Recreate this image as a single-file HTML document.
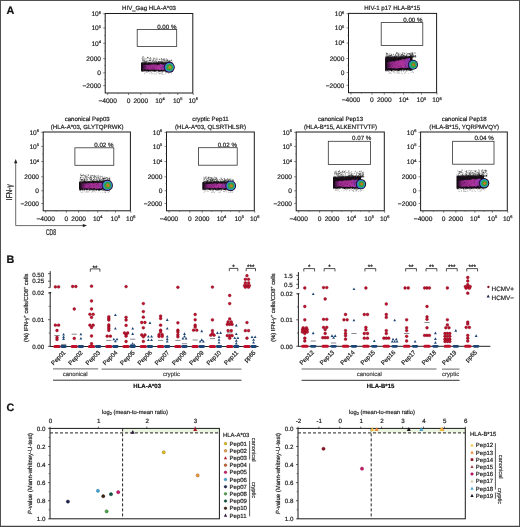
<!DOCTYPE html>
<html><head><meta charset="utf-8"><style>
html,body{margin:0;padding:0;background:#fff;}
body{width:520px;height:527px;overflow:hidden;position:relative;font-family:"Liberation Sans",sans-serif;}
svg{position:absolute;left:0;top:0;display:block;will-change:transform;text-rendering:geometricPrecision;}
</style></head><body>
<svg width="520" height="527" viewBox="0 0 520 527" font-family="Liberation Sans, sans-serif">
<rect x="0" y="0" width="520" height="527" fill="#fff"/>
<text x="6.50" y="14.47" font-size="10.8" text-anchor="start" fill="#111" stroke="#111" stroke-width="0.2" font-weight="bold" >A</text>
<rect x="105.20" y="13.50" width="87.60" height="79.50" fill="none" stroke="#1a1a1a" stroke-width="1"/>
<line x1="103.20" y1="13.80" x2="105.20" y2="13.80" stroke="#333" stroke-width="0.6" />
<text x="101.00" y="16.16" font-size="6.6" text-anchor="end" fill="#222" stroke="#222" stroke-width="0.2" >10<tspan font-size="4" dy="-2.3">6</tspan></text>
<line x1="103.20" y1="28.00" x2="105.20" y2="28.00" stroke="#333" stroke-width="0.6" />
<text x="101.00" y="30.36" font-size="6.6" text-anchor="end" fill="#222" stroke="#222" stroke-width="0.2" >10<tspan font-size="4" dy="-2.3">5</tspan></text>
<line x1="103.20" y1="43.30" x2="105.20" y2="43.30" stroke="#333" stroke-width="0.6" />
<text x="101.00" y="45.66" font-size="6.6" text-anchor="end" fill="#222" stroke="#222" stroke-width="0.2" >10<tspan font-size="4" dy="-2.3">4</tspan></text>
<line x1="103.20" y1="58.70" x2="105.20" y2="58.70" stroke="#333" stroke-width="0.6" />
<text x="101.00" y="61.06" font-size="6.6" text-anchor="end" fill="#222" stroke="#222" stroke-width="0.2" >2000</text>
<line x1="103.20" y1="72.80" x2="105.20" y2="72.80" stroke="#333" stroke-width="0.6" />
<text x="101.00" y="75.16" font-size="6.6" text-anchor="end" fill="#222" stroke="#222" stroke-width="0.2" >0</text>
<line x1="103.20" y1="85.60" x2="105.20" y2="85.60" stroke="#333" stroke-width="0.6" />
<text x="101.00" y="87.96" font-size="6.6" text-anchor="end" fill="#222" stroke="#222" stroke-width="0.2" >−2000</text>
<line x1="104.00" y1="21.00" x2="105.20" y2="21.00" stroke="#555" stroke-width="0.5" />
<line x1="104.00" y1="35.50" x2="105.20" y2="35.50" stroke="#555" stroke-width="0.5" />
<line x1="104.00" y1="51.00" x2="105.20" y2="51.00" stroke="#555" stroke-width="0.5" />
<line x1="104.00" y1="65.50" x2="105.20" y2="65.50" stroke="#555" stroke-width="0.5" />
<line x1="104.00" y1="79.50" x2="105.20" y2="79.50" stroke="#555" stroke-width="0.5" />
<line x1="107.70" y1="93.00" x2="107.70" y2="95.00" stroke="#333" stroke-width="0.6" />
<text x="107.70" y="102.76" font-size="6.6" text-anchor="middle" fill="#222" stroke="#222" stroke-width="0.2" >−4000</text>
<line x1="128.50" y1="93.00" x2="128.50" y2="95.00" stroke="#333" stroke-width="0.6" />
<text x="128.50" y="102.76" font-size="6.6" text-anchor="middle" fill="#222" stroke="#222" stroke-width="0.2" >0</text>
<line x1="140.80" y1="93.00" x2="140.80" y2="95.00" stroke="#333" stroke-width="0.6" />
<text x="140.80" y="102.76" font-size="6.6" text-anchor="middle" fill="#222" stroke="#222" stroke-width="0.2" >2000</text>
<line x1="160.00" y1="93.00" x2="160.00" y2="95.00" stroke="#333" stroke-width="0.6" />
<text x="160.00" y="102.76" font-size="6.6" text-anchor="middle" fill="#222" stroke="#222" stroke-width="0.2" >10<tspan font-size="4" dy="-2.3">4</tspan></text>
<line x1="177.70" y1="93.00" x2="177.70" y2="95.00" stroke="#333" stroke-width="0.6" />
<text x="177.70" y="102.76" font-size="6.6" text-anchor="middle" fill="#222" stroke="#222" stroke-width="0.2" >10<tspan font-size="4" dy="-2.3">5</tspan></text>
<line x1="193.20" y1="93.00" x2="193.20" y2="95.00" stroke="#333" stroke-width="0.6" />
<text x="193.20" y="102.76" font-size="6.6" text-anchor="middle" fill="#222" stroke="#222" stroke-width="0.2" >10<tspan font-size="4" dy="-2.3">6</tspan></text>
<line x1="118.20" y1="93.00" x2="118.20" y2="94.20" stroke="#555" stroke-width="0.5" />
<line x1="150.20" y1="93.00" x2="150.20" y2="94.20" stroke="#555" stroke-width="0.5" />
<line x1="169.20" y1="93.00" x2="169.20" y2="94.20" stroke="#555" stroke-width="0.5" />
<text x="149.00" y="10.18" font-size="6.1" text-anchor="middle" fill="#222" stroke="#222" stroke-width="0.2" >HIV_Gag HLA-A*03</text>
<rect x="137.20" y="29.40" width="39.50" height="17.10" fill="none" stroke="#333" stroke-width="0.8"/>
<text x="176.40" y="28.82" font-size="6.2" text-anchor="end" fill="#222" stroke="#222" stroke-width="0.2" >0.00 %</text>
<path d="M151.3,63.2h0.8v0.8h-0.8zM142.6,62.6h0.8v0.8h-0.8zM148.8,62.0h0.8v0.8h-0.8zM160.6,62.0h0.8v0.8h-0.8zM158.5,61.3h0.8v0.8h-0.8zM144.5,60.6h0.8v0.8h-0.8zM150.2,57.3h0.8v0.8h-0.8zM146.1,62.3h0.8v0.8h-0.8zM159.1,62.5h0.8v0.8h-0.8zM170.1,62.5h0.8v0.8h-0.8zM146.1,61.2h0.8v0.8h-0.8zM162.4,62.3h0.8v0.8h-0.8zM160.7,63.1h0.8v0.8h-0.8zM171.3,62.6h0.8v0.8h-0.8zM151.8,63.2h0.8v0.8h-0.8zM156.0,61.2h0.8v0.8h-0.8zM145.9,62.0h0.8v0.8h-0.8zM164.5,62.9h0.8v0.8h-0.8zM147.6,62.3h0.8v0.8h-0.8zM147.7,61.5h0.8v0.8h-0.8zM156.0,61.5h0.8v0.8h-0.8zM155.5,60.7h0.8v0.8h-0.8zM142.1,59.5h0.8v0.8h-0.8zM157.6,62.2h0.8v0.8h-0.8zM167.9,60.9h0.8v0.8h-0.8zM155.8,60.9h0.8v0.8h-0.8zM165.3,63.0h0.8v0.8h-0.8zM149.0,63.0h0.8v0.8h-0.8zM156.9,62.0h0.8v0.8h-0.8zM167.0,63.0h0.8v0.8h-0.8zM158.3,62.6h0.8v0.8h-0.8zM162.7,63.1h0.8v0.8h-0.8zM165.7,63.0h0.8v0.8h-0.8zM149.6,63.2h0.8v0.8h-0.8zM142.8,60.6h0.8v0.8h-0.8zM165.9,58.6h0.8v0.8h-0.8zM153.8,62.9h0.8v0.8h-0.8zM159.6,61.3h0.8v0.8h-0.8zM149.0,60.1h0.8v0.8h-0.8zM169.1,61.1h0.8v0.8h-0.8zM156.3,63.1h0.8v0.8h-0.8zM164.2,62.4h0.8v0.8h-0.8zM155.6,62.5h0.8v0.8h-0.8zM171.1,59.7h0.8v0.8h-0.8zM154.1,62.8h0.8v0.8h-0.8zM169.5,61.1h0.8v0.8h-0.8zM165.3,62.6h0.8v0.8h-0.8zM152.9,62.9h0.8v0.8h-0.8zM167.2,60.1h0.8v0.8h-0.8zM170.8,62.4h0.8v0.8h-0.8zM171.0,62.9h0.8v0.8h-0.8zM148.3,63.2h0.8v0.8h-0.8zM144.1,59.8h0.8v0.8h-0.8zM165.2,63.0h0.8v0.8h-0.8zM162.7,63.1h0.8v0.8h-0.8zM153.3,63.1h0.8v0.8h-0.8zM169.5,62.9h0.8v0.8h-0.8zM168.7,62.5h0.8v0.8h-0.8zM143.9,62.7h0.8v0.8h-0.8zM142.7,63.3h0.8v0.8h-0.8zM152.5,62.9h0.8v0.8h-0.8zM169.5,62.9h0.8v0.8h-0.8zM145.5,62.3h0.8v0.8h-0.8zM155.5,60.3h0.8v0.8h-0.8zM149.0,63.2h0.8v0.8h-0.8zM171.2,60.2h0.8v0.8h-0.8zM149.5,63.2h0.8v0.8h-0.8zM160.3,61.4h0.8v0.8h-0.8zM156.9,63.0h0.8v0.8h-0.8zM161.3,58.2h0.8v0.8h-0.8zM167.0,59.6h0.8v0.8h-0.8zM168.1,62.9h0.8v0.8h-0.8zM155.1,63.0h0.8v0.8h-0.8zM142.8,56.2h0.8v0.8h-0.8zM158.1,63.1h0.8v0.8h-0.8zM161.7,62.7h0.8v0.8h-0.8zM160.9,59.2h0.8v0.8h-0.8zM150.6,59.4h0.8v0.8h-0.8zM171.1,62.5h0.8v0.8h-0.8zM159.9,61.7h0.8v0.8h-0.8zM142.7,61.9h0.8v0.8h-0.8zM156.8,63.1h0.8v0.8h-0.8zM152.6,60.0h0.8v0.8h-0.8zM165.1,62.3h0.8v0.8h-0.8zM142.3,63.3h0.8v0.8h-0.8zM165.5,62.9h0.8v0.8h-0.8zM158.3,62.0h0.8v0.8h-0.8zM146.9,60.4h0.8v0.8h-0.8zM154.2,62.8h0.8v0.8h-0.8zM145.5,63.1h0.8v0.8h-0.8zM162.9,62.6h0.8v0.8h-0.8zM153.7,63.0h0.8v0.8h-0.8zM149.0,58.4h0.8v0.8h-0.8zM148.7,63.2h0.8v0.8h-0.8zM155.8,62.2h0.8v0.8h-0.8zM145.9,63.2h0.8v0.8h-0.8zM162.5,61.7h0.8v0.8h-0.8zM147.5,57.5h0.8v0.8h-0.8zM144.7,63.2h0.8v0.8h-0.8zM142.5,57.1h0.8v0.8h-0.8zM167.3,61.9h0.8v0.8h-0.8zM165.4,63.0h0.8v0.8h-0.8zM150.2,60.4h0.8v0.8h-0.8zM144.8,61.3h0.8v0.8h-0.8zM156.4,57.7h0.8v0.8h-0.8zM169.6,60.0h0.8v0.8h-0.8zM170.1,63.0h0.8v0.8h-0.8zM151.4,63.1h0.8v0.8h-0.8zM147.8,62.8h0.8v0.8h-0.8zM154.6,63.0h0.8v0.8h-0.8zM167.2,62.5h0.8v0.8h-0.8zM168.6,62.8h0.8v0.8h-0.8zM153.3,62.4h0.8v0.8h-0.8zM157.9,61.0h0.8v0.8h-0.8zM171.5,62.9h0.8v0.8h-0.8zM163.6,61.9h0.8v0.8h-0.8zM149.1,62.8h0.8v0.8h-0.8zM147.9,63.2h0.8v0.8h-0.8z" fill="#1a1a1a" opacity="0.75"/>
<path d="M159.2,59.1h0.8v0.8h-0.8zM166.6,63.0h0.8v0.8h-0.8zM159.0,62.7h0.8v0.8h-0.8zM152.5,63.1h0.8v0.8h-0.8zM142.2,62.5h0.8v0.8h-0.8zM160.0,62.4h0.8v0.8h-0.8zM164.8,63.0h0.8v0.8h-0.8zM170.5,63.0h0.8v0.8h-0.8zM160.0,62.9h0.8v0.8h-0.8zM160.1,63.1h0.8v0.8h-0.8zM156.1,62.9h0.8v0.8h-0.8zM169.0,62.8h0.8v0.8h-0.8zM160.8,61.8h0.8v0.8h-0.8zM165.9,60.5h0.8v0.8h-0.8zM170.4,62.8h0.8v0.8h-0.8zM163.5,63.0h0.8v0.8h-0.8zM161.4,62.8h0.8v0.8h-0.8zM171.4,62.9h0.8v0.8h-0.8zM142.3,63.2h0.8v0.8h-0.8zM166.6,60.0h0.8v0.8h-0.8zM165.0,63.0h0.8v0.8h-0.8zM154.9,61.7h0.8v0.8h-0.8zM169.5,60.0h0.8v0.8h-0.8zM153.4,62.9h0.8v0.8h-0.8zM165.3,59.7h0.8v0.8h-0.8zM168.3,63.0h0.8v0.8h-0.8zM157.0,63.1h0.8v0.8h-0.8zM149.7,58.4h0.8v0.8h-0.8zM165.8,63.0h0.8v0.8h-0.8zM169.6,62.9h0.8v0.8h-0.8zM170.9,62.9h0.8v0.8h-0.8zM142.0,60.3h0.8v0.8h-0.8zM170.9,62.8h0.8v0.8h-0.8zM171.3,62.8h0.8v0.8h-0.8zM171.0,62.3h0.8v0.8h-0.8zM142.5,58.3h0.8v0.8h-0.8zM144.0,63.1h0.8v0.8h-0.8zM150.7,63.1h0.8v0.8h-0.8zM146.0,60.5h0.8v0.8h-0.8zM163.7,60.4h0.8v0.8h-0.8zM166.5,62.1h0.8v0.8h-0.8zM158.4,61.7h0.8v0.8h-0.8zM148.6,60.3h0.8v0.8h-0.8zM164.7,61.9h0.8v0.8h-0.8zM161.2,61.3h0.8v0.8h-0.8zM171.0,63.0h0.8v0.8h-0.8zM171.6,62.7h0.8v0.8h-0.8zM168.4,61.4h0.8v0.8h-0.8zM162.2,62.7h0.8v0.8h-0.8zM166.9,63.0h0.8v0.8h-0.8zM166.1,61.8h0.8v0.8h-0.8zM156.2,58.9h0.8v0.8h-0.8zM158.4,62.7h0.8v0.8h-0.8zM171.7,62.6h0.8v0.8h-0.8zM158.1,63.0h0.8v0.8h-0.8zM151.9,63.2h0.8v0.8h-0.8zM152.7,59.9h0.8v0.8h-0.8zM153.1,60.6h0.8v0.8h-0.8zM145.3,62.3h0.8v0.8h-0.8zM161.1,62.9h0.8v0.8h-0.8zM150.6,57.9h0.8v0.8h-0.8zM149.9,63.0h0.8v0.8h-0.8zM155.9,63.0h0.8v0.8h-0.8zM163.9,62.4h0.8v0.8h-0.8zM156.5,63.1h0.8v0.8h-0.8zM144.8,61.4h0.8v0.8h-0.8zM143.1,63.3h0.8v0.8h-0.8zM154.1,60.9h0.8v0.8h-0.8zM163.7,58.4h0.8v0.8h-0.8zM144.2,60.7h0.8v0.8h-0.8zM152.8,58.5h0.8v0.8h-0.8zM165.8,63.0h0.8v0.8h-0.8zM165.8,61.1h0.8v0.8h-0.8zM157.0,62.7h0.8v0.8h-0.8zM156.1,62.1h0.8v0.8h-0.8zM147.5,63.1h0.8v0.8h-0.8zM148.6,63.0h0.8v0.8h-0.8zM151.4,62.7h0.8v0.8h-0.8zM141.6,58.2h0.8v0.8h-0.8zM147.2,57.1h0.8v0.8h-0.8zM169.7,62.7h0.8v0.8h-0.8zM148.1,62.8h0.8v0.8h-0.8zM159.7,61.5h0.8v0.8h-0.8zM165.6,61.6h0.8v0.8h-0.8zM160.9,63.1h0.8v0.8h-0.8zM147.7,63.2h0.8v0.8h-0.8zM159.0,62.8h0.8v0.8h-0.8zM145.4,63.3h0.8v0.8h-0.8zM158.9,58.9h0.8v0.8h-0.8zM145.9,63.1h0.8v0.8h-0.8zM164.3,60.6h0.8v0.8h-0.8zM168.9,61.9h0.8v0.8h-0.8zM145.2,63.1h0.8v0.8h-0.8zM161.2,62.9h0.8v0.8h-0.8zM160.3,62.4h0.8v0.8h-0.8zM164.3,59.6h0.8v0.8h-0.8zM150.2,59.7h0.8v0.8h-0.8zM162.3,61.1h0.8v0.8h-0.8zM156.7,58.8h0.8v0.8h-0.8zM159.4,61.8h0.8v0.8h-0.8zM151.2,63.2h0.8v0.8h-0.8zM162.1,59.5h0.8v0.8h-0.8zM151.5,63.2h0.8v0.8h-0.8zM163.7,61.0h0.8v0.8h-0.8zM150.7,62.2h0.8v0.8h-0.8zM154.0,63.0h0.8v0.8h-0.8zM146.3,63.2h0.8v0.8h-0.8zM143.4,63.3h0.8v0.8h-0.8zM141.9,61.9h0.8v0.8h-0.8zM150.5,58.2h0.8v0.8h-0.8zM144.1,62.2h0.8v0.8h-0.8zM149.4,63.1h0.8v0.8h-0.8zM147.3,62.8h0.8v0.8h-0.8zM167.5,62.6h0.8v0.8h-0.8zM158.8,62.9h0.8v0.8h-0.8zM153.4,61.9h0.8v0.8h-0.8zM160.3,63.1h0.8v0.8h-0.8zM162.7,63.1h0.8v0.8h-0.8zM156.0,63.1h0.8v0.8h-0.8zM152.0,60.9h0.8v0.8h-0.8zM146.7,63.2h0.8v0.8h-0.8zM159.0,63.1h0.8v0.8h-0.8zM169.9,62.9h0.8v0.8h-0.8zM147.7,63.1h0.8v0.8h-0.8zM153.0,59.0h0.8v0.8h-0.8zM152.1,62.9h0.8v0.8h-0.8zM161.0,61.3h0.8v0.8h-0.8zM149.6,60.3h0.8v0.8h-0.8zM159.8,62.8h0.8v0.8h-0.8zM146.5,61.2h0.8v0.8h-0.8zM163.7,62.6h0.8v0.8h-0.8zM167.1,61.6h0.8v0.8h-0.8zM160.3,62.7h0.8v0.8h-0.8zM142.7,62.0h0.8v0.8h-0.8zM163.2,58.9h0.8v0.8h-0.8zM153.9,58.2h0.8v0.8h-0.8zM170.0,62.3h0.8v0.8h-0.8z" fill="#1a1a1a" opacity="0.55"/>
<path d="M143.7,62.1h0.8v0.8h-0.8zM142.9,58.7h0.8v0.8h-0.8zM154.2,62.1h0.8v0.8h-0.8zM159.1,61.6h0.8v0.8h-0.8zM162.7,63.0h0.8v0.8h-0.8zM157.0,63.1h0.8v0.8h-0.8zM170.6,63.0h0.8v0.8h-0.8zM150.1,62.8h0.8v0.8h-0.8zM143.9,62.5h0.8v0.8h-0.8zM168.3,60.6h0.8v0.8h-0.8zM156.2,61.9h0.8v0.8h-0.8zM150.0,63.2h0.8v0.8h-0.8zM158.7,62.2h0.8v0.8h-0.8zM160.1,63.1h0.8v0.8h-0.8zM144.6,62.9h0.8v0.8h-0.8zM147.7,57.5h0.8v0.8h-0.8zM162.6,63.0h0.8v0.8h-0.8zM157.6,60.4h0.8v0.8h-0.8zM149.4,60.9h0.8v0.8h-0.8zM155.1,58.4h0.8v0.8h-0.8zM144.6,62.4h0.8v0.8h-0.8zM168.4,62.6h0.8v0.8h-0.8zM166.8,63.0h0.8v0.8h-0.8zM156.9,63.0h0.8v0.8h-0.8zM154.5,63.1h0.8v0.8h-0.8zM170.0,61.8h0.8v0.8h-0.8zM151.8,63.1h0.8v0.8h-0.8zM144.3,62.9h0.8v0.8h-0.8zM153.1,62.2h0.8v0.8h-0.8zM170.9,63.0h0.8v0.8h-0.8zM167.2,61.6h0.8v0.8h-0.8zM147.6,63.0h0.8v0.8h-0.8zM156.7,63.1h0.8v0.8h-0.8zM166.9,63.0h0.8v0.8h-0.8zM167.9,61.6h0.8v0.8h-0.8zM141.6,62.9h0.8v0.8h-0.8zM159.3,62.7h0.8v0.8h-0.8zM144.1,63.3h0.8v0.8h-0.8zM149.1,63.2h0.8v0.8h-0.8zM167.1,63.0h0.8v0.8h-0.8zM143.8,63.2h0.8v0.8h-0.8zM141.9,63.3h0.8v0.8h-0.8zM162.0,62.9h0.8v0.8h-0.8zM171.6,62.3h0.8v0.8h-0.8zM143.8,63.3h0.8v0.8h-0.8zM170.4,63.0h0.8v0.8h-0.8zM167.0,63.0h0.8v0.8h-0.8zM163.1,59.5h0.8v0.8h-0.8zM171.8,62.1h0.8v0.8h-0.8zM150.0,63.2h0.8v0.8h-0.8zM160.7,63.1h0.8v0.8h-0.8zM154.7,62.9h0.8v0.8h-0.8zM155.2,60.6h0.8v0.8h-0.8zM146.7,62.7h0.8v0.8h-0.8zM150.5,60.5h0.8v0.8h-0.8zM158.2,62.5h0.8v0.8h-0.8zM156.6,62.0h0.8v0.8h-0.8zM153.6,62.6h0.8v0.8h-0.8zM142.4,62.7h0.8v0.8h-0.8zM162.6,61.2h0.8v0.8h-0.8zM162.2,63.0h0.8v0.8h-0.8zM148.5,63.1h0.8v0.8h-0.8zM153.4,58.8h0.8v0.8h-0.8zM146.6,63.2h0.8v0.8h-0.8zM164.1,59.6h0.8v0.8h-0.8zM149.4,60.7h0.8v0.8h-0.8zM159.9,62.9h0.8v0.8h-0.8zM165.1,62.9h0.8v0.8h-0.8zM158.7,62.8h0.8v0.8h-0.8zM144.7,61.6h0.8v0.8h-0.8zM162.1,63.0h0.8v0.8h-0.8zM153.6,63.0h0.8v0.8h-0.8zM151.0,61.9h0.8v0.8h-0.8zM154.0,63.2h0.8v0.8h-0.8zM169.9,63.0h0.8v0.8h-0.8zM159.7,62.1h0.8v0.8h-0.8zM142.7,63.3h0.8v0.8h-0.8zM143.5,62.9h0.8v0.8h-0.8zM146.3,58.3h0.8v0.8h-0.8zM168.9,62.5h0.8v0.8h-0.8zM153.7,61.5h0.8v0.8h-0.8zM171.5,62.1h0.8v0.8h-0.8zM150.5,62.2h0.8v0.8h-0.8zM160.9,58.3h0.8v0.8h-0.8zM142.2,63.3h0.8v0.8h-0.8zM160.8,59.7h0.8v0.8h-0.8zM143.2,59.2h0.8v0.8h-0.8zM166.1,63.0h0.8v0.8h-0.8zM146.8,56.7h0.8v0.8h-0.8zM148.5,63.2h0.8v0.8h-0.8zM168.5,59.6h0.8v0.8h-0.8zM162.3,59.2h0.8v0.8h-0.8zM170.1,61.2h0.8v0.8h-0.8zM163.8,63.1h0.8v0.8h-0.8zM166.5,61.8h0.8v0.8h-0.8zM150.4,62.9h0.8v0.8h-0.8zM142.1,63.1h0.8v0.8h-0.8zM143.0,60.0h0.8v0.8h-0.8zM163.1,60.2h0.8v0.8h-0.8zM159.5,58.5h0.8v0.8h-0.8zM154.3,61.5h0.8v0.8h-0.8zM167.8,62.6h0.8v0.8h-0.8zM146.6,62.6h0.8v0.8h-0.8zM163.4,58.6h0.8v0.8h-0.8zM153.1,57.5h0.8v0.8h-0.8zM144.8,58.0h0.8v0.8h-0.8zM162.5,62.4h0.8v0.8h-0.8zM163.1,61.8h0.8v0.8h-0.8zM160.9,60.1h0.8v0.8h-0.8zM160.5,61.4h0.8v0.8h-0.8z" fill="#1a1a1a" opacity="0.4"/>
<path d="M160.3,62.4h0.8v0.8h-0.8zM165.1,62.5h0.8v0.8h-0.8zM157.4,59.4h0.8v0.8h-0.8zM151.8,62.9h0.8v0.8h-0.8zM143.3,60.7h0.8v0.8h-0.8zM153.6,58.6h0.8v0.8h-0.8zM162.9,58.4h0.8v0.8h-0.8zM155.3,59.3h0.8v0.8h-0.8zM153.6,62.7h0.8v0.8h-0.8zM170.5,62.0h0.8v0.8h-0.8zM145.2,59.0h0.8v0.8h-0.8zM171.5,61.0h0.8v0.8h-0.8zM166.8,63.0h0.8v0.8h-0.8zM165.2,61.0h0.8v0.8h-0.8zM144.1,57.3h0.8v0.8h-0.8zM142.3,61.6h0.8v0.8h-0.8zM165.9,63.0h0.8v0.8h-0.8zM157.5,58.7h0.8v0.8h-0.8zM164.6,62.8h0.8v0.8h-0.8zM168.7,61.7h0.8v0.8h-0.8zM151.4,62.2h0.8v0.8h-0.8zM162.5,62.5h0.8v0.8h-0.8zM145.8,58.5h0.8v0.8h-0.8zM148.2,57.6h0.8v0.8h-0.8zM146.4,62.6h0.8v0.8h-0.8zM149.7,63.2h0.8v0.8h-0.8zM153.8,62.1h0.8v0.8h-0.8zM143.5,58.6h0.8v0.8h-0.8zM141.8,56.2h0.8v0.8h-0.8zM157.6,63.1h0.8v0.8h-0.8zM157.1,63.0h0.8v0.8h-0.8zM144.7,59.3h0.8v0.8h-0.8zM161.4,62.2h0.8v0.8h-0.8zM154.6,63.2h0.8v0.8h-0.8zM155.4,63.1h0.8v0.8h-0.8zM152.3,63.2h0.8v0.8h-0.8zM149.5,63.2h0.8v0.8h-0.8zM161.4,61.1h0.8v0.8h-0.8zM164.7,61.2h0.8v0.8h-0.8zM142.8,59.0h0.8v0.8h-0.8zM170.6,62.7h0.8v0.8h-0.8zM161.5,63.1h0.8v0.8h-0.8zM163.9,58.7h0.8v0.8h-0.8zM150.3,63.2h0.8v0.8h-0.8zM156.6,59.3h0.8v0.8h-0.8zM142.3,63.3h0.8v0.8h-0.8zM149.2,63.2h0.8v0.8h-0.8zM163.3,63.1h0.8v0.8h-0.8zM153.8,63.1h0.8v0.8h-0.8zM161.0,63.1h0.8v0.8h-0.8zM168.4,61.1h0.8v0.8h-0.8zM144.3,58.2h0.8v0.8h-0.8zM145.4,62.6h0.8v0.8h-0.8zM153.4,58.4h0.8v0.8h-0.8zM170.0,61.4h0.8v0.8h-0.8zM160.5,62.2h0.8v0.8h-0.8zM141.8,63.0h0.8v0.8h-0.8zM143.2,63.2h0.8v0.8h-0.8zM144.0,63.2h0.8v0.8h-0.8zM170.2,63.0h0.8v0.8h-0.8zM151.5,63.1h0.8v0.8h-0.8zM142.5,61.0h0.8v0.8h-0.8zM166.9,58.8h0.8v0.8h-0.8zM158.5,60.7h0.8v0.8h-0.8zM152.3,59.7h0.8v0.8h-0.8zM151.3,60.6h0.8v0.8h-0.8zM142.4,62.7h0.8v0.8h-0.8zM142.2,63.2h0.8v0.8h-0.8zM163.2,62.5h0.8v0.8h-0.8zM165.4,59.5h0.8v0.8h-0.8zM154.3,57.6h0.8v0.8h-0.8zM146.7,63.2h0.8v0.8h-0.8zM166.2,60.5h0.8v0.8h-0.8zM143.9,63.3h0.8v0.8h-0.8zM161.0,62.7h0.8v0.8h-0.8zM154.3,59.8h0.8v0.8h-0.8zM169.5,63.0h0.8v0.8h-0.8zM160.9,59.8h0.8v0.8h-0.8zM160.1,63.0h0.8v0.8h-0.8zM147.0,63.1h0.8v0.8h-0.8zM161.7,62.9h0.8v0.8h-0.8zM154.4,61.4h0.8v0.8h-0.8zM155.0,61.7h0.8v0.8h-0.8zM166.8,60.6h0.8v0.8h-0.8zM144.7,63.2h0.8v0.8h-0.8zM147.4,57.0h0.8v0.8h-0.8zM160.8,62.8h0.8v0.8h-0.8zM149.1,62.1h0.8v0.8h-0.8zM163.9,62.8h0.8v0.8h-0.8zM146.0,61.5h0.8v0.8h-0.8zM147.7,61.5h0.8v0.8h-0.8zM159.5,62.0h0.8v0.8h-0.8zM145.8,63.2h0.8v0.8h-0.8zM143.4,61.4h0.8v0.8h-0.8zM163.2,63.1h0.8v0.8h-0.8zM164.1,62.5h0.8v0.8h-0.8zM163.1,62.9h0.8v0.8h-0.8zM153.0,59.4h0.8v0.8h-0.8zM168.2,61.1h0.8v0.8h-0.8zM164.8,61.9h0.8v0.8h-0.8zM141.6,62.3h0.8v0.8h-0.8zM162.6,60.2h0.8v0.8h-0.8zM160.5,62.8h0.8v0.8h-0.8zM159.0,63.1h0.8v0.8h-0.8zM141.9,58.7h0.8v0.8h-0.8zM155.5,63.1h0.8v0.8h-0.8zM141.7,63.2h0.8v0.8h-0.8zM162.7,62.0h0.8v0.8h-0.8zM162.1,61.7h0.8v0.8h-0.8zM168.6,62.9h0.8v0.8h-0.8zM157.2,63.1h0.8v0.8h-0.8zM141.9,62.7h0.8v0.8h-0.8zM144.8,63.0h0.8v0.8h-0.8zM171.6,59.5h0.8v0.8h-0.8zM166.0,61.8h0.8v0.8h-0.8z" fill="#1a1a1a" opacity="0.25"/>
<path d="M160.8,73.3h0.7v0.7h-0.7zM165.9,71.6h0.7v0.7h-0.7zM161.5,73.6h0.7v0.7h-0.7zM165.3,72.4h0.7v0.7h-0.7zM171.2,73.5h0.7v0.7h-0.7zM161.0,73.5h0.7v0.7h-0.7zM155.8,73.5h0.7v0.7h-0.7zM148.8,73.2h0.7v0.7h-0.7zM162.1,74.1h0.7v0.7h-0.7zM161.9,72.6h0.7v0.7h-0.7zM165.6,73.6h0.7v0.7h-0.7zM152.5,73.0h0.7v0.7h-0.7zM151.4,72.5h0.7v0.7h-0.7zM160.3,71.4h0.7v0.7h-0.7zM168.3,71.7h0.7v0.7h-0.7zM150.9,72.2h0.7v0.7h-0.7zM144.5,72.7h0.7v0.7h-0.7zM151.5,73.9h0.7v0.7h-0.7zM157.5,72.2h0.7v0.7h-0.7zM159.1,73.1h0.7v0.7h-0.7zM148.1,71.3h0.7v0.7h-0.7zM150.6,72.9h0.7v0.7h-0.7zM158.9,73.7h0.7v0.7h-0.7zM147.4,72.4h0.7v0.7h-0.7zM165.0,71.8h0.7v0.7h-0.7zM153.8,72.7h0.7v0.7h-0.7zM159.9,73.2h0.7v0.7h-0.7zM170.6,71.5h0.7v0.7h-0.7zM168.4,72.8h0.7v0.7h-0.7zM160.7,72.0h0.7v0.7h-0.7zM156.5,71.7h0.7v0.7h-0.7zM144.3,73.5h0.7v0.7h-0.7zM161.7,71.5h0.7v0.7h-0.7zM145.5,72.3h0.7v0.7h-0.7zM166.2,72.6h0.7v0.7h-0.7zM158.3,72.6h0.7v0.7h-0.7zM168.5,73.3h0.7v0.7h-0.7zM149.2,71.6h0.7v0.7h-0.7zM159.6,73.3h0.7v0.7h-0.7zM146.7,72.0h0.7v0.7h-0.7zM162.4,72.6h0.7v0.7h-0.7zM150.7,72.5h0.7v0.7h-0.7zM154.5,74.1h0.7v0.7h-0.7zM161.8,71.7h0.7v0.7h-0.7zM152.6,73.0h0.7v0.7h-0.7zM142.6,71.1h0.7v0.7h-0.7zM163.6,74.2h0.7v0.7h-0.7zM165.7,71.5h0.7v0.7h-0.7zM156.2,73.4h0.7v0.7h-0.7zM146.2,71.7h0.7v0.7h-0.7z" fill="#333" opacity="0.45"/>
<path d="M141.0,62.3 L141.7,62.8 L142.4,62.8 L143.1,61.9 L143.8,62.4 L144.5,61.6 L145.2,62.0 L145.9,61.4 L146.6,62.5 L147.3,62.4 L148.0,62.5 L148.7,62.8 L149.4,62.4 L150.1,62.3 L150.8,62.1 L151.5,62.3 L152.2,61.2 L152.9,61.4 L153.6,62.3 L154.3,62.5 L155.0,62.0 L155.7,62.6 L156.4,62.5 L157.1,61.6 L157.8,62.6 L158.5,61.2 L159.2,62.7 L159.9,61.1 L160.6,62.1 L161.3,61.8 L162.0,62.1 L162.7,61.8 L163.4,62.1 L164.1,62.6 L164.8,62.7 L165.5,61.3 L166.2,61.9 L166.9,61.4 L167.6,62.6 L168.3,61.9 L169.0,61.8 L169.0,72.1 L168.3,71.4 L167.6,72.0 L166.9,72.4 L166.2,71.9 L165.5,72.0 L164.8,71.2 L164.1,71.6 L163.4,72.0 L162.7,71.7 L162.0,72.1 L161.3,72.1 L160.6,71.8 L159.9,71.7 L159.2,72.2 L158.5,71.8 L157.8,71.8 L157.1,71.1 L156.4,71.1 L155.7,71.3 L155.0,72.1 L154.3,71.9 L153.6,71.5 L152.9,71.3 L152.2,72.1 L151.5,71.1 L150.8,72.2 L150.1,71.2 L149.4,71.6 L148.7,72.1 L148.0,71.8 L147.3,71.3 L146.6,71.8 L145.9,71.8 L145.2,71.1 L144.5,71.1 L143.8,72.1 L143.1,71.8 L142.4,71.8 L141.7,71.2 L141.0,71.5 Z" fill="#222" opacity="0.55"/>
<path d="M141.0,63.2 L141.7,62.5 L142.4,63.1 L143.1,63.7 L143.8,63.3 L144.5,63.0 L145.2,62.4 L145.9,63.4 L146.6,63.8 L147.3,63.6 L148.0,62.7 L148.7,62.5 L149.4,63.0 L150.1,62.7 L150.8,63.1 L151.5,63.0 L152.2,63.4 L152.9,63.7 L153.6,62.8 L154.3,63.4 L155.0,63.3 L155.7,62.5 L156.4,63.4 L157.1,62.7 L157.8,63.1 L158.5,63.0 L159.2,63.2 L159.9,63.5 L160.6,63.6 L161.3,62.3 L162.0,62.2 L162.7,62.3 L163.4,63.5 L164.1,63.2 L164.8,63.1 L165.5,62.7 L166.2,62.6 L166.9,63.0 L167.6,63.6 L168.3,63.4 L169.0,63.0 L169.0,71.6 L168.3,71.6 L167.6,71.8 L166.9,70.8 L166.2,70.9 L165.5,71.0 L164.8,71.5 L164.1,71.1 L163.4,70.9 L162.7,71.6 L162.0,71.0 L161.3,71.0 L160.6,70.9 L159.9,71.8 L159.2,71.3 L158.5,71.6 L157.8,70.7 L157.1,70.5 L156.4,71.5 L155.7,71.6 L155.0,71.3 L154.3,71.5 L153.6,71.3 L152.9,71.3 L152.2,70.8 L151.5,70.9 L150.8,71.5 L150.1,70.8 L149.4,71.0 L148.7,71.5 L148.0,71.1 L147.3,71.5 L146.6,70.7 L145.9,71.7 L145.2,70.6 L144.5,71.7 L143.8,70.6 L143.1,71.0 L142.4,71.4 L141.7,71.6 L141.0,70.8 Z" fill="#150c15"/>
<defs><linearGradient id="mg1" x1="0" x2="1" y1="0" y2="0"><stop offset="0" stop-color="#3a1038"/><stop offset="0.2" stop-color="#962a8a"/><stop offset="0.7" stop-color="#b0349e"/><stop offset="1" stop-color="#7a3ab0"/></linearGradient></defs>
<path d="M142.8,64.5 L143.8,64.4 L144.8,65.0 L145.8,65.0 L146.8,64.4 L147.8,65.0 L148.8,64.9 L149.8,64.6 L150.8,64.8 L151.8,64.6 L152.8,64.6 L153.8,64.6 L154.8,64.5 L155.8,64.4 L156.8,64.8 L157.8,64.7 L158.8,64.9 L159.8,64.3 L160.8,64.1 L161.8,64.4 L162.8,64.6 L163.8,64.8 L164.8,64.5 L165.8,64.0 L166.3,64.3 L166.3,69.8 L165.8,69.8 L164.8,70.2 L163.8,69.9 L162.8,70.2 L161.8,69.6 L160.8,70.1 L159.8,70.1 L158.8,69.7 L157.8,69.9 L156.8,69.6 L155.8,70.0 L154.8,69.5 L153.8,69.6 L152.8,69.5 L151.8,69.8 L150.8,69.6 L149.8,70.0 L148.8,69.6 L147.8,69.8 L146.8,69.7 L145.8,69.4 L144.8,69.6 L143.8,69.7 L142.8,69.7 Z" fill="url(#mg1)"/>
<path d="M144.7,66.3h0.7v0.7h-0.7zM143.5,66.1h0.7v0.7h-0.7zM157.1,65.0h0.7v0.7h-0.7zM147.6,69.1h0.7v0.7h-0.7zM156.1,67.6h0.7v0.7h-0.7zM147.8,69.4h0.7v0.7h-0.7zM149.4,65.1h0.7v0.7h-0.7zM153.3,67.7h0.7v0.7h-0.7zM157.1,65.2h0.7v0.7h-0.7zM162.6,66.3h0.7v0.7h-0.7zM166.2,66.5h0.7v0.7h-0.7zM143.4,64.8h0.7v0.7h-0.7zM151.5,68.2h0.7v0.7h-0.7zM154.2,69.0h0.7v0.7h-0.7zM163.8,69.1h0.7v0.7h-0.7zM157.8,69.4h0.7v0.7h-0.7zM159.4,65.0h0.7v0.7h-0.7zM150.3,65.8h0.7v0.7h-0.7zM144.9,69.3h0.7v0.7h-0.7zM154.7,65.5h0.7v0.7h-0.7zM162.8,66.5h0.7v0.7h-0.7zM148.3,68.3h0.7v0.7h-0.7zM146.8,69.4h0.7v0.7h-0.7zM164.9,64.8h0.7v0.7h-0.7zM155.8,64.7h0.7v0.7h-0.7zM164.4,65.8h0.7v0.7h-0.7zM154.9,68.4h0.7v0.7h-0.7zM160.7,67.1h0.7v0.7h-0.7zM145.2,66.3h0.7v0.7h-0.7zM142.9,65.7h0.7v0.7h-0.7zM160.4,67.6h0.7v0.7h-0.7zM153.2,68.0h0.7v0.7h-0.7zM153.9,66.5h0.7v0.7h-0.7zM152.0,66.5h0.7v0.7h-0.7zM151.7,66.9h0.7v0.7h-0.7zM161.8,69.4h0.7v0.7h-0.7zM163.8,67.0h0.7v0.7h-0.7zM164.2,68.8h0.7v0.7h-0.7zM146.5,68.9h0.7v0.7h-0.7zM144.6,67.8h0.7v0.7h-0.7z" fill="#2a0a2a" opacity="0.5"/>
<circle cx="169.30" cy="67.30" r="5.50" fill="#2a0c2e"/>
<circle cx="169.30" cy="67.30" r="4.60" fill="#4060d4"/>
<circle cx="169.50" cy="67.30" r="4.00" fill="#24acc8"/>
<circle cx="169.60" cy="67.30" r="3.40" fill="#34a044"/>
<circle cx="169.90" cy="67.30" r="1.70" fill="#b09020"/>
<rect x="348.50" y="13.40" width="88.10" height="79.30" fill="none" stroke="#1a1a1a" stroke-width="1"/>
<line x1="346.50" y1="13.70" x2="348.50" y2="13.70" stroke="#333" stroke-width="0.6" />
<text x="344.30" y="16.06" font-size="6.6" text-anchor="end" fill="#222" stroke="#222" stroke-width="0.2" >10<tspan font-size="4" dy="-2.3">6</tspan></text>
<line x1="346.50" y1="27.86" x2="348.50" y2="27.86" stroke="#333" stroke-width="0.6" />
<text x="344.30" y="30.23" font-size="6.6" text-anchor="end" fill="#222" stroke="#222" stroke-width="0.2" >10<tspan font-size="4" dy="-2.3">5</tspan></text>
<line x1="346.50" y1="43.13" x2="348.50" y2="43.13" stroke="#333" stroke-width="0.6" />
<text x="344.30" y="45.49" font-size="6.6" text-anchor="end" fill="#222" stroke="#222" stroke-width="0.2" >10<tspan font-size="4" dy="-2.3">4</tspan></text>
<line x1="346.50" y1="58.49" x2="348.50" y2="58.49" stroke="#333" stroke-width="0.6" />
<text x="344.30" y="60.85" font-size="6.6" text-anchor="end" fill="#222" stroke="#222" stroke-width="0.2" >2000</text>
<line x1="346.50" y1="72.55" x2="348.50" y2="72.55" stroke="#333" stroke-width="0.6" />
<text x="344.30" y="74.91" font-size="6.6" text-anchor="end" fill="#222" stroke="#222" stroke-width="0.2" >0</text>
<line x1="346.50" y1="85.32" x2="348.50" y2="85.32" stroke="#333" stroke-width="0.6" />
<text x="344.30" y="87.68" font-size="6.6" text-anchor="end" fill="#222" stroke="#222" stroke-width="0.2" >−2000</text>
<line x1="347.30" y1="20.88" x2="348.50" y2="20.88" stroke="#555" stroke-width="0.5" />
<line x1="347.30" y1="35.34" x2="348.50" y2="35.34" stroke="#555" stroke-width="0.5" />
<line x1="347.30" y1="50.81" x2="348.50" y2="50.81" stroke="#555" stroke-width="0.5" />
<line x1="347.30" y1="65.27" x2="348.50" y2="65.27" stroke="#555" stroke-width="0.5" />
<line x1="347.30" y1="79.23" x2="348.50" y2="79.23" stroke="#555" stroke-width="0.5" />
<line x1="351.01" y1="92.70" x2="351.01" y2="94.70" stroke="#333" stroke-width="0.6" />
<text x="351.01" y="102.46" font-size="6.6" text-anchor="middle" fill="#222" stroke="#222" stroke-width="0.2" >−4000</text>
<line x1="371.93" y1="92.70" x2="371.93" y2="94.70" stroke="#333" stroke-width="0.6" />
<text x="371.93" y="102.46" font-size="6.6" text-anchor="middle" fill="#222" stroke="#222" stroke-width="0.2" >0</text>
<line x1="384.30" y1="92.70" x2="384.30" y2="94.70" stroke="#333" stroke-width="0.6" />
<text x="384.30" y="102.46" font-size="6.6" text-anchor="middle" fill="#222" stroke="#222" stroke-width="0.2" >2000</text>
<line x1="403.61" y1="92.70" x2="403.61" y2="94.70" stroke="#333" stroke-width="0.6" />
<text x="403.61" y="102.46" font-size="6.6" text-anchor="middle" fill="#222" stroke="#222" stroke-width="0.2" >10<tspan font-size="4" dy="-2.3">4</tspan></text>
<line x1="421.41" y1="92.70" x2="421.41" y2="94.70" stroke="#333" stroke-width="0.6" />
<text x="421.41" y="102.46" font-size="6.6" text-anchor="middle" fill="#222" stroke="#222" stroke-width="0.2" >10<tspan font-size="4" dy="-2.3">5</tspan></text>
<line x1="437.00" y1="92.70" x2="437.00" y2="94.70" stroke="#333" stroke-width="0.6" />
<text x="437.00" y="102.46" font-size="6.6" text-anchor="middle" fill="#222" stroke="#222" stroke-width="0.2" >10<tspan font-size="4" dy="-2.3">6</tspan></text>
<line x1="361.57" y1="92.70" x2="361.57" y2="93.90" stroke="#555" stroke-width="0.5" />
<line x1="393.76" y1="92.70" x2="393.76" y2="93.90" stroke="#555" stroke-width="0.5" />
<line x1="412.87" y1="92.70" x2="412.87" y2="93.90" stroke="#555" stroke-width="0.5" />
<text x="392.30" y="10.28" font-size="6.1" text-anchor="middle" fill="#222" stroke="#222" stroke-width="0.2" >HIV-1 p17 HLA-B*15</text>
<rect x="381.20" y="22.60" width="41.60" height="22.90" fill="none" stroke="#333" stroke-width="0.8"/>
<text x="422.50" y="22.42" font-size="6.2" text-anchor="end" fill="#222" stroke="#222" stroke-width="0.2" >0.00 %</text>
<path d="M412.6,56.6h0.8v0.8h-0.8zM402.3,54.1h0.8v0.8h-0.8zM406.9,56.8h0.8v0.8h-0.8zM403.0,56.9h0.8v0.8h-0.8zM406.3,56.1h0.8v0.8h-0.8zM386.7,55.6h0.8v0.8h-0.8zM396.2,53.1h0.8v0.8h-0.8zM408.9,53.7h0.8v0.8h-0.8zM393.1,54.4h0.8v0.8h-0.8zM401.2,55.2h0.8v0.8h-0.8zM403.1,54.7h0.8v0.8h-0.8zM406.3,55.7h0.8v0.8h-0.8zM410.0,53.9h0.8v0.8h-0.8zM393.1,56.9h0.8v0.8h-0.8zM396.5,56.3h0.8v0.8h-0.8zM395.3,57.2h0.8v0.8h-0.8zM408.8,53.0h0.8v0.8h-0.8zM409.8,53.5h0.8v0.8h-0.8zM413.0,55.4h0.8v0.8h-0.8zM404.2,56.8h0.8v0.8h-0.8zM411.9,56.6h0.8v0.8h-0.8zM408.7,56.7h0.8v0.8h-0.8zM403.7,56.7h0.8v0.8h-0.8zM398.1,54.6h0.8v0.8h-0.8zM412.2,52.7h0.8v0.8h-0.8zM399.1,57.1h0.8v0.8h-0.8zM406.3,54.8h0.8v0.8h-0.8zM390.7,57.2h0.8v0.8h-0.8zM410.3,56.0h0.8v0.8h-0.8zM387.4,56.4h0.8v0.8h-0.8zM396.2,52.3h0.8v0.8h-0.8zM406.3,56.8h0.8v0.8h-0.8zM394.8,55.5h0.8v0.8h-0.8zM413.0,56.3h0.8v0.8h-0.8zM402.8,56.6h0.8v0.8h-0.8zM389.9,56.6h0.8v0.8h-0.8zM410.2,55.6h0.8v0.8h-0.8zM390.7,57.3h0.8v0.8h-0.8zM411.3,52.8h0.8v0.8h-0.8zM386.3,54.0h0.8v0.8h-0.8zM395.6,55.7h0.8v0.8h-0.8zM392.7,57.3h0.8v0.8h-0.8zM411.7,56.6h0.8v0.8h-0.8zM394.9,56.9h0.8v0.8h-0.8zM395.2,55.6h0.8v0.8h-0.8zM391.4,55.3h0.8v0.8h-0.8zM406.9,56.8h0.8v0.8h-0.8zM412.5,53.6h0.8v0.8h-0.8zM414.7,55.1h0.8v0.8h-0.8zM401.9,56.9h0.8v0.8h-0.8zM390.6,57.1h0.8v0.8h-0.8zM386.0,56.9h0.8v0.8h-0.8zM388.9,57.3h0.8v0.8h-0.8zM394.3,56.3h0.8v0.8h-0.8zM405.1,56.9h0.8v0.8h-0.8zM410.7,56.6h0.8v0.8h-0.8zM404.6,56.5h0.8v0.8h-0.8zM389.9,57.4h0.8v0.8h-0.8zM414.7,52.6h0.8v0.8h-0.8zM394.5,57.0h0.8v0.8h-0.8zM392.4,56.3h0.8v0.8h-0.8zM407.6,53.3h0.8v0.8h-0.8zM389.6,56.7h0.8v0.8h-0.8zM404.3,52.7h0.8v0.8h-0.8zM408.8,56.7h0.8v0.8h-0.8zM397.7,57.1h0.8v0.8h-0.8zM409.6,54.8h0.8v0.8h-0.8zM388.6,56.5h0.8v0.8h-0.8zM389.0,57.5h0.8v0.8h-0.8zM411.7,54.3h0.8v0.8h-0.8zM397.4,53.8h0.8v0.8h-0.8zM412.3,55.6h0.8v0.8h-0.8zM415.3,56.5h0.8v0.8h-0.8zM411.7,54.5h0.8v0.8h-0.8zM411.7,52.9h0.8v0.8h-0.8zM387.8,57.5h0.8v0.8h-0.8zM392.7,57.3h0.8v0.8h-0.8zM390.8,54.0h0.8v0.8h-0.8zM402.5,52.4h0.8v0.8h-0.8zM389.9,54.9h0.8v0.8h-0.8zM408.2,56.8h0.8v0.8h-0.8zM399.4,56.9h0.8v0.8h-0.8zM388.8,55.3h0.8v0.8h-0.8zM411.1,54.8h0.8v0.8h-0.8zM390.1,55.2h0.8v0.8h-0.8zM412.0,52.4h0.8v0.8h-0.8zM403.1,56.9h0.8v0.8h-0.8zM402.8,55.2h0.8v0.8h-0.8zM387.0,53.6h0.8v0.8h-0.8zM414.6,55.8h0.8v0.8h-0.8zM404.5,56.0h0.8v0.8h-0.8zM401.4,54.1h0.8v0.8h-0.8zM386.1,57.4h0.8v0.8h-0.8zM393.6,57.1h0.8v0.8h-0.8zM412.0,54.2h0.8v0.8h-0.8zM410.3,55.3h0.8v0.8h-0.8zM410.8,54.4h0.8v0.8h-0.8zM402.0,56.8h0.8v0.8h-0.8z" fill="#1a1a1a" opacity="0.75"/>
<path d="M414.7,56.4h0.8v0.8h-0.8zM399.9,55.7h0.8v0.8h-0.8zM395.5,55.1h0.8v0.8h-0.8zM406.9,55.9h0.8v0.8h-0.8zM402.7,56.8h0.8v0.8h-0.8zM404.5,54.5h0.8v0.8h-0.8zM398.5,57.0h0.8v0.8h-0.8zM409.7,56.5h0.8v0.8h-0.8zM392.1,56.3h0.8v0.8h-0.8zM410.8,56.0h0.8v0.8h-0.8zM408.4,56.7h0.8v0.8h-0.8zM403.9,55.1h0.8v0.8h-0.8zM389.6,55.8h0.8v0.8h-0.8zM398.9,57.1h0.8v0.8h-0.8zM386.2,52.7h0.8v0.8h-0.8zM386.2,53.2h0.8v0.8h-0.8zM396.1,57.2h0.8v0.8h-0.8zM389.2,57.0h0.8v0.8h-0.8zM401.8,56.9h0.8v0.8h-0.8zM389.0,57.2h0.8v0.8h-0.8zM388.1,56.3h0.8v0.8h-0.8zM410.7,55.6h0.8v0.8h-0.8zM399.6,56.9h0.8v0.8h-0.8zM407.6,56.8h0.8v0.8h-0.8zM415.2,55.1h0.8v0.8h-0.8zM398.1,55.5h0.8v0.8h-0.8zM393.6,55.9h0.8v0.8h-0.8zM397.5,52.3h0.8v0.8h-0.8zM395.3,54.1h0.8v0.8h-0.8zM400.6,55.6h0.8v0.8h-0.8zM404.5,56.1h0.8v0.8h-0.8zM400.7,57.0h0.8v0.8h-0.8zM403.1,55.4h0.8v0.8h-0.8zM411.6,53.4h0.8v0.8h-0.8zM387.2,57.4h0.8v0.8h-0.8zM386.9,53.2h0.8v0.8h-0.8zM390.8,57.1h0.8v0.8h-0.8zM398.2,53.3h0.8v0.8h-0.8zM395.8,57.2h0.8v0.8h-0.8zM388.4,57.3h0.8v0.8h-0.8zM402.2,56.4h0.8v0.8h-0.8zM396.9,52.8h0.8v0.8h-0.8zM394.5,56.6h0.8v0.8h-0.8zM392.4,56.8h0.8v0.8h-0.8zM403.2,56.7h0.8v0.8h-0.8zM397.7,56.4h0.8v0.8h-0.8zM386.5,55.4h0.8v0.8h-0.8zM406.4,54.6h0.8v0.8h-0.8zM408.8,53.5h0.8v0.8h-0.8zM389.0,53.4h0.8v0.8h-0.8zM404.4,52.9h0.8v0.8h-0.8zM415.4,55.4h0.8v0.8h-0.8zM400.8,55.4h0.8v0.8h-0.8zM398.4,56.4h0.8v0.8h-0.8zM390.8,57.4h0.8v0.8h-0.8zM391.6,57.2h0.8v0.8h-0.8zM389.6,55.4h0.8v0.8h-0.8zM408.3,56.7h0.8v0.8h-0.8zM387.4,57.4h0.8v0.8h-0.8zM386.4,57.2h0.8v0.8h-0.8zM394.5,57.2h0.8v0.8h-0.8zM407.8,56.6h0.8v0.8h-0.8zM405.0,56.6h0.8v0.8h-0.8zM403.6,55.7h0.8v0.8h-0.8zM411.0,56.1h0.8v0.8h-0.8zM387.5,57.5h0.8v0.8h-0.8zM401.1,56.6h0.8v0.8h-0.8zM414.1,56.0h0.8v0.8h-0.8zM393.4,57.2h0.8v0.8h-0.8zM399.4,55.4h0.8v0.8h-0.8zM386.1,56.3h0.8v0.8h-0.8zM399.3,57.1h0.8v0.8h-0.8zM398.3,53.6h0.8v0.8h-0.8zM386.6,53.4h0.8v0.8h-0.8zM387.8,57.4h0.8v0.8h-0.8zM411.8,55.5h0.8v0.8h-0.8zM396.3,56.1h0.8v0.8h-0.8zM396.5,57.0h0.8v0.8h-0.8zM413.4,55.6h0.8v0.8h-0.8zM411.4,55.3h0.8v0.8h-0.8zM392.8,57.3h0.8v0.8h-0.8zM390.3,57.4h0.8v0.8h-0.8zM401.7,55.9h0.8v0.8h-0.8zM404.3,56.9h0.8v0.8h-0.8zM407.7,53.3h0.8v0.8h-0.8zM401.4,56.8h0.8v0.8h-0.8zM398.8,53.9h0.8v0.8h-0.8zM412.7,56.3h0.8v0.8h-0.8zM411.9,56.0h0.8v0.8h-0.8zM391.9,57.4h0.8v0.8h-0.8zM408.9,53.7h0.8v0.8h-0.8zM406.1,54.3h0.8v0.8h-0.8zM386.7,56.8h0.8v0.8h-0.8zM391.0,55.6h0.8v0.8h-0.8zM396.0,57.1h0.8v0.8h-0.8zM407.5,56.7h0.8v0.8h-0.8zM406.3,54.9h0.8v0.8h-0.8zM387.8,54.7h0.8v0.8h-0.8zM401.2,56.4h0.8v0.8h-0.8z" fill="#1a1a1a" opacity="0.55"/>
<path d="M397.9,57.1h0.8v0.8h-0.8zM393.3,57.2h0.8v0.8h-0.8zM413.3,56.6h0.8v0.8h-0.8zM398.0,57.1h0.8v0.8h-0.8zM398.8,54.6h0.8v0.8h-0.8zM401.1,56.8h0.8v0.8h-0.8zM391.2,54.3h0.8v0.8h-0.8zM389.2,55.4h0.8v0.8h-0.8zM404.1,56.9h0.8v0.8h-0.8zM397.4,53.0h0.8v0.8h-0.8zM395.7,57.1h0.8v0.8h-0.8zM407.0,54.0h0.8v0.8h-0.8zM395.3,57.2h0.8v0.8h-0.8zM386.6,56.0h0.8v0.8h-0.8zM398.6,52.8h0.8v0.8h-0.8zM389.2,56.2h0.8v0.8h-0.8zM398.8,56.4h0.8v0.8h-0.8zM413.0,55.7h0.8v0.8h-0.8zM392.9,57.3h0.8v0.8h-0.8zM405.0,56.8h0.8v0.8h-0.8zM414.6,56.2h0.8v0.8h-0.8zM390.5,52.9h0.8v0.8h-0.8zM402.2,56.3h0.8v0.8h-0.8zM401.1,54.1h0.8v0.8h-0.8zM405.8,55.7h0.8v0.8h-0.8zM394.2,57.0h0.8v0.8h-0.8zM397.0,57.0h0.8v0.8h-0.8zM403.0,57.0h0.8v0.8h-0.8zM394.6,56.4h0.8v0.8h-0.8zM397.2,56.9h0.8v0.8h-0.8zM401.3,57.0h0.8v0.8h-0.8zM397.6,54.8h0.8v0.8h-0.8zM405.2,56.7h0.8v0.8h-0.8zM390.8,54.9h0.8v0.8h-0.8zM405.0,55.3h0.8v0.8h-0.8zM389.9,57.3h0.8v0.8h-0.8zM397.2,56.6h0.8v0.8h-0.8zM387.6,53.4h0.8v0.8h-0.8zM413.6,56.5h0.8v0.8h-0.8zM405.9,55.4h0.8v0.8h-0.8zM393.0,54.1h0.8v0.8h-0.8zM412.7,56.6h0.8v0.8h-0.8zM403.8,56.5h0.8v0.8h-0.8zM390.3,55.2h0.8v0.8h-0.8zM402.6,55.1h0.8v0.8h-0.8zM413.3,55.2h0.8v0.8h-0.8zM413.6,56.6h0.8v0.8h-0.8zM409.3,56.7h0.8v0.8h-0.8zM400.2,57.0h0.8v0.8h-0.8zM389.6,55.9h0.8v0.8h-0.8zM410.5,56.7h0.8v0.8h-0.8zM390.4,56.9h0.8v0.8h-0.8zM388.1,55.4h0.8v0.8h-0.8zM400.2,54.6h0.8v0.8h-0.8zM385.8,53.3h0.8v0.8h-0.8zM404.4,53.0h0.8v0.8h-0.8zM388.7,55.4h0.8v0.8h-0.8zM396.6,56.2h0.8v0.8h-0.8zM398.2,55.1h0.8v0.8h-0.8zM401.0,56.6h0.8v0.8h-0.8zM412.6,56.6h0.8v0.8h-0.8zM385.7,54.7h0.8v0.8h-0.8zM402.6,56.4h0.8v0.8h-0.8zM409.9,56.7h0.8v0.8h-0.8zM406.3,56.8h0.8v0.8h-0.8zM402.2,52.9h0.8v0.8h-0.8zM402.0,57.0h0.8v0.8h-0.8zM405.0,56.8h0.8v0.8h-0.8zM402.4,53.2h0.8v0.8h-0.8zM390.6,55.1h0.8v0.8h-0.8zM410.3,56.7h0.8v0.8h-0.8zM400.9,56.2h0.8v0.8h-0.8zM407.2,56.8h0.8v0.8h-0.8zM410.6,55.7h0.8v0.8h-0.8zM401.7,55.3h0.8v0.8h-0.8zM414.0,56.6h0.8v0.8h-0.8zM396.4,56.4h0.8v0.8h-0.8zM395.5,56.6h0.8v0.8h-0.8zM393.8,56.6h0.8v0.8h-0.8zM394.7,54.9h0.8v0.8h-0.8zM400.8,55.7h0.8v0.8h-0.8zM411.7,54.9h0.8v0.8h-0.8zM387.4,57.3h0.8v0.8h-0.8zM412.0,54.4h0.8v0.8h-0.8zM412.3,54.2h0.8v0.8h-0.8zM397.7,56.8h0.8v0.8h-0.8zM394.6,57.1h0.8v0.8h-0.8zM403.1,56.8h0.8v0.8h-0.8zM395.1,57.2h0.8v0.8h-0.8zM401.9,54.8h0.8v0.8h-0.8zM397.5,57.1h0.8v0.8h-0.8zM403.6,56.9h0.8v0.8h-0.8zM407.1,56.8h0.8v0.8h-0.8zM401.7,53.7h0.8v0.8h-0.8zM413.2,56.5h0.8v0.8h-0.8zM397.7,55.5h0.8v0.8h-0.8zM411.7,56.6h0.8v0.8h-0.8zM398.0,55.2h0.8v0.8h-0.8zM396.3,56.9h0.8v0.8h-0.8zM405.3,55.8h0.8v0.8h-0.8zM408.4,54.5h0.8v0.8h-0.8zM402.3,56.7h0.8v0.8h-0.8zM388.6,54.6h0.8v0.8h-0.8zM402.2,56.9h0.8v0.8h-0.8zM409.7,53.2h0.8v0.8h-0.8zM392.8,57.0h0.8v0.8h-0.8zM408.3,55.4h0.8v0.8h-0.8zM399.9,53.0h0.8v0.8h-0.8zM414.1,56.5h0.8v0.8h-0.8zM411.7,56.6h0.8v0.8h-0.8zM398.6,57.1h0.8v0.8h-0.8zM414.7,56.5h0.8v0.8h-0.8zM391.5,57.4h0.8v0.8h-0.8zM405.1,56.0h0.8v0.8h-0.8zM406.2,52.4h0.8v0.8h-0.8zM392.7,56.6h0.8v0.8h-0.8zM396.2,57.2h0.8v0.8h-0.8zM403.9,55.3h0.8v0.8h-0.8zM413.2,54.5h0.8v0.8h-0.8zM412.8,56.1h0.8v0.8h-0.8zM415.5,56.5h0.8v0.8h-0.8zM401.3,56.2h0.8v0.8h-0.8z" fill="#1a1a1a" opacity="0.4"/>
<path d="M396.8,55.0h0.8v0.8h-0.8zM414.2,53.0h0.8v0.8h-0.8zM410.8,55.5h0.8v0.8h-0.8zM398.7,57.1h0.8v0.8h-0.8zM393.4,57.3h0.8v0.8h-0.8zM389.9,55.9h0.8v0.8h-0.8zM391.2,56.9h0.8v0.8h-0.8zM410.4,53.5h0.8v0.8h-0.8zM410.8,53.7h0.8v0.8h-0.8zM388.3,57.1h0.8v0.8h-0.8zM394.3,57.3h0.8v0.8h-0.8zM393.4,54.2h0.8v0.8h-0.8zM387.0,57.5h0.8v0.8h-0.8zM390.0,56.3h0.8v0.8h-0.8zM390.5,54.4h0.8v0.8h-0.8zM392.3,56.9h0.8v0.8h-0.8zM399.4,56.2h0.8v0.8h-0.8zM395.6,57.2h0.8v0.8h-0.8zM410.2,56.0h0.8v0.8h-0.8zM397.9,57.1h0.8v0.8h-0.8zM408.5,55.7h0.8v0.8h-0.8zM396.9,56.6h0.8v0.8h-0.8zM397.3,56.2h0.8v0.8h-0.8zM405.0,56.9h0.8v0.8h-0.8zM409.6,56.3h0.8v0.8h-0.8zM414.3,56.5h0.8v0.8h-0.8zM387.0,56.5h0.8v0.8h-0.8zM401.7,52.2h0.8v0.8h-0.8zM411.9,52.6h0.8v0.8h-0.8zM410.1,52.3h0.8v0.8h-0.8zM386.5,57.5h0.8v0.8h-0.8zM396.0,56.7h0.8v0.8h-0.8zM386.2,57.5h0.8v0.8h-0.8zM403.0,52.7h0.8v0.8h-0.8zM395.0,53.5h0.8v0.8h-0.8zM394.7,56.0h0.8v0.8h-0.8zM414.9,56.5h0.8v0.8h-0.8zM405.8,55.8h0.8v0.8h-0.8zM394.8,53.8h0.8v0.8h-0.8zM385.8,53.8h0.8v0.8h-0.8zM402.4,57.0h0.8v0.8h-0.8zM390.4,57.1h0.8v0.8h-0.8zM413.8,52.2h0.8v0.8h-0.8zM401.8,56.9h0.8v0.8h-0.8zM392.4,57.3h0.8v0.8h-0.8zM394.0,56.9h0.8v0.8h-0.8zM412.4,56.6h0.8v0.8h-0.8zM408.0,56.8h0.8v0.8h-0.8zM394.0,57.3h0.8v0.8h-0.8zM398.8,56.9h0.8v0.8h-0.8zM406.1,56.2h0.8v0.8h-0.8zM392.7,57.2h0.8v0.8h-0.8zM395.6,54.4h0.8v0.8h-0.8zM403.5,56.4h0.8v0.8h-0.8zM385.9,52.3h0.8v0.8h-0.8zM388.9,56.8h0.8v0.8h-0.8zM386.8,56.4h0.8v0.8h-0.8zM412.7,52.8h0.8v0.8h-0.8zM406.2,56.8h0.8v0.8h-0.8zM407.2,56.8h0.8v0.8h-0.8zM403.8,56.8h0.8v0.8h-0.8zM411.0,56.6h0.8v0.8h-0.8zM401.4,56.0h0.8v0.8h-0.8zM406.8,56.7h0.8v0.8h-0.8zM411.1,55.2h0.8v0.8h-0.8zM414.5,56.5h0.8v0.8h-0.8zM393.2,57.3h0.8v0.8h-0.8zM386.2,52.4h0.8v0.8h-0.8zM402.2,56.8h0.8v0.8h-0.8zM415.3,55.9h0.8v0.8h-0.8zM387.8,56.1h0.8v0.8h-0.8zM410.8,52.6h0.8v0.8h-0.8zM391.9,54.4h0.8v0.8h-0.8zM395.0,57.0h0.8v0.8h-0.8zM395.6,57.2h0.8v0.8h-0.8zM407.3,56.8h0.8v0.8h-0.8zM390.1,57.4h0.8v0.8h-0.8zM415.1,56.3h0.8v0.8h-0.8zM407.2,53.1h0.8v0.8h-0.8zM411.5,56.7h0.8v0.8h-0.8zM388.2,56.1h0.8v0.8h-0.8zM415.1,56.2h0.8v0.8h-0.8zM392.5,56.0h0.8v0.8h-0.8zM405.1,56.0h0.8v0.8h-0.8zM389.5,57.4h0.8v0.8h-0.8zM390.1,56.0h0.8v0.8h-0.8zM404.6,56.7h0.8v0.8h-0.8zM387.4,56.4h0.8v0.8h-0.8zM386.5,57.5h0.8v0.8h-0.8zM394.0,57.0h0.8v0.8h-0.8zM406.0,55.8h0.8v0.8h-0.8zM408.1,56.2h0.8v0.8h-0.8zM388.3,57.2h0.8v0.8h-0.8zM411.9,56.6h0.8v0.8h-0.8zM397.5,57.0h0.8v0.8h-0.8zM397.1,57.1h0.8v0.8h-0.8zM397.7,56.2h0.8v0.8h-0.8zM399.8,55.6h0.8v0.8h-0.8zM400.9,55.9h0.8v0.8h-0.8zM392.6,55.9h0.8v0.8h-0.8zM392.7,57.3h0.8v0.8h-0.8z" fill="#1a1a1a" opacity="0.25"/>
<path d="M391.2,73.3h0.7v0.7h-0.7zM410.8,72.0h0.7v0.7h-0.7zM412.4,71.0h0.7v0.7h-0.7zM396.6,72.9h0.7v0.7h-0.7zM398.5,71.5h0.7v0.7h-0.7zM406.4,71.3h0.7v0.7h-0.7zM396.6,72.3h0.7v0.7h-0.7zM401.2,71.2h0.7v0.7h-0.7zM405.2,71.0h0.7v0.7h-0.7zM394.5,71.7h0.7v0.7h-0.7zM389.3,72.4h0.7v0.7h-0.7zM407.2,70.6h0.7v0.7h-0.7zM401.1,70.3h0.7v0.7h-0.7zM389.9,72.0h0.7v0.7h-0.7zM405.2,72.0h0.7v0.7h-0.7zM401.2,72.7h0.7v0.7h-0.7zM393.4,72.1h0.7v0.7h-0.7zM386.1,71.4h0.7v0.7h-0.7zM403.2,71.1h0.7v0.7h-0.7zM401.8,73.0h0.7v0.7h-0.7zM393.5,71.2h0.7v0.7h-0.7zM398.8,71.9h0.7v0.7h-0.7zM400.4,70.5h0.7v0.7h-0.7zM389.8,73.4h0.7v0.7h-0.7zM394.5,72.7h0.7v0.7h-0.7zM412.7,72.2h0.7v0.7h-0.7zM397.0,70.5h0.7v0.7h-0.7zM407.9,73.0h0.7v0.7h-0.7zM398.6,72.1h0.7v0.7h-0.7zM393.5,71.1h0.7v0.7h-0.7zM410.7,70.4h0.7v0.7h-0.7zM404.0,73.1h0.7v0.7h-0.7zM410.7,71.8h0.7v0.7h-0.7zM387.9,71.1h0.7v0.7h-0.7zM411.0,70.3h0.7v0.7h-0.7zM399.0,71.5h0.7v0.7h-0.7zM398.1,73.1h0.7v0.7h-0.7zM404.7,72.6h0.7v0.7h-0.7zM389.2,72.2h0.7v0.7h-0.7zM413.1,72.1h0.7v0.7h-0.7zM398.7,73.3h0.7v0.7h-0.7zM391.2,70.7h0.7v0.7h-0.7zM397.6,70.7h0.7v0.7h-0.7zM407.9,70.1h0.7v0.7h-0.7zM392.8,71.0h0.7v0.7h-0.7zM401.8,73.0h0.7v0.7h-0.7zM394.6,71.4h0.7v0.7h-0.7zM397.3,71.7h0.7v0.7h-0.7zM388.7,73.1h0.7v0.7h-0.7zM402.6,70.3h0.7v0.7h-0.7z" fill="#333" opacity="0.45"/>
<path d="M385.1,56.5 L385.8,55.8 L386.5,56.9 L387.2,56.5 L387.9,55.8 L388.6,56.8 L389.3,56.6 L390.0,55.7 L390.7,56.2 L391.4,55.8 L392.1,55.6 L392.8,56.8 L393.5,56.3 L394.2,56.9 L394.9,55.9 L395.6,56.4 L396.3,56.6 L397.0,55.2 L397.7,56.5 L398.4,55.9 L399.1,55.9 L399.8,56.6 L400.5,56.1 L401.2,55.6 L401.9,56.2 L402.6,56.0 L403.3,55.1 L404.0,55.5 L404.7,56.1 L405.4,56.1 L406.1,55.9 L406.8,55.8 L407.5,55.6 L408.2,56.0 L408.9,56.2 L409.6,56.1 L410.3,55.3 L411.0,54.8 L411.7,55.2 L412.4,55.1 L412.4,70.9 L411.7,70.2 L411.0,70.7 L410.3,71.0 L409.6,71.0 L408.9,71.0 L408.2,70.4 L407.5,70.3 L406.8,71.0 L406.1,71.0 L405.4,70.2 L404.7,70.8 L404.0,71.2 L403.3,71.3 L402.6,70.4 L401.9,70.4 L401.2,71.3 L400.5,70.5 L399.8,70.5 L399.1,70.5 L398.4,71.2 L397.7,70.8 L397.0,71.1 L396.3,71.5 L395.6,70.6 L394.9,70.6 L394.2,70.9 L393.5,70.7 L392.8,70.5 L392.1,71.4 L391.4,71.6 L390.7,70.6 L390.0,70.5 L389.3,71.4 L388.6,71.3 L387.9,71.4 L387.2,71.1 L386.5,71.0 L385.8,71.7 L385.1,70.8 Z" fill="#222" opacity="0.55"/>
<path d="M385.1,57.8 L385.8,57.4 L386.5,57.3 L387.2,56.9 L387.9,56.7 L388.6,56.7 L389.3,56.9 L390.0,57.8 L390.7,57.6 L391.4,57.1 L392.1,57.1 L392.8,57.7 L393.5,57.8 L394.2,56.6 L394.9,56.6 L395.6,57.0 L396.3,57.4 L397.0,57.6 L397.7,57.4 L398.4,57.3 L399.1,57.3 L399.8,56.6 L400.5,56.5 L401.2,56.9 L401.9,56.4 L402.6,57.5 L403.3,57.0 L404.0,56.4 L404.7,57.5 L405.4,56.5 L406.1,56.2 L406.8,56.4 L407.5,56.9 L408.2,56.9 L408.9,56.1 L409.6,56.0 L410.3,56.1 L411.0,56.3 L411.7,56.3 L412.4,55.8 L412.4,70.4 L411.7,70.0 L411.0,70.4 L410.3,70.5 L409.6,70.6 L408.9,69.6 L408.2,70.0 L407.5,69.9 L406.8,70.2 L406.1,70.0 L405.4,69.8 L404.7,70.0 L404.0,69.8 L403.3,69.9 L402.6,69.6 L401.9,69.8 L401.2,70.4 L400.5,70.1 L399.8,70.4 L399.1,70.9 L398.4,70.7 L397.7,70.7 L397.0,70.4 L396.3,70.0 L395.6,70.8 L394.9,70.5 L394.2,70.2 L393.5,70.2 L392.8,70.1 L392.1,71.0 L391.4,71.0 L390.7,70.9 L390.0,69.9 L389.3,70.5 L388.6,70.0 L387.9,70.6 L387.2,70.8 L386.5,70.2 L385.8,70.8 L385.1,70.5 Z" fill="#150c15"/>
<defs><linearGradient id="mg2" x1="0" x2="1" y1="0" y2="0"><stop offset="0" stop-color="#3a1038"/><stop offset="0.2" stop-color="#962a8a"/><stop offset="0.7" stop-color="#b0349e"/><stop offset="1" stop-color="#7a3ab0"/></linearGradient></defs>
<path d="M386.9,62.2 L387.9,62.1 L388.9,62.1 L389.9,61.6 L390.9,61.4 L391.9,61.7 L392.9,61.3 L393.9,61.4 L394.9,61.0 L395.9,61.1 L396.9,60.3 L397.9,60.7 L398.9,60.5 L399.9,60.0 L400.9,60.0 L401.9,59.4 L402.9,59.1 L403.9,59.5 L404.9,59.4 L405.9,58.8 L406.9,58.6 L407.9,58.3 L408.9,58.2 L409.9,57.9 L410.0,58.0 L410.0,68.3 L409.9,68.1 L408.9,67.6 L407.9,67.6 L406.9,68.1 L405.9,67.7 L404.9,68.1 L403.9,68.2 L402.9,67.7 L401.9,67.7 L400.9,67.7 L399.9,67.9 L398.9,68.1 L397.9,68.3 L396.9,68.5 L395.9,68.6 L394.9,68.2 L393.9,68.0 L392.9,68.6 L391.9,68.1 L390.9,67.9 L389.9,68.4 L388.9,68.1 L387.9,68.2 L386.9,68.4 Z" fill="url(#mg2)"/>
<path d="M396.7,65.4h0.7v0.7h-0.7zM389.4,65.6h0.7v0.7h-0.7zM389.7,66.2h0.7v0.7h-0.7zM391.9,63.2h0.7v0.7h-0.7zM404.8,63.7h0.7v0.7h-0.7zM405.8,66.4h0.7v0.7h-0.7zM388.6,64.3h0.7v0.7h-0.7zM389.2,63.4h0.7v0.7h-0.7zM404.8,60.7h0.7v0.7h-0.7zM393.9,61.8h0.7v0.7h-0.7zM404.4,64.4h0.7v0.7h-0.7zM391.1,63.8h0.7v0.7h-0.7zM408.4,65.9h0.7v0.7h-0.7zM387.6,67.1h0.7v0.7h-0.7zM390.3,65.2h0.7v0.7h-0.7zM390.8,67.0h0.7v0.7h-0.7zM404.7,61.0h0.7v0.7h-0.7zM408.3,65.0h0.7v0.7h-0.7zM403.3,60.0h0.7v0.7h-0.7zM387.0,67.7h0.7v0.7h-0.7zM387.8,65.5h0.7v0.7h-0.7zM394.5,61.6h0.7v0.7h-0.7zM400.8,60.4h0.7v0.7h-0.7zM406.9,59.2h0.7v0.7h-0.7zM395.3,63.9h0.7v0.7h-0.7zM401.9,67.8h0.7v0.7h-0.7zM400.4,66.5h0.7v0.7h-0.7zM398.3,66.4h0.7v0.7h-0.7zM398.4,62.4h0.7v0.7h-0.7zM402.9,62.1h0.7v0.7h-0.7zM388.1,65.1h0.7v0.7h-0.7zM405.1,65.1h0.7v0.7h-0.7zM390.7,64.3h0.7v0.7h-0.7zM401.7,67.5h0.7v0.7h-0.7zM398.7,66.1h0.7v0.7h-0.7zM400.6,65.3h0.7v0.7h-0.7zM401.5,60.4h0.7v0.7h-0.7zM405.0,66.2h0.7v0.7h-0.7zM404.2,66.7h0.7v0.7h-0.7zM392.4,65.5h0.7v0.7h-0.7z" fill="#2a0a2a" opacity="0.5"/>
<circle cx="413.00" cy="64.80" r="5.00" fill="#150c15"/>
<circle cx="413.00" cy="64.80" r="4.20" fill="#3a60c8"/>
<circle cx="413.20" cy="64.80" r="3.70" fill="#22a8b4"/>
<circle cx="413.40" cy="64.80" r="3.10" fill="#34a048"/>
<circle cx="413.60" cy="64.80" r="1.20" fill="#d07018"/>
<rect x="43.20" y="132.00" width="87.20" height="78.80" fill="none" stroke="#1a1a1a" stroke-width="1"/>
<line x1="41.20" y1="132.30" x2="43.20" y2="132.30" stroke="#333" stroke-width="0.6" />
<text x="39.00" y="134.66" font-size="6.6" text-anchor="end" fill="#222" stroke="#222" stroke-width="0.2" >10<tspan font-size="4" dy="-2.3">6</tspan></text>
<line x1="41.20" y1="146.37" x2="43.20" y2="146.37" stroke="#333" stroke-width="0.6" />
<text x="39.00" y="148.74" font-size="6.6" text-anchor="end" fill="#222" stroke="#222" stroke-width="0.2" >10<tspan font-size="4" dy="-2.3">5</tspan></text>
<line x1="41.20" y1="161.54" x2="43.20" y2="161.54" stroke="#333" stroke-width="0.6" />
<text x="39.00" y="163.90" font-size="6.6" text-anchor="end" fill="#222" stroke="#222" stroke-width="0.2" >10<tspan font-size="4" dy="-2.3">4</tspan></text>
<line x1="41.20" y1="176.80" x2="43.20" y2="176.80" stroke="#333" stroke-width="0.6" />
<text x="39.00" y="179.16" font-size="6.6" text-anchor="end" fill="#222" stroke="#222" stroke-width="0.2" >2000</text>
<line x1="41.20" y1="190.78" x2="43.20" y2="190.78" stroke="#333" stroke-width="0.6" />
<text x="39.00" y="193.14" font-size="6.6" text-anchor="end" fill="#222" stroke="#222" stroke-width="0.2" >0</text>
<line x1="41.20" y1="203.47" x2="43.20" y2="203.47" stroke="#333" stroke-width="0.6" />
<text x="39.00" y="205.83" font-size="6.6" text-anchor="end" fill="#222" stroke="#222" stroke-width="0.2" >−2000</text>
<line x1="42.00" y1="139.43" x2="43.20" y2="139.43" stroke="#555" stroke-width="0.5" />
<line x1="42.00" y1="153.81" x2="43.20" y2="153.81" stroke="#555" stroke-width="0.5" />
<line x1="42.00" y1="169.17" x2="43.20" y2="169.17" stroke="#555" stroke-width="0.5" />
<line x1="42.00" y1="183.54" x2="43.20" y2="183.54" stroke="#555" stroke-width="0.5" />
<line x1="42.00" y1="197.42" x2="43.20" y2="197.42" stroke="#555" stroke-width="0.5" />
<line x1="45.69" y1="210.80" x2="45.69" y2="212.80" stroke="#333" stroke-width="0.6" />
<text x="45.69" y="220.56" font-size="6.6" text-anchor="middle" fill="#222" stroke="#222" stroke-width="0.2" >−4000</text>
<line x1="66.39" y1="210.80" x2="66.39" y2="212.80" stroke="#333" stroke-width="0.6" />
<text x="66.39" y="220.56" font-size="6.6" text-anchor="middle" fill="#222" stroke="#222" stroke-width="0.2" >0</text>
<line x1="78.64" y1="210.80" x2="78.64" y2="212.80" stroke="#333" stroke-width="0.6" />
<text x="78.64" y="220.56" font-size="6.6" text-anchor="middle" fill="#222" stroke="#222" stroke-width="0.2" >2000</text>
<line x1="97.75" y1="210.80" x2="97.75" y2="212.80" stroke="#333" stroke-width="0.6" />
<text x="97.75" y="220.56" font-size="6.6" text-anchor="middle" fill="#222" stroke="#222" stroke-width="0.2" >10<tspan font-size="4" dy="-2.3">4</tspan></text>
<line x1="115.37" y1="210.80" x2="115.37" y2="212.80" stroke="#333" stroke-width="0.6" />
<text x="115.37" y="220.56" font-size="6.6" text-anchor="middle" fill="#222" stroke="#222" stroke-width="0.2" >10<tspan font-size="4" dy="-2.3">5</tspan></text>
<line x1="130.80" y1="210.80" x2="130.80" y2="212.80" stroke="#333" stroke-width="0.6" />
<text x="130.80" y="220.56" font-size="6.6" text-anchor="middle" fill="#222" stroke="#222" stroke-width="0.2" >10<tspan font-size="4" dy="-2.3">6</tspan></text>
<line x1="56.14" y1="210.80" x2="56.14" y2="212.00" stroke="#555" stroke-width="0.5" />
<line x1="87.99" y1="210.80" x2="87.99" y2="212.00" stroke="#555" stroke-width="0.5" />
<line x1="106.91" y1="210.80" x2="106.91" y2="212.00" stroke="#555" stroke-width="0.5" />
<text x="87.20" y="121.48" font-size="6.1" text-anchor="middle" fill="#222" stroke="#222" stroke-width="0.2" >canonical Pep03</text>
<text x="87.20" y="129.08" font-size="6.1" text-anchor="middle" fill="#222" stroke="#222" stroke-width="0.2" >(HLA-A*03, GLYTQPRWK)</text>
<rect x="74.90" y="147.80" width="38.90" height="17.50" fill="none" stroke="#333" stroke-width="0.8"/>
<text x="113.50" y="147.02" font-size="6.2" text-anchor="end" fill="#222" stroke="#222" stroke-width="0.2" >0.02 %</text>
<path d="M96.5,177.1h0.8v0.8h-0.8zM104.5,181.2h0.8v0.8h-0.8zM83.9,180.4h0.8v0.8h-0.8zM90.2,177.2h0.8v0.8h-0.8zM99.5,178.3h0.8v0.8h-0.8zM107.9,178.8h0.8v0.8h-0.8zM100.5,181.7h0.8v0.8h-0.8zM101.6,179.0h0.8v0.8h-0.8zM108.2,180.9h0.8v0.8h-0.8zM85.2,175.4h0.8v0.8h-0.8zM98.5,181.6h0.8v0.8h-0.8zM92.2,175.0h0.8v0.8h-0.8zM104.8,180.9h0.8v0.8h-0.8zM85.6,177.4h0.8v0.8h-0.8zM109.2,178.1h0.8v0.8h-0.8zM84.5,181.9h0.8v0.8h-0.8zM83.5,181.6h0.8v0.8h-0.8zM107.5,181.6h0.8v0.8h-0.8zM94.7,176.7h0.8v0.8h-0.8zM98.1,181.6h0.8v0.8h-0.8zM82.3,179.1h0.8v0.8h-0.8zM90.4,179.1h0.8v0.8h-0.8zM97.4,180.2h0.8v0.8h-0.8zM80.7,176.8h0.8v0.8h-0.8zM88.0,174.6h0.8v0.8h-0.8zM86.4,176.5h0.8v0.8h-0.8zM85.3,179.8h0.8v0.8h-0.8zM81.8,175.5h0.8v0.8h-0.8zM102.2,176.6h0.8v0.8h-0.8zM81.4,182.0h0.8v0.8h-0.8zM109.5,181.4h0.8v0.8h-0.8zM80.3,177.0h0.8v0.8h-0.8zM93.6,181.8h0.8v0.8h-0.8zM102.6,180.5h0.8v0.8h-0.8zM103.7,177.6h0.8v0.8h-0.8zM98.7,179.0h0.8v0.8h-0.8zM103.8,181.7h0.8v0.8h-0.8zM87.5,181.9h0.8v0.8h-0.8zM94.0,175.6h0.8v0.8h-0.8zM107.3,181.6h0.8v0.8h-0.8zM96.3,177.9h0.8v0.8h-0.8zM99.9,175.8h0.8v0.8h-0.8zM96.0,181.4h0.8v0.8h-0.8zM82.2,181.9h0.8v0.8h-0.8zM102.8,181.7h0.8v0.8h-0.8zM107.3,179.4h0.8v0.8h-0.8zM107.2,178.5h0.8v0.8h-0.8zM103.4,178.1h0.8v0.8h-0.8zM92.4,181.5h0.8v0.8h-0.8zM107.9,181.2h0.8v0.8h-0.8zM99.1,181.7h0.8v0.8h-0.8zM101.1,181.1h0.8v0.8h-0.8zM88.7,181.9h0.8v0.8h-0.8zM95.7,181.8h0.8v0.8h-0.8zM107.4,181.0h0.8v0.8h-0.8zM93.0,178.9h0.8v0.8h-0.8zM99.8,181.6h0.8v0.8h-0.8zM105.1,181.6h0.8v0.8h-0.8zM94.1,177.6h0.8v0.8h-0.8zM90.6,180.7h0.8v0.8h-0.8zM88.1,181.4h0.8v0.8h-0.8zM98.9,181.0h0.8v0.8h-0.8zM92.8,181.8h0.8v0.8h-0.8zM107.9,180.6h0.8v0.8h-0.8zM82.8,174.6h0.8v0.8h-0.8zM94.1,181.8h0.8v0.8h-0.8zM98.5,178.2h0.8v0.8h-0.8zM99.0,179.5h0.8v0.8h-0.8zM80.0,181.1h0.8v0.8h-0.8zM109.0,179.3h0.8v0.8h-0.8zM91.8,181.5h0.8v0.8h-0.8zM83.7,181.9h0.8v0.8h-0.8zM108.8,179.7h0.8v0.8h-0.8zM81.1,175.1h0.8v0.8h-0.8zM108.8,177.8h0.8v0.8h-0.8zM104.0,179.9h0.8v0.8h-0.8zM100.0,181.7h0.8v0.8h-0.8zM106.3,180.3h0.8v0.8h-0.8zM89.0,177.6h0.8v0.8h-0.8zM105.2,177.9h0.8v0.8h-0.8zM101.5,181.5h0.8v0.8h-0.8zM103.7,178.2h0.8v0.8h-0.8zM80.1,182.1h0.8v0.8h-0.8zM84.4,182.0h0.8v0.8h-0.8zM97.8,175.5h0.8v0.8h-0.8zM103.5,181.6h0.8v0.8h-0.8zM101.5,181.7h0.8v0.8h-0.8zM81.2,179.8h0.8v0.8h-0.8zM93.5,181.8h0.8v0.8h-0.8zM103.0,181.7h0.8v0.8h-0.8zM98.4,181.1h0.8v0.8h-0.8zM81.4,179.0h0.8v0.8h-0.8zM100.6,179.3h0.8v0.8h-0.8zM93.4,180.5h0.8v0.8h-0.8zM100.2,179.8h0.8v0.8h-0.8zM79.8,177.8h0.8v0.8h-0.8zM104.3,180.0h0.8v0.8h-0.8zM86.8,178.8h0.8v0.8h-0.8zM106.1,181.6h0.8v0.8h-0.8zM101.6,181.4h0.8v0.8h-0.8zM82.5,181.7h0.8v0.8h-0.8zM81.6,182.0h0.8v0.8h-0.8zM101.9,181.4h0.8v0.8h-0.8zM97.7,175.3h0.8v0.8h-0.8zM107.6,180.0h0.8v0.8h-0.8zM82.6,177.4h0.8v0.8h-0.8zM84.3,179.6h0.8v0.8h-0.8zM94.4,178.7h0.8v0.8h-0.8zM85.1,175.6h0.8v0.8h-0.8zM105.8,181.3h0.8v0.8h-0.8zM83.9,179.7h0.8v0.8h-0.8zM95.1,181.0h0.8v0.8h-0.8zM109.1,179.6h0.8v0.8h-0.8zM87.8,177.1h0.8v0.8h-0.8zM94.3,181.8h0.8v0.8h-0.8zM84.4,181.9h0.8v0.8h-0.8zM83.8,180.1h0.8v0.8h-0.8zM99.1,181.0h0.8v0.8h-0.8zM96.3,179.7h0.8v0.8h-0.8zM106.7,178.8h0.8v0.8h-0.8zM94.5,181.4h0.8v0.8h-0.8zM80.0,177.2h0.8v0.8h-0.8zM90.5,176.0h0.8v0.8h-0.8zM84.4,179.0h0.8v0.8h-0.8zM84.0,181.9h0.8v0.8h-0.8zM92.7,181.8h0.8v0.8h-0.8zM108.2,180.6h0.8v0.8h-0.8zM97.6,175.7h0.8v0.8h-0.8zM82.0,182.0h0.8v0.8h-0.8zM95.6,179.5h0.8v0.8h-0.8zM103.2,180.6h0.8v0.8h-0.8zM100.4,181.7h0.8v0.8h-0.8zM109.6,181.5h0.8v0.8h-0.8z" fill="#1a1a1a" opacity="0.75"/>
<path d="M89.6,181.9h0.8v0.8h-0.8zM88.8,181.6h0.8v0.8h-0.8zM95.5,181.8h0.8v0.8h-0.8zM96.4,181.1h0.8v0.8h-0.8zM108.4,177.9h0.8v0.8h-0.8zM100.4,181.6h0.8v0.8h-0.8zM103.5,181.4h0.8v0.8h-0.8zM84.4,178.4h0.8v0.8h-0.8zM94.7,181.3h0.8v0.8h-0.8zM103.1,181.4h0.8v0.8h-0.8zM90.1,181.8h0.8v0.8h-0.8zM103.3,179.7h0.8v0.8h-0.8zM84.1,179.2h0.8v0.8h-0.8zM83.2,174.4h0.8v0.8h-0.8zM79.6,179.6h0.8v0.8h-0.8zM108.7,180.7h0.8v0.8h-0.8zM86.1,177.7h0.8v0.8h-0.8zM91.7,181.7h0.8v0.8h-0.8zM92.8,181.8h0.8v0.8h-0.8zM102.9,181.4h0.8v0.8h-0.8zM93.9,177.8h0.8v0.8h-0.8zM99.4,176.5h0.8v0.8h-0.8zM103.0,179.3h0.8v0.8h-0.8zM104.1,178.2h0.8v0.8h-0.8zM94.2,179.8h0.8v0.8h-0.8zM91.1,181.9h0.8v0.8h-0.8zM105.6,181.6h0.8v0.8h-0.8zM97.7,181.8h0.8v0.8h-0.8zM91.4,178.1h0.8v0.8h-0.8zM86.9,175.8h0.8v0.8h-0.8zM91.7,175.6h0.8v0.8h-0.8zM85.2,177.4h0.8v0.8h-0.8zM93.3,179.5h0.8v0.8h-0.8zM85.8,178.8h0.8v0.8h-0.8zM80.8,179.0h0.8v0.8h-0.8zM107.5,180.5h0.8v0.8h-0.8zM107.4,181.4h0.8v0.8h-0.8zM106.5,178.8h0.8v0.8h-0.8zM95.8,175.6h0.8v0.8h-0.8zM85.9,182.0h0.8v0.8h-0.8zM108.6,181.6h0.8v0.8h-0.8zM98.9,180.1h0.8v0.8h-0.8zM87.2,181.4h0.8v0.8h-0.8zM104.7,181.6h0.8v0.8h-0.8zM99.5,181.7h0.8v0.8h-0.8zM91.1,179.6h0.8v0.8h-0.8zM90.5,178.8h0.8v0.8h-0.8zM105.9,177.5h0.8v0.8h-0.8zM86.3,181.9h0.8v0.8h-0.8zM102.6,178.0h0.8v0.8h-0.8zM87.6,181.1h0.8v0.8h-0.8zM94.9,180.9h0.8v0.8h-0.8zM93.7,175.8h0.8v0.8h-0.8zM99.4,179.9h0.8v0.8h-0.8zM92.8,181.8h0.8v0.8h-0.8zM88.7,181.6h0.8v0.8h-0.8zM108.0,181.2h0.8v0.8h-0.8zM79.9,174.2h0.8v0.8h-0.8zM99.9,181.7h0.8v0.8h-0.8zM109.8,181.0h0.8v0.8h-0.8zM96.7,178.6h0.8v0.8h-0.8zM87.8,181.3h0.8v0.8h-0.8zM106.4,181.6h0.8v0.8h-0.8zM103.4,181.5h0.8v0.8h-0.8zM88.3,174.7h0.8v0.8h-0.8zM106.7,176.9h0.8v0.8h-0.8zM89.8,178.3h0.8v0.8h-0.8zM93.6,181.5h0.8v0.8h-0.8zM109.1,181.6h0.8v0.8h-0.8zM95.9,181.3h0.8v0.8h-0.8zM83.4,181.9h0.8v0.8h-0.8zM106.1,181.6h0.8v0.8h-0.8zM104.8,180.1h0.8v0.8h-0.8zM100.9,176.2h0.8v0.8h-0.8zM100.6,181.7h0.8v0.8h-0.8zM84.8,175.7h0.8v0.8h-0.8zM89.9,180.9h0.8v0.8h-0.8zM91.2,178.9h0.8v0.8h-0.8zM82.4,180.1h0.8v0.8h-0.8zM83.7,181.9h0.8v0.8h-0.8zM82.8,179.6h0.8v0.8h-0.8zM98.1,176.9h0.8v0.8h-0.8zM88.4,181.6h0.8v0.8h-0.8zM84.1,175.0h0.8v0.8h-0.8zM87.2,179.3h0.8v0.8h-0.8zM82.2,175.0h0.8v0.8h-0.8zM80.6,173.5h0.8v0.8h-0.8zM80.5,175.1h0.8v0.8h-0.8zM100.9,181.4h0.8v0.8h-0.8zM102.5,181.3h0.8v0.8h-0.8zM101.7,181.7h0.8v0.8h-0.8zM91.5,181.7h0.8v0.8h-0.8zM79.9,179.0h0.8v0.8h-0.8zM109.5,179.6h0.8v0.8h-0.8zM91.0,177.3h0.8v0.8h-0.8zM103.2,177.8h0.8v0.8h-0.8zM94.2,181.2h0.8v0.8h-0.8zM97.4,181.1h0.8v0.8h-0.8zM109.5,180.8h0.8v0.8h-0.8zM109.8,180.6h0.8v0.8h-0.8zM85.8,182.0h0.8v0.8h-0.8zM95.0,176.1h0.8v0.8h-0.8zM97.8,181.7h0.8v0.8h-0.8zM102.9,178.6h0.8v0.8h-0.8zM86.5,177.3h0.8v0.8h-0.8zM97.8,176.9h0.8v0.8h-0.8zM102.2,179.4h0.8v0.8h-0.8zM83.8,181.0h0.8v0.8h-0.8zM109.7,181.3h0.8v0.8h-0.8zM93.8,181.6h0.8v0.8h-0.8zM93.8,180.8h0.8v0.8h-0.8zM108.3,180.3h0.8v0.8h-0.8zM99.2,181.6h0.8v0.8h-0.8zM81.8,181.9h0.8v0.8h-0.8zM102.9,181.6h0.8v0.8h-0.8zM92.3,179.9h0.8v0.8h-0.8zM80.2,178.6h0.8v0.8h-0.8zM82.9,182.0h0.8v0.8h-0.8zM85.5,181.5h0.8v0.8h-0.8zM86.5,174.4h0.8v0.8h-0.8zM99.5,180.8h0.8v0.8h-0.8zM105.5,177.4h0.8v0.8h-0.8zM94.6,179.4h0.8v0.8h-0.8zM105.1,181.3h0.8v0.8h-0.8zM89.6,180.9h0.8v0.8h-0.8z" fill="#1a1a1a" opacity="0.55"/>
<path d="M91.4,178.1h0.8v0.8h-0.8zM86.4,179.3h0.8v0.8h-0.8zM88.4,181.9h0.8v0.8h-0.8zM104.4,181.6h0.8v0.8h-0.8zM82.6,181.9h0.8v0.8h-0.8zM83.6,178.1h0.8v0.8h-0.8zM99.7,181.7h0.8v0.8h-0.8zM93.0,175.5h0.8v0.8h-0.8zM107.0,180.9h0.8v0.8h-0.8zM109.7,181.5h0.8v0.8h-0.8zM94.4,175.3h0.8v0.8h-0.8zM100.1,177.0h0.8v0.8h-0.8zM108.9,179.1h0.8v0.8h-0.8zM108.7,181.5h0.8v0.8h-0.8zM106.5,181.0h0.8v0.8h-0.8zM107.6,181.2h0.8v0.8h-0.8zM102.3,181.5h0.8v0.8h-0.8zM101.2,181.3h0.8v0.8h-0.8zM102.9,181.7h0.8v0.8h-0.8zM90.2,175.5h0.8v0.8h-0.8zM104.8,179.5h0.8v0.8h-0.8zM103.0,181.2h0.8v0.8h-0.8zM91.6,180.8h0.8v0.8h-0.8zM95.6,180.7h0.8v0.8h-0.8zM91.7,180.3h0.8v0.8h-0.8zM102.9,180.3h0.8v0.8h-0.8zM97.9,176.9h0.8v0.8h-0.8zM94.2,181.6h0.8v0.8h-0.8zM86.3,181.9h0.8v0.8h-0.8zM92.3,181.9h0.8v0.8h-0.8zM103.9,176.6h0.8v0.8h-0.8zM102.9,181.6h0.8v0.8h-0.8zM104.8,180.1h0.8v0.8h-0.8zM96.4,180.0h0.8v0.8h-0.8zM109.5,177.8h0.8v0.8h-0.8zM105.3,180.7h0.8v0.8h-0.8zM94.9,181.7h0.8v0.8h-0.8zM79.7,182.0h0.8v0.8h-0.8zM100.9,179.8h0.8v0.8h-0.8zM82.2,181.8h0.8v0.8h-0.8zM102.6,181.7h0.8v0.8h-0.8zM103.8,181.7h0.8v0.8h-0.8zM92.9,179.1h0.8v0.8h-0.8zM102.6,178.1h0.8v0.8h-0.8zM95.8,181.5h0.8v0.8h-0.8zM82.7,176.9h0.8v0.8h-0.8zM98.1,181.7h0.8v0.8h-0.8zM102.3,181.6h0.8v0.8h-0.8zM99.1,180.8h0.8v0.8h-0.8zM105.6,181.0h0.8v0.8h-0.8zM82.7,181.9h0.8v0.8h-0.8zM84.3,179.4h0.8v0.8h-0.8zM81.4,181.8h0.8v0.8h-0.8zM105.3,181.6h0.8v0.8h-0.8zM90.7,178.7h0.8v0.8h-0.8zM81.0,179.2h0.8v0.8h-0.8zM86.8,181.9h0.8v0.8h-0.8zM85.9,182.0h0.8v0.8h-0.8zM81.8,181.1h0.8v0.8h-0.8zM82.5,181.8h0.8v0.8h-0.8zM99.6,181.7h0.8v0.8h-0.8zM83.9,177.4h0.8v0.8h-0.8zM101.9,177.9h0.8v0.8h-0.8zM93.1,177.3h0.8v0.8h-0.8zM85.3,181.0h0.8v0.8h-0.8zM104.6,181.6h0.8v0.8h-0.8zM109.8,181.5h0.8v0.8h-0.8zM105.6,176.9h0.8v0.8h-0.8zM92.2,180.6h0.8v0.8h-0.8zM93.0,180.8h0.8v0.8h-0.8zM92.7,180.2h0.8v0.8h-0.8zM96.8,181.7h0.8v0.8h-0.8zM99.0,181.2h0.8v0.8h-0.8zM98.4,181.0h0.8v0.8h-0.8zM106.8,181.5h0.8v0.8h-0.8zM91.0,180.8h0.8v0.8h-0.8zM93.7,181.1h0.8v0.8h-0.8zM90.7,175.1h0.8v0.8h-0.8zM90.7,177.1h0.8v0.8h-0.8zM108.9,181.5h0.8v0.8h-0.8zM81.7,181.6h0.8v0.8h-0.8zM92.1,180.9h0.8v0.8h-0.8zM89.6,175.7h0.8v0.8h-0.8zM100.6,181.6h0.8v0.8h-0.8zM102.3,180.8h0.8v0.8h-0.8zM109.4,176.8h0.8v0.8h-0.8zM102.9,178.3h0.8v0.8h-0.8zM91.5,180.7h0.8v0.8h-0.8zM103.3,179.4h0.8v0.8h-0.8zM100.3,181.0h0.8v0.8h-0.8zM103.1,179.3h0.8v0.8h-0.8zM88.6,181.9h0.8v0.8h-0.8zM95.6,179.3h0.8v0.8h-0.8zM93.8,175.6h0.8v0.8h-0.8zM107.2,180.9h0.8v0.8h-0.8zM104.2,179.6h0.8v0.8h-0.8zM89.0,178.7h0.8v0.8h-0.8zM104.4,178.0h0.8v0.8h-0.8zM106.8,177.0h0.8v0.8h-0.8zM86.4,181.6h0.8v0.8h-0.8zM108.3,181.4h0.8v0.8h-0.8zM104.1,181.5h0.8v0.8h-0.8zM90.0,177.2h0.8v0.8h-0.8zM106.9,181.6h0.8v0.8h-0.8zM89.2,181.5h0.8v0.8h-0.8zM85.8,181.5h0.8v0.8h-0.8zM92.5,181.9h0.8v0.8h-0.8zM104.4,178.8h0.8v0.8h-0.8zM107.7,181.5h0.8v0.8h-0.8zM92.3,180.1h0.8v0.8h-0.8zM102.2,181.6h0.8v0.8h-0.8zM90.3,181.2h0.8v0.8h-0.8zM108.8,181.2h0.8v0.8h-0.8zM108.3,181.6h0.8v0.8h-0.8zM100.0,181.3h0.8v0.8h-0.8zM97.4,179.6h0.8v0.8h-0.8zM90.1,180.6h0.8v0.8h-0.8zM98.9,181.0h0.8v0.8h-0.8zM87.2,179.9h0.8v0.8h-0.8zM84.5,175.8h0.8v0.8h-0.8zM93.2,176.8h0.8v0.8h-0.8zM89.1,181.4h0.8v0.8h-0.8zM109.5,179.9h0.8v0.8h-0.8zM99.0,180.5h0.8v0.8h-0.8z" fill="#1a1a1a" opacity="0.4"/>
<path d="M99.6,177.0h0.8v0.8h-0.8zM103.5,181.7h0.8v0.8h-0.8zM97.8,176.1h0.8v0.8h-0.8zM92.2,180.1h0.8v0.8h-0.8zM85.2,176.0h0.8v0.8h-0.8zM86.1,179.7h0.8v0.8h-0.8zM86.3,176.1h0.8v0.8h-0.8zM105.5,176.7h0.8v0.8h-0.8zM101.8,179.7h0.8v0.8h-0.8zM88.8,178.9h0.8v0.8h-0.8zM103.9,179.8h0.8v0.8h-0.8zM90.5,181.6h0.8v0.8h-0.8zM87.6,181.9h0.8v0.8h-0.8zM88.0,180.6h0.8v0.8h-0.8zM105.3,181.6h0.8v0.8h-0.8zM102.3,179.7h0.8v0.8h-0.8zM105.3,179.9h0.8v0.8h-0.8zM102.0,178.3h0.8v0.8h-0.8zM106.1,181.6h0.8v0.8h-0.8zM93.0,180.8h0.8v0.8h-0.8zM101.5,180.4h0.8v0.8h-0.8zM91.3,175.3h0.8v0.8h-0.8zM99.4,181.6h0.8v0.8h-0.8zM96.9,181.2h0.8v0.8h-0.8zM101.9,179.6h0.8v0.8h-0.8zM106.7,178.8h0.8v0.8h-0.8zM90.5,176.5h0.8v0.8h-0.8zM101.0,176.5h0.8v0.8h-0.8zM83.7,182.0h0.8v0.8h-0.8zM105.5,181.4h0.8v0.8h-0.8zM108.1,181.1h0.8v0.8h-0.8zM101.2,181.0h0.8v0.8h-0.8zM97.9,181.8h0.8v0.8h-0.8zM103.0,181.7h0.8v0.8h-0.8zM98.2,181.5h0.8v0.8h-0.8zM80.2,176.7h0.8v0.8h-0.8zM95.3,181.1h0.8v0.8h-0.8zM99.8,181.7h0.8v0.8h-0.8zM89.3,181.9h0.8v0.8h-0.8zM84.4,174.7h0.8v0.8h-0.8zM87.8,181.8h0.8v0.8h-0.8zM109.5,181.5h0.8v0.8h-0.8zM99.4,180.3h0.8v0.8h-0.8zM83.8,182.0h0.8v0.8h-0.8zM86.6,182.0h0.8v0.8h-0.8zM94.3,181.8h0.8v0.8h-0.8zM82.3,182.0h0.8v0.8h-0.8zM107.5,177.7h0.8v0.8h-0.8zM96.6,177.3h0.8v0.8h-0.8zM81.6,178.7h0.8v0.8h-0.8zM95.8,181.7h0.8v0.8h-0.8zM81.5,181.5h0.8v0.8h-0.8zM97.9,181.0h0.8v0.8h-0.8zM92.3,181.9h0.8v0.8h-0.8zM103.7,181.7h0.8v0.8h-0.8zM97.0,181.4h0.8v0.8h-0.8zM100.0,178.6h0.8v0.8h-0.8zM84.5,182.0h0.8v0.8h-0.8zM85.5,182.0h0.8v0.8h-0.8zM102.3,178.1h0.8v0.8h-0.8zM88.9,181.9h0.8v0.8h-0.8zM103.6,181.1h0.8v0.8h-0.8zM104.5,181.0h0.8v0.8h-0.8zM86.2,181.7h0.8v0.8h-0.8zM83.5,182.0h0.8v0.8h-0.8zM93.1,177.3h0.8v0.8h-0.8zM102.8,181.3h0.8v0.8h-0.8zM98.2,181.7h0.8v0.8h-0.8zM92.8,181.8h0.8v0.8h-0.8zM84.5,180.6h0.8v0.8h-0.8zM84.6,181.9h0.8v0.8h-0.8zM87.4,178.5h0.8v0.8h-0.8zM103.8,181.7h0.8v0.8h-0.8zM103.5,178.1h0.8v0.8h-0.8zM108.2,181.0h0.8v0.8h-0.8zM85.5,181.0h0.8v0.8h-0.8zM88.9,180.9h0.8v0.8h-0.8zM88.9,179.8h0.8v0.8h-0.8zM99.3,180.4h0.8v0.8h-0.8zM86.1,176.2h0.8v0.8h-0.8zM99.8,181.7h0.8v0.8h-0.8zM105.8,177.7h0.8v0.8h-0.8zM109.7,181.5h0.8v0.8h-0.8zM94.8,181.8h0.8v0.8h-0.8zM104.9,179.0h0.8v0.8h-0.8zM86.6,181.5h0.8v0.8h-0.8zM101.7,181.4h0.8v0.8h-0.8zM80.8,177.5h0.8v0.8h-0.8zM90.2,179.8h0.8v0.8h-0.8zM103.8,181.6h0.8v0.8h-0.8zM98.2,178.2h0.8v0.8h-0.8zM87.9,181.6h0.8v0.8h-0.8zM80.7,180.8h0.8v0.8h-0.8zM90.4,174.8h0.8v0.8h-0.8zM89.4,181.3h0.8v0.8h-0.8zM98.5,179.8h0.8v0.8h-0.8zM96.8,179.0h0.8v0.8h-0.8zM84.3,176.5h0.8v0.8h-0.8z" fill="#1a1a1a" opacity="0.25"/>
<path d="M107.9,192.4h0.7v0.7h-0.7zM109.0,191.3h0.7v0.7h-0.7zM104.3,189.9h0.7v0.7h-0.7zM92.5,190.0h0.7v0.7h-0.7zM92.1,190.7h0.7v0.7h-0.7zM94.9,191.9h0.7v0.7h-0.7zM80.1,191.6h0.7v0.7h-0.7zM83.9,190.9h0.7v0.7h-0.7zM105.7,191.6h0.7v0.7h-0.7zM92.8,192.4h0.7v0.7h-0.7zM103.7,190.0h0.7v0.7h-0.7zM93.2,190.9h0.7v0.7h-0.7zM81.0,192.3h0.7v0.7h-0.7zM88.8,190.0h0.7v0.7h-0.7zM87.6,192.1h0.7v0.7h-0.7zM86.0,191.3h0.7v0.7h-0.7zM94.7,191.4h0.7v0.7h-0.7zM102.5,191.9h0.7v0.7h-0.7zM99.0,190.6h0.7v0.7h-0.7zM98.8,190.8h0.7v0.7h-0.7zM100.0,191.9h0.7v0.7h-0.7zM108.1,189.9h0.7v0.7h-0.7zM104.5,192.2h0.7v0.7h-0.7zM88.6,191.6h0.7v0.7h-0.7zM105.3,192.0h0.7v0.7h-0.7zM107.5,190.9h0.7v0.7h-0.7zM104.9,192.4h0.7v0.7h-0.7zM87.6,191.3h0.7v0.7h-0.7zM93.0,189.9h0.7v0.7h-0.7zM82.4,192.2h0.7v0.7h-0.7zM105.9,190.4h0.7v0.7h-0.7zM97.6,192.4h0.7v0.7h-0.7zM82.4,190.7h0.7v0.7h-0.7zM104.6,191.6h0.7v0.7h-0.7zM108.0,191.7h0.7v0.7h-0.7zM102.2,191.7h0.7v0.7h-0.7zM104.6,190.6h0.7v0.7h-0.7zM84.8,192.5h0.7v0.7h-0.7zM86.5,192.4h0.7v0.7h-0.7zM86.6,190.6h0.7v0.7h-0.7zM81.8,190.3h0.7v0.7h-0.7zM109.2,190.7h0.7v0.7h-0.7zM109.1,190.0h0.7v0.7h-0.7zM91.2,191.7h0.7v0.7h-0.7zM108.4,190.4h0.7v0.7h-0.7zM92.2,191.2h0.7v0.7h-0.7zM89.2,190.0h0.7v0.7h-0.7zM91.2,191.8h0.7v0.7h-0.7zM94.1,191.4h0.7v0.7h-0.7zM85.7,190.6h0.7v0.7h-0.7z" fill="#333" opacity="0.45"/>
<path d="M79.0,180.9 L79.7,181.6 L80.4,181.2 L81.1,180.3 L81.8,180.2 L82.5,180.2 L83.2,180.9 L83.9,180.1 L84.6,180.7 L85.3,181.5 L86.0,180.8 L86.7,180.0 L87.4,181.1 L88.1,181.1 L88.8,181.5 L89.5,181.0 L90.2,181.4 L90.9,179.9 L91.6,180.7 L92.3,181.1 L93.0,181.0 L93.7,180.6 L94.4,181.2 L95.1,180.2 L95.8,181.0 L96.5,180.7 L97.2,179.9 L97.9,180.7 L98.6,180.8 L99.3,180.1 L100.0,179.8 L100.7,180.2 L101.4,180.6 L102.1,179.8 L102.8,181.0 L103.5,179.7 L104.2,180.2 L104.9,181.0 L105.6,181.0 L106.3,181.0 L107.0,180.8 L107.0,190.5 L106.3,189.8 L105.6,191.0 L104.9,190.3 L104.2,190.6 L103.5,190.9 L102.8,190.7 L102.1,190.5 L101.4,189.9 L100.7,190.1 L100.0,190.1 L99.3,190.9 L98.6,191.0 L97.9,190.5 L97.2,190.0 L96.5,190.4 L95.8,190.7 L95.1,190.2 L94.4,190.4 L93.7,190.6 L93.0,190.9 L92.3,190.1 L91.6,189.9 L90.9,191.0 L90.2,190.1 L89.5,190.6 L88.8,190.5 L88.1,190.0 L87.4,189.9 L86.7,190.1 L86.0,189.9 L85.3,190.1 L84.6,190.7 L83.9,190.6 L83.2,190.4 L82.5,189.9 L81.8,190.1 L81.1,190.3 L80.4,190.5 L79.7,190.7 L79.0,190.7 Z" fill="#222" opacity="0.55"/>
<path d="M79.0,182.2 L79.7,181.8 L80.4,182.4 L81.1,182.5 L81.8,181.9 L82.5,181.8 L83.2,182.4 L83.9,181.1 L84.6,181.1 L85.3,181.2 L86.0,181.7 L86.7,181.9 L87.4,181.6 L88.1,181.6 L88.8,181.6 L89.5,181.2 L90.2,182.4 L90.9,181.5 L91.6,181.8 L92.3,181.2 L93.0,181.2 L93.7,181.1 L94.4,182.1 L95.1,181.1 L95.8,181.4 L96.5,181.7 L97.2,181.0 L97.9,181.6 L98.6,181.5 L99.3,182.0 L100.0,181.9 L100.7,181.2 L101.4,181.0 L102.1,182.2 L102.8,180.8 L103.5,182.1 L104.2,181.3 L104.9,181.9 L105.6,182.0 L106.3,181.6 L107.0,181.3 L107.0,189.5 L106.3,189.7 L105.6,189.4 L104.9,190.2 L104.2,189.9 L103.5,189.3 L102.8,189.3 L102.1,189.6 L101.4,190.2 L100.7,190.3 L100.0,190.2 L99.3,190.2 L98.6,190.5 L97.9,189.8 L97.2,190.0 L96.5,190.4 L95.8,189.9 L95.1,189.3 L94.4,190.4 L93.7,189.8 L93.0,189.4 L92.3,190.1 L91.6,189.8 L90.9,190.2 L90.2,189.3 L89.5,190.2 L88.8,189.3 L88.1,189.6 L87.4,190.2 L86.7,190.2 L86.0,189.5 L85.3,189.5 L84.6,190.4 L83.9,189.2 L83.2,189.5 L82.5,190.5 L81.8,189.3 L81.1,190.5 L80.4,190.5 L79.7,189.3 L79.0,189.8 Z" fill="#150c15"/>
<defs><linearGradient id="mg3" x1="0" x2="1" y1="0" y2="0"><stop offset="0" stop-color="#3a1038"/><stop offset="0.2" stop-color="#962a8a"/><stop offset="0.7" stop-color="#b0349e"/><stop offset="1" stop-color="#7a3ab0"/></linearGradient></defs>
<path d="M80.8,183.2 L81.8,183.3 L82.8,183.4 L83.8,183.2 L84.8,183.4 L85.8,183.5 L86.8,183.5 L87.8,183.0 L88.8,183.3 L89.8,183.3 L90.8,183.1 L91.8,183.2 L92.8,183.1 L93.8,183.4 L94.8,183.1 L95.8,182.8 L96.8,183.1 L97.8,183.4 L98.8,182.8 L99.8,182.8 L100.8,182.8 L101.8,182.9 L102.8,182.9 L103.8,183.2 L104.3,183.0 L104.3,188.3 L103.8,188.9 L102.8,188.3 L101.8,188.3 L100.8,188.7 L99.8,188.2 L98.8,188.7 L97.8,188.7 L96.8,188.7 L95.8,188.9 L94.8,188.2 L93.8,188.1 L92.8,188.6 L91.8,188.4 L90.8,188.2 L89.8,188.2 L88.8,188.8 L87.8,188.6 L86.8,188.2 L85.8,188.5 L84.8,188.6 L83.8,188.8 L82.8,188.2 L81.8,188.3 L80.8,188.6 Z" fill="url(#mg3)"/>
<path d="M84.8,187.6h0.7v0.7h-0.7zM90.4,187.6h0.7v0.7h-0.7zM84.6,185.6h0.7v0.7h-0.7zM85.0,184.1h0.7v0.7h-0.7zM93.6,185.5h0.7v0.7h-0.7zM86.3,188.0h0.7v0.7h-0.7zM96.3,184.6h0.7v0.7h-0.7zM83.5,187.5h0.7v0.7h-0.7zM83.0,184.6h0.7v0.7h-0.7zM84.4,187.9h0.7v0.7h-0.7zM82.8,185.0h0.7v0.7h-0.7zM94.7,187.7h0.7v0.7h-0.7zM98.4,186.1h0.7v0.7h-0.7zM102.8,185.5h0.7v0.7h-0.7zM103.2,187.3h0.7v0.7h-0.7zM100.5,186.0h0.7v0.7h-0.7zM88.1,184.4h0.7v0.7h-0.7zM97.9,183.8h0.7v0.7h-0.7zM89.1,186.2h0.7v0.7h-0.7zM104.1,186.4h0.7v0.7h-0.7zM96.3,183.9h0.7v0.7h-0.7zM81.3,185.6h0.7v0.7h-0.7zM94.8,183.5h0.7v0.7h-0.7zM87.7,184.0h0.7v0.7h-0.7zM95.6,185.6h0.7v0.7h-0.7zM89.6,185.8h0.7v0.7h-0.7zM97.4,187.8h0.7v0.7h-0.7zM93.5,186.1h0.7v0.7h-0.7zM87.7,187.6h0.7v0.7h-0.7zM81.5,184.8h0.7v0.7h-0.7zM88.3,186.9h0.7v0.7h-0.7zM97.9,187.8h0.7v0.7h-0.7zM97.5,185.6h0.7v0.7h-0.7zM82.8,185.3h0.7v0.7h-0.7zM96.2,187.6h0.7v0.7h-0.7zM103.9,185.4h0.7v0.7h-0.7zM98.1,184.5h0.7v0.7h-0.7zM89.4,183.4h0.7v0.7h-0.7zM93.7,185.0h0.7v0.7h-0.7zM90.4,185.6h0.7v0.7h-0.7z" fill="#2a0a2a" opacity="0.5"/>
<circle cx="107.30" cy="185.40" r="5.60" fill="#2a0c2e"/>
<circle cx="107.30" cy="185.40" r="4.70" fill="#4060d4"/>
<circle cx="107.50" cy="185.40" r="4.10" fill="#24acc8"/>
<circle cx="107.60" cy="185.40" r="3.50" fill="#34a044"/>
<circle cx="107.90" cy="185.40" r="1.80" fill="#c08020"/>
<rect x="166.50" y="132.00" width="87.80" height="78.80" fill="none" stroke="#1a1a1a" stroke-width="1"/>
<line x1="164.50" y1="132.30" x2="166.50" y2="132.30" stroke="#333" stroke-width="0.6" />
<text x="162.30" y="134.66" font-size="6.6" text-anchor="end" fill="#222" stroke="#222" stroke-width="0.2" >10<tspan font-size="4" dy="-2.3">6</tspan></text>
<line x1="164.50" y1="146.37" x2="166.50" y2="146.37" stroke="#333" stroke-width="0.6" />
<text x="162.30" y="148.74" font-size="6.6" text-anchor="end" fill="#222" stroke="#222" stroke-width="0.2" >10<tspan font-size="4" dy="-2.3">5</tspan></text>
<line x1="164.50" y1="161.54" x2="166.50" y2="161.54" stroke="#333" stroke-width="0.6" />
<text x="162.30" y="163.90" font-size="6.6" text-anchor="end" fill="#222" stroke="#222" stroke-width="0.2" >10<tspan font-size="4" dy="-2.3">4</tspan></text>
<line x1="164.50" y1="176.80" x2="166.50" y2="176.80" stroke="#333" stroke-width="0.6" />
<text x="162.30" y="179.16" font-size="6.6" text-anchor="end" fill="#222" stroke="#222" stroke-width="0.2" >2000</text>
<line x1="164.50" y1="190.78" x2="166.50" y2="190.78" stroke="#333" stroke-width="0.6" />
<text x="162.30" y="193.14" font-size="6.6" text-anchor="end" fill="#222" stroke="#222" stroke-width="0.2" >0</text>
<line x1="164.50" y1="203.47" x2="166.50" y2="203.47" stroke="#333" stroke-width="0.6" />
<text x="162.30" y="205.83" font-size="6.6" text-anchor="end" fill="#222" stroke="#222" stroke-width="0.2" >−2000</text>
<line x1="165.30" y1="139.43" x2="166.50" y2="139.43" stroke="#555" stroke-width="0.5" />
<line x1="165.30" y1="153.81" x2="166.50" y2="153.81" stroke="#555" stroke-width="0.5" />
<line x1="165.30" y1="169.17" x2="166.50" y2="169.17" stroke="#555" stroke-width="0.5" />
<line x1="165.30" y1="183.54" x2="166.50" y2="183.54" stroke="#555" stroke-width="0.5" />
<line x1="165.30" y1="197.42" x2="166.50" y2="197.42" stroke="#555" stroke-width="0.5" />
<line x1="169.01" y1="210.80" x2="169.01" y2="212.80" stroke="#333" stroke-width="0.6" />
<text x="169.01" y="220.56" font-size="6.6" text-anchor="middle" fill="#222" stroke="#222" stroke-width="0.2" >−4000</text>
<line x1="189.85" y1="210.80" x2="189.85" y2="212.80" stroke="#333" stroke-width="0.6" />
<text x="189.85" y="220.56" font-size="6.6" text-anchor="middle" fill="#222" stroke="#222" stroke-width="0.2" >0</text>
<line x1="202.18" y1="210.80" x2="202.18" y2="212.80" stroke="#333" stroke-width="0.6" />
<text x="202.18" y="220.56" font-size="6.6" text-anchor="middle" fill="#222" stroke="#222" stroke-width="0.2" >2000</text>
<line x1="221.43" y1="210.80" x2="221.43" y2="212.80" stroke="#333" stroke-width="0.6" />
<text x="221.43" y="220.56" font-size="6.6" text-anchor="middle" fill="#222" stroke="#222" stroke-width="0.2" >10<tspan font-size="4" dy="-2.3">4</tspan></text>
<line x1="239.17" y1="210.80" x2="239.17" y2="212.80" stroke="#333" stroke-width="0.6" />
<text x="239.17" y="220.56" font-size="6.6" text-anchor="middle" fill="#222" stroke="#222" stroke-width="0.2" >10<tspan font-size="4" dy="-2.3">5</tspan></text>
<line x1="254.70" y1="210.80" x2="254.70" y2="212.80" stroke="#333" stroke-width="0.6" />
<text x="254.70" y="220.56" font-size="6.6" text-anchor="middle" fill="#222" stroke="#222" stroke-width="0.2" >10<tspan font-size="4" dy="-2.3">6</tspan></text>
<line x1="179.53" y1="210.80" x2="179.53" y2="212.00" stroke="#555" stroke-width="0.5" />
<line x1="211.60" y1="210.80" x2="211.60" y2="212.00" stroke="#555" stroke-width="0.5" />
<line x1="230.65" y1="210.80" x2="230.65" y2="212.00" stroke="#555" stroke-width="0.5" />
<text x="210.50" y="121.48" font-size="6.1" text-anchor="middle" fill="#222" stroke="#222" stroke-width="0.2" >cryptic Pep11</text>
<text x="210.50" y="129.08" font-size="6.1" text-anchor="middle" fill="#222" stroke="#222" stroke-width="0.2" >(HLA-A*03, QLSRTHLSR)</text>
<rect x="198.50" y="147.70" width="38.70" height="17.50" fill="none" stroke="#333" stroke-width="0.8"/>
<text x="236.90" y="147.02" font-size="6.2" text-anchor="end" fill="#222" stroke="#222" stroke-width="0.2" >0.02 %</text>
<path d="M212.9,178.6h0.8v0.8h-0.8zM206.6,181.0h0.8v0.8h-0.8zM225.9,180.2h0.8v0.8h-0.8zM212.3,178.3h0.8v0.8h-0.8zM207.1,180.2h0.8v0.8h-0.8zM207.9,177.3h0.8v0.8h-0.8zM227.8,180.8h0.8v0.8h-0.8zM230.3,178.8h0.8v0.8h-0.8zM212.4,180.7h0.8v0.8h-0.8zM206.9,182.0h0.8v0.8h-0.8zM203.6,179.7h0.8v0.8h-0.8zM212.0,179.8h0.8v0.8h-0.8zM221.2,177.8h0.8v0.8h-0.8zM206.9,182.2h0.8v0.8h-0.8zM213.6,179.1h0.8v0.8h-0.8zM210.9,182.0h0.8v0.8h-0.8zM224.1,182.1h0.8v0.8h-0.8zM216.2,181.5h0.8v0.8h-0.8zM216.4,178.4h0.8v0.8h-0.8zM223.8,182.1h0.8v0.8h-0.8zM204.7,181.0h0.8v0.8h-0.8zM206.4,182.3h0.8v0.8h-0.8zM233.1,181.5h0.8v0.8h-0.8zM207.2,181.9h0.8v0.8h-0.8zM213.1,182.3h0.8v0.8h-0.8zM206.4,179.7h0.8v0.8h-0.8zM206.6,182.4h0.8v0.8h-0.8zM230.5,181.6h0.8v0.8h-0.8zM212.0,180.0h0.8v0.8h-0.8zM220.7,182.0h0.8v0.8h-0.8zM212.2,182.3h0.8v0.8h-0.8zM212.0,182.2h0.8v0.8h-0.8zM227.4,181.3h0.8v0.8h-0.8zM215.0,182.2h0.8v0.8h-0.8zM233.0,181.6h0.8v0.8h-0.8zM232.3,181.9h0.8v0.8h-0.8zM211.0,181.9h0.8v0.8h-0.8zM215.1,182.2h0.8v0.8h-0.8zM216.9,181.8h0.8v0.8h-0.8zM210.4,182.2h0.8v0.8h-0.8zM214.2,176.8h0.8v0.8h-0.8zM205.2,181.7h0.8v0.8h-0.8zM229.7,180.4h0.8v0.8h-0.8zM215.4,178.8h0.8v0.8h-0.8zM222.0,181.8h0.8v0.8h-0.8zM209.0,182.1h0.8v0.8h-0.8zM221.9,181.8h0.8v0.8h-0.8zM218.0,181.4h0.8v0.8h-0.8zM217.8,181.8h0.8v0.8h-0.8zM218.0,181.7h0.8v0.8h-0.8zM214.4,182.1h0.8v0.8h-0.8zM230.6,181.3h0.8v0.8h-0.8zM221.8,181.6h0.8v0.8h-0.8zM224.3,178.3h0.8v0.8h-0.8zM207.4,179.9h0.8v0.8h-0.8zM221.5,182.1h0.8v0.8h-0.8zM227.0,182.1h0.8v0.8h-0.8zM228.2,180.7h0.8v0.8h-0.8zM207.0,182.2h0.8v0.8h-0.8zM218.3,182.2h0.8v0.8h-0.8zM210.2,180.1h0.8v0.8h-0.8zM209.0,182.2h0.8v0.8h-0.8zM229.6,182.0h0.8v0.8h-0.8zM205.4,182.3h0.8v0.8h-0.8zM212.1,180.8h0.8v0.8h-0.8zM218.4,182.2h0.8v0.8h-0.8zM214.3,182.3h0.8v0.8h-0.8zM230.8,181.0h0.8v0.8h-0.8zM215.4,176.9h0.8v0.8h-0.8zM225.0,180.5h0.8v0.8h-0.8zM222.1,181.9h0.8v0.8h-0.8zM209.7,182.1h0.8v0.8h-0.8zM220.0,182.1h0.8v0.8h-0.8zM219.0,182.2h0.8v0.8h-0.8zM208.1,182.3h0.8v0.8h-0.8zM222.7,182.1h0.8v0.8h-0.8zM205.4,177.9h0.8v0.8h-0.8zM208.1,179.7h0.8v0.8h-0.8zM214.2,181.0h0.8v0.8h-0.8zM210.6,177.1h0.8v0.8h-0.8zM218.0,181.9h0.8v0.8h-0.8zM213.5,181.5h0.8v0.8h-0.8zM218.6,181.6h0.8v0.8h-0.8zM220.6,182.0h0.8v0.8h-0.8zM209.2,179.3h0.8v0.8h-0.8zM208.9,181.5h0.8v0.8h-0.8zM213.9,182.3h0.8v0.8h-0.8zM227.5,181.9h0.8v0.8h-0.8zM208.6,179.8h0.8v0.8h-0.8zM231.9,182.0h0.8v0.8h-0.8zM206.9,181.9h0.8v0.8h-0.8zM216.1,180.3h0.8v0.8h-0.8zM218.0,181.1h0.8v0.8h-0.8zM211.3,182.3h0.8v0.8h-0.8zM216.8,180.7h0.8v0.8h-0.8zM232.9,181.9h0.8v0.8h-0.8zM206.7,181.8h0.8v0.8h-0.8zM232.3,182.0h0.8v0.8h-0.8zM229.3,180.8h0.8v0.8h-0.8zM215.3,181.5h0.8v0.8h-0.8zM232.2,180.6h0.8v0.8h-0.8zM212.8,180.9h0.8v0.8h-0.8zM222.2,181.9h0.8v0.8h-0.8zM207.6,182.0h0.8v0.8h-0.8zM208.5,176.7h0.8v0.8h-0.8zM227.9,180.0h0.8v0.8h-0.8zM224.1,179.0h0.8v0.8h-0.8zM210.7,178.5h0.8v0.8h-0.8zM211.4,182.2h0.8v0.8h-0.8zM210.0,179.3h0.8v0.8h-0.8zM208.3,178.0h0.8v0.8h-0.8zM230.0,181.6h0.8v0.8h-0.8zM228.3,182.0h0.8v0.8h-0.8zM227.7,179.4h0.8v0.8h-0.8zM215.1,179.3h0.8v0.8h-0.8zM229.1,179.0h0.8v0.8h-0.8zM212.1,180.1h0.8v0.8h-0.8zM216.5,182.2h0.8v0.8h-0.8zM227.2,181.9h0.8v0.8h-0.8zM231.8,181.6h0.8v0.8h-0.8z" fill="#1a1a1a" opacity="0.75"/>
<path d="M217.2,180.1h0.8v0.8h-0.8zM230.1,182.0h0.8v0.8h-0.8zM211.6,182.3h0.8v0.8h-0.8zM232.4,181.9h0.8v0.8h-0.8zM213.6,182.3h0.8v0.8h-0.8zM232.8,181.7h0.8v0.8h-0.8zM206.4,182.2h0.8v0.8h-0.8zM223.5,180.9h0.8v0.8h-0.8zM209.2,181.0h0.8v0.8h-0.8zM211.8,182.3h0.8v0.8h-0.8zM218.4,182.2h0.8v0.8h-0.8zM216.9,181.0h0.8v0.8h-0.8zM204.9,177.3h0.8v0.8h-0.8zM206.4,182.2h0.8v0.8h-0.8zM209.6,182.4h0.8v0.8h-0.8zM219.4,179.5h0.8v0.8h-0.8zM204.9,182.4h0.8v0.8h-0.8zM210.7,180.6h0.8v0.8h-0.8zM212.3,180.3h0.8v0.8h-0.8zM217.9,181.3h0.8v0.8h-0.8zM205.3,180.6h0.8v0.8h-0.8zM211.0,178.6h0.8v0.8h-0.8zM219.0,178.9h0.8v0.8h-0.8zM227.5,180.4h0.8v0.8h-0.8zM221.5,179.0h0.8v0.8h-0.8zM226.7,181.6h0.8v0.8h-0.8zM225.5,179.6h0.8v0.8h-0.8zM230.7,181.6h0.8v0.8h-0.8zM226.7,182.0h0.8v0.8h-0.8zM217.5,181.9h0.8v0.8h-0.8zM210.6,178.7h0.8v0.8h-0.8zM211.3,182.3h0.8v0.8h-0.8zM207.8,181.0h0.8v0.8h-0.8zM203.4,176.7h0.8v0.8h-0.8zM222.0,181.1h0.8v0.8h-0.8zM227.3,178.2h0.8v0.8h-0.8zM224.0,179.9h0.8v0.8h-0.8zM209.3,182.4h0.8v0.8h-0.8zM216.9,181.1h0.8v0.8h-0.8zM224.5,180.3h0.8v0.8h-0.8zM224.7,181.4h0.8v0.8h-0.8zM227.0,180.6h0.8v0.8h-0.8zM210.9,177.5h0.8v0.8h-0.8zM213.9,180.9h0.8v0.8h-0.8zM215.8,177.7h0.8v0.8h-0.8zM205.6,182.4h0.8v0.8h-0.8zM222.2,179.5h0.8v0.8h-0.8zM205.9,182.4h0.8v0.8h-0.8zM230.6,181.4h0.8v0.8h-0.8zM231.6,179.7h0.8v0.8h-0.8zM207.0,181.2h0.8v0.8h-0.8zM210.8,180.8h0.8v0.8h-0.8zM212.0,179.1h0.8v0.8h-0.8zM210.2,179.7h0.8v0.8h-0.8zM212.4,182.0h0.8v0.8h-0.8zM228.5,180.8h0.8v0.8h-0.8zM205.6,177.5h0.8v0.8h-0.8zM217.4,178.7h0.8v0.8h-0.8zM226.7,182.1h0.8v0.8h-0.8zM219.6,179.4h0.8v0.8h-0.8zM230.8,180.7h0.8v0.8h-0.8zM227.4,182.0h0.8v0.8h-0.8zM217.5,182.2h0.8v0.8h-0.8zM215.9,178.4h0.8v0.8h-0.8zM226.1,182.0h0.8v0.8h-0.8zM232.5,182.0h0.8v0.8h-0.8zM212.4,180.3h0.8v0.8h-0.8zM227.3,181.1h0.8v0.8h-0.8zM207.0,178.1h0.8v0.8h-0.8zM230.8,180.8h0.8v0.8h-0.8zM206.4,181.9h0.8v0.8h-0.8zM226.7,181.4h0.8v0.8h-0.8zM211.5,179.8h0.8v0.8h-0.8zM216.1,181.7h0.8v0.8h-0.8zM214.9,182.2h0.8v0.8h-0.8zM221.4,180.9h0.8v0.8h-0.8zM214.2,179.0h0.8v0.8h-0.8zM205.6,176.1h0.8v0.8h-0.8zM222.9,181.2h0.8v0.8h-0.8zM226.6,179.1h0.8v0.8h-0.8zM231.6,179.4h0.8v0.8h-0.8zM232.4,180.8h0.8v0.8h-0.8zM218.0,181.1h0.8v0.8h-0.8zM218.0,181.7h0.8v0.8h-0.8zM217.7,182.2h0.8v0.8h-0.8zM211.8,180.2h0.8v0.8h-0.8zM222.2,181.7h0.8v0.8h-0.8zM211.5,181.5h0.8v0.8h-0.8zM213.5,179.9h0.8v0.8h-0.8zM209.6,182.3h0.8v0.8h-0.8zM221.3,182.2h0.8v0.8h-0.8zM229.8,182.0h0.8v0.8h-0.8zM213.5,181.5h0.8v0.8h-0.8zM231.8,181.0h0.8v0.8h-0.8zM229.0,182.0h0.8v0.8h-0.8zM232.2,179.5h0.8v0.8h-0.8zM223.8,181.6h0.8v0.8h-0.8zM221.1,182.2h0.8v0.8h-0.8zM208.6,182.3h0.8v0.8h-0.8zM233.0,180.5h0.8v0.8h-0.8zM229.9,181.4h0.8v0.8h-0.8zM205.7,182.3h0.8v0.8h-0.8zM205.7,181.6h0.8v0.8h-0.8zM225.9,181.9h0.8v0.8h-0.8zM232.5,182.0h0.8v0.8h-0.8zM222.5,179.9h0.8v0.8h-0.8zM221.9,182.2h0.8v0.8h-0.8zM204.0,181.1h0.8v0.8h-0.8zM230.4,181.9h0.8v0.8h-0.8zM216.4,182.2h0.8v0.8h-0.8zM223.1,181.6h0.8v0.8h-0.8zM220.7,181.7h0.8v0.8h-0.8zM210.5,177.3h0.8v0.8h-0.8zM216.5,182.0h0.8v0.8h-0.8zM208.1,182.2h0.8v0.8h-0.8zM224.1,182.1h0.8v0.8h-0.8zM220.7,181.7h0.8v0.8h-0.8zM233.2,180.1h0.8v0.8h-0.8zM221.5,181.9h0.8v0.8h-0.8zM212.6,182.3h0.8v0.8h-0.8zM214.6,181.2h0.8v0.8h-0.8zM220.1,181.0h0.8v0.8h-0.8zM203.5,182.5h0.8v0.8h-0.8zM230.6,181.4h0.8v0.8h-0.8zM230.8,182.0h0.8v0.8h-0.8z" fill="#1a1a1a" opacity="0.55"/>
<path d="M221.3,178.7h0.8v0.8h-0.8zM227.3,182.0h0.8v0.8h-0.8zM217.7,181.9h0.8v0.8h-0.8zM215.8,182.2h0.8v0.8h-0.8zM218.3,182.2h0.8v0.8h-0.8zM216.2,181.8h0.8v0.8h-0.8zM214.4,182.3h0.8v0.8h-0.8zM210.0,181.0h0.8v0.8h-0.8zM216.2,177.0h0.8v0.8h-0.8zM203.4,182.4h0.8v0.8h-0.8zM222.1,181.4h0.8v0.8h-0.8zM207.7,176.7h0.8v0.8h-0.8zM211.7,180.1h0.8v0.8h-0.8zM209.6,181.9h0.8v0.8h-0.8zM221.1,181.2h0.8v0.8h-0.8zM211.5,182.3h0.8v0.8h-0.8zM228.5,181.8h0.8v0.8h-0.8zM213.2,181.8h0.8v0.8h-0.8zM203.8,182.4h0.8v0.8h-0.8zM224.2,180.0h0.8v0.8h-0.8zM225.1,182.1h0.8v0.8h-0.8zM223.3,180.2h0.8v0.8h-0.8zM220.1,180.0h0.8v0.8h-0.8zM207.7,182.2h0.8v0.8h-0.8zM231.4,181.9h0.8v0.8h-0.8zM209.7,182.3h0.8v0.8h-0.8zM203.7,179.3h0.8v0.8h-0.8zM212.5,179.1h0.8v0.8h-0.8zM208.1,177.7h0.8v0.8h-0.8zM219.2,182.1h0.8v0.8h-0.8zM208.9,182.3h0.8v0.8h-0.8zM211.6,179.2h0.8v0.8h-0.8zM233.1,181.8h0.8v0.8h-0.8zM214.8,179.7h0.8v0.8h-0.8zM216.2,179.7h0.8v0.8h-0.8zM203.9,181.8h0.8v0.8h-0.8zM221.2,182.2h0.8v0.8h-0.8zM227.8,181.7h0.8v0.8h-0.8zM220.7,180.2h0.8v0.8h-0.8zM203.5,181.7h0.8v0.8h-0.8zM205.8,181.4h0.8v0.8h-0.8zM209.8,182.4h0.8v0.8h-0.8zM232.9,179.1h0.8v0.8h-0.8zM210.7,180.1h0.8v0.8h-0.8zM214.7,181.8h0.8v0.8h-0.8zM223.1,181.2h0.8v0.8h-0.8zM208.6,176.9h0.8v0.8h-0.8zM228.2,179.3h0.8v0.8h-0.8zM229.9,181.6h0.8v0.8h-0.8zM207.2,181.2h0.8v0.8h-0.8zM230.0,181.6h0.8v0.8h-0.8zM215.0,182.2h0.8v0.8h-0.8zM221.1,178.4h0.8v0.8h-0.8zM220.1,182.0h0.8v0.8h-0.8zM218.3,182.2h0.8v0.8h-0.8zM224.3,178.5h0.8v0.8h-0.8zM216.5,181.6h0.8v0.8h-0.8zM209.2,182.3h0.8v0.8h-0.8zM220.7,182.1h0.8v0.8h-0.8zM222.5,181.5h0.8v0.8h-0.8zM206.4,180.8h0.8v0.8h-0.8zM204.3,177.6h0.8v0.8h-0.8zM228.3,180.3h0.8v0.8h-0.8zM208.2,181.1h0.8v0.8h-0.8zM231.2,182.0h0.8v0.8h-0.8zM209.5,177.1h0.8v0.8h-0.8zM209.8,182.4h0.8v0.8h-0.8zM222.1,179.4h0.8v0.8h-0.8zM228.6,181.2h0.8v0.8h-0.8zM212.2,182.3h0.8v0.8h-0.8zM210.2,179.2h0.8v0.8h-0.8zM229.0,181.9h0.8v0.8h-0.8zM217.5,181.9h0.8v0.8h-0.8zM230.9,180.9h0.8v0.8h-0.8zM215.3,182.3h0.8v0.8h-0.8zM212.3,182.3h0.8v0.8h-0.8zM227.5,182.1h0.8v0.8h-0.8zM214.4,177.8h0.8v0.8h-0.8zM213.9,182.3h0.8v0.8h-0.8zM226.0,182.1h0.8v0.8h-0.8zM222.3,182.1h0.8v0.8h-0.8zM214.5,180.8h0.8v0.8h-0.8zM226.6,180.4h0.8v0.8h-0.8zM211.9,179.9h0.8v0.8h-0.8zM219.9,181.6h0.8v0.8h-0.8zM220.8,180.5h0.8v0.8h-0.8zM212.8,179.4h0.8v0.8h-0.8zM225.0,182.1h0.8v0.8h-0.8zM215.0,182.3h0.8v0.8h-0.8zM211.1,178.1h0.8v0.8h-0.8zM226.1,180.7h0.8v0.8h-0.8zM227.1,182.0h0.8v0.8h-0.8zM203.6,178.2h0.8v0.8h-0.8zM211.4,181.4h0.8v0.8h-0.8zM207.1,182.0h0.8v0.8h-0.8zM213.3,177.8h0.8v0.8h-0.8zM219.9,181.6h0.8v0.8h-0.8zM230.5,181.9h0.8v0.8h-0.8zM224.4,182.1h0.8v0.8h-0.8zM206.0,179.0h0.8v0.8h-0.8zM227.3,181.6h0.8v0.8h-0.8zM216.2,181.0h0.8v0.8h-0.8zM211.2,182.3h0.8v0.8h-0.8zM210.3,182.4h0.8v0.8h-0.8zM226.4,182.0h0.8v0.8h-0.8zM219.7,182.1h0.8v0.8h-0.8zM216.3,182.2h0.8v0.8h-0.8zM230.8,180.9h0.8v0.8h-0.8zM207.4,182.3h0.8v0.8h-0.8zM216.5,181.0h0.8v0.8h-0.8zM229.4,178.9h0.8v0.8h-0.8zM227.1,179.4h0.8v0.8h-0.8zM221.4,179.2h0.8v0.8h-0.8zM230.2,181.4h0.8v0.8h-0.8zM226.6,182.0h0.8v0.8h-0.8zM224.9,182.1h0.8v0.8h-0.8zM215.8,177.9h0.8v0.8h-0.8zM208.2,177.4h0.8v0.8h-0.8zM223.6,181.8h0.8v0.8h-0.8zM227.9,182.0h0.8v0.8h-0.8zM207.1,180.5h0.8v0.8h-0.8zM212.8,182.2h0.8v0.8h-0.8zM220.3,182.2h0.8v0.8h-0.8zM208.7,181.5h0.8v0.8h-0.8zM216.7,178.9h0.8v0.8h-0.8zM214.9,179.5h0.8v0.8h-0.8zM224.4,180.2h0.8v0.8h-0.8zM222.7,181.9h0.8v0.8h-0.8zM210.4,182.3h0.8v0.8h-0.8zM219.6,182.2h0.8v0.8h-0.8zM214.2,182.3h0.8v0.8h-0.8zM226.6,182.1h0.8v0.8h-0.8zM222.6,181.3h0.8v0.8h-0.8zM216.4,182.2h0.8v0.8h-0.8zM224.3,179.8h0.8v0.8h-0.8zM212.5,182.3h0.8v0.8h-0.8zM223.9,181.8h0.8v0.8h-0.8zM216.9,179.3h0.8v0.8h-0.8zM225.5,179.1h0.8v0.8h-0.8zM224.5,181.4h0.8v0.8h-0.8zM225.9,181.3h0.8v0.8h-0.8zM204.1,178.6h0.8v0.8h-0.8z" fill="#1a1a1a" opacity="0.4"/>
<path d="M230.0,179.7h0.8v0.8h-0.8zM232.8,181.9h0.8v0.8h-0.8zM210.3,181.0h0.8v0.8h-0.8zM211.1,179.4h0.8v0.8h-0.8zM217.1,182.2h0.8v0.8h-0.8zM226.5,179.5h0.8v0.8h-0.8zM214.1,181.8h0.8v0.8h-0.8zM232.6,181.9h0.8v0.8h-0.8zM223.0,181.7h0.8v0.8h-0.8zM210.7,182.3h0.8v0.8h-0.8zM223.6,180.6h0.8v0.8h-0.8zM211.7,181.3h0.8v0.8h-0.8zM203.4,177.4h0.8v0.8h-0.8zM205.5,178.5h0.8v0.8h-0.8zM229.3,178.3h0.8v0.8h-0.8zM212.2,177.2h0.8v0.8h-0.8zM214.5,181.3h0.8v0.8h-0.8zM216.9,182.0h0.8v0.8h-0.8zM215.1,182.2h0.8v0.8h-0.8zM225.1,180.8h0.8v0.8h-0.8zM207.6,179.3h0.8v0.8h-0.8zM226.7,180.7h0.8v0.8h-0.8zM216.1,180.5h0.8v0.8h-0.8zM208.6,182.4h0.8v0.8h-0.8zM209.6,178.2h0.8v0.8h-0.8zM222.5,181.9h0.8v0.8h-0.8zM210.6,182.3h0.8v0.8h-0.8zM208.4,182.4h0.8v0.8h-0.8zM209.7,182.3h0.8v0.8h-0.8zM206.4,179.5h0.8v0.8h-0.8zM209.2,182.4h0.8v0.8h-0.8zM215.4,177.8h0.8v0.8h-0.8zM209.7,181.8h0.8v0.8h-0.8zM223.4,181.1h0.8v0.8h-0.8zM211.2,178.8h0.8v0.8h-0.8zM205.3,182.0h0.8v0.8h-0.8zM232.5,182.0h0.8v0.8h-0.8zM222.1,179.3h0.8v0.8h-0.8zM227.7,179.3h0.8v0.8h-0.8zM222.8,182.1h0.8v0.8h-0.8zM224.3,181.0h0.8v0.8h-0.8zM230.0,182.0h0.8v0.8h-0.8zM212.0,176.9h0.8v0.8h-0.8zM206.1,177.0h0.8v0.8h-0.8zM232.3,181.8h0.8v0.8h-0.8zM228.2,181.2h0.8v0.8h-0.8zM206.0,178.8h0.8v0.8h-0.8zM227.5,181.8h0.8v0.8h-0.8zM220.0,177.6h0.8v0.8h-0.8zM223.4,182.0h0.8v0.8h-0.8zM224.7,181.8h0.8v0.8h-0.8zM217.3,180.7h0.8v0.8h-0.8zM204.2,182.4h0.8v0.8h-0.8zM215.1,181.1h0.8v0.8h-0.8zM231.7,181.9h0.8v0.8h-0.8zM203.3,177.8h0.8v0.8h-0.8zM226.1,181.1h0.8v0.8h-0.8zM223.0,178.3h0.8v0.8h-0.8zM208.6,182.1h0.8v0.8h-0.8zM227.6,182.1h0.8v0.8h-0.8zM204.0,178.9h0.8v0.8h-0.8zM203.7,178.1h0.8v0.8h-0.8zM228.9,181.5h0.8v0.8h-0.8zM232.2,179.9h0.8v0.8h-0.8zM220.5,182.2h0.8v0.8h-0.8zM223.2,182.1h0.8v0.8h-0.8zM230.0,181.9h0.8v0.8h-0.8zM213.0,181.3h0.8v0.8h-0.8zM227.1,182.0h0.8v0.8h-0.8zM210.4,181.4h0.8v0.8h-0.8zM231.7,182.0h0.8v0.8h-0.8zM207.8,178.4h0.8v0.8h-0.8zM212.8,182.3h0.8v0.8h-0.8zM220.5,182.2h0.8v0.8h-0.8zM205.9,179.2h0.8v0.8h-0.8zM216.3,182.2h0.8v0.8h-0.8zM231.2,182.0h0.8v0.8h-0.8zM229.4,181.7h0.8v0.8h-0.8zM229.5,182.0h0.8v0.8h-0.8zM229.1,180.9h0.8v0.8h-0.8zM231.4,181.6h0.8v0.8h-0.8zM216.4,181.6h0.8v0.8h-0.8zM211.2,181.3h0.8v0.8h-0.8zM215.8,182.3h0.8v0.8h-0.8zM220.4,178.7h0.8v0.8h-0.8zM220.6,181.7h0.8v0.8h-0.8zM210.2,180.7h0.8v0.8h-0.8zM212.9,181.9h0.8v0.8h-0.8zM225.1,182.1h0.8v0.8h-0.8zM218.0,182.0h0.8v0.8h-0.8zM205.3,182.2h0.8v0.8h-0.8zM221.9,182.0h0.8v0.8h-0.8zM232.7,181.9h0.8v0.8h-0.8zM208.4,178.8h0.8v0.8h-0.8zM221.0,180.7h0.8v0.8h-0.8zM203.3,181.8h0.8v0.8h-0.8zM227.6,178.2h0.8v0.8h-0.8zM212.1,179.6h0.8v0.8h-0.8zM213.3,181.4h0.8v0.8h-0.8zM210.5,181.0h0.8v0.8h-0.8zM206.9,180.2h0.8v0.8h-0.8zM208.7,180.7h0.8v0.8h-0.8zM231.1,181.8h0.8v0.8h-0.8zM225.6,182.1h0.8v0.8h-0.8zM228.9,180.7h0.8v0.8h-0.8zM221.3,182.2h0.8v0.8h-0.8zM218.9,182.1h0.8v0.8h-0.8zM215.2,182.3h0.8v0.8h-0.8zM208.2,179.2h0.8v0.8h-0.8zM227.2,182.0h0.8v0.8h-0.8zM207.2,180.2h0.8v0.8h-0.8zM220.7,181.5h0.8v0.8h-0.8zM220.2,182.2h0.8v0.8h-0.8zM219.9,181.9h0.8v0.8h-0.8zM212.7,182.3h0.8v0.8h-0.8zM216.5,179.1h0.8v0.8h-0.8zM206.4,180.9h0.8v0.8h-0.8zM230.6,178.7h0.8v0.8h-0.8zM225.1,182.1h0.8v0.8h-0.8zM205.9,180.9h0.8v0.8h-0.8zM220.3,182.0h0.8v0.8h-0.8zM230.5,180.7h0.8v0.8h-0.8zM215.1,181.6h0.8v0.8h-0.8zM203.0,179.8h0.8v0.8h-0.8zM209.3,178.7h0.8v0.8h-0.8zM229.1,182.0h0.8v0.8h-0.8zM218.5,181.6h0.8v0.8h-0.8zM218.2,182.2h0.8v0.8h-0.8zM218.9,181.0h0.8v0.8h-0.8zM229.4,181.9h0.8v0.8h-0.8zM222.6,178.5h0.8v0.8h-0.8zM223.9,180.8h0.8v0.8h-0.8zM219.7,181.3h0.8v0.8h-0.8z" fill="#1a1a1a" opacity="0.25"/>
<path d="M230.7,189.8h0.7v0.7h-0.7zM203.7,190.1h0.7v0.7h-0.7zM226.2,190.0h0.7v0.7h-0.7zM219.0,191.8h0.7v0.7h-0.7zM208.0,191.0h0.7v0.7h-0.7zM229.8,191.8h0.7v0.7h-0.7zM215.1,190.9h0.7v0.7h-0.7zM211.5,192.3h0.7v0.7h-0.7zM226.3,191.6h0.7v0.7h-0.7zM212.3,191.7h0.7v0.7h-0.7zM217.7,191.9h0.7v0.7h-0.7zM214.1,192.1h0.7v0.7h-0.7zM223.5,190.9h0.7v0.7h-0.7zM219.9,191.9h0.7v0.7h-0.7zM218.9,192.4h0.7v0.7h-0.7zM203.6,192.1h0.7v0.7h-0.7zM224.3,191.0h0.7v0.7h-0.7zM228.3,190.0h0.7v0.7h-0.7zM213.3,191.6h0.7v0.7h-0.7zM227.5,190.7h0.7v0.7h-0.7zM232.5,191.6h0.7v0.7h-0.7zM204.7,189.8h0.7v0.7h-0.7zM205.6,191.1h0.7v0.7h-0.7zM212.8,190.3h0.7v0.7h-0.7zM216.5,189.7h0.7v0.7h-0.7zM230.0,192.1h0.7v0.7h-0.7zM219.8,190.9h0.7v0.7h-0.7zM212.4,191.3h0.7v0.7h-0.7zM213.6,192.4h0.7v0.7h-0.7zM231.4,191.8h0.7v0.7h-0.7zM227.6,189.8h0.7v0.7h-0.7zM207.0,190.5h0.7v0.7h-0.7zM207.1,190.7h0.7v0.7h-0.7zM232.3,192.1h0.7v0.7h-0.7zM231.5,190.3h0.7v0.7h-0.7zM209.9,189.5h0.7v0.7h-0.7zM211.4,189.6h0.7v0.7h-0.7zM218.9,190.4h0.7v0.7h-0.7zM223.1,191.2h0.7v0.7h-0.7zM220.9,190.4h0.7v0.7h-0.7zM224.9,191.6h0.7v0.7h-0.7zM224.3,191.0h0.7v0.7h-0.7zM217.0,190.4h0.7v0.7h-0.7zM204.6,190.8h0.7v0.7h-0.7zM221.5,190.1h0.7v0.7h-0.7zM228.6,192.2h0.7v0.7h-0.7zM228.4,192.0h0.7v0.7h-0.7zM217.7,190.0h0.7v0.7h-0.7zM211.3,191.7h0.7v0.7h-0.7zM232.2,189.9h0.7v0.7h-0.7z" fill="#333" opacity="0.45"/>
<path d="M202.4,182.2 L203.1,181.6 L203.8,181.6 L204.5,181.1 L205.2,182.0 L205.9,180.7 L206.6,181.6 L207.3,180.6 L208.0,181.5 L208.7,181.6 L209.4,181.8 L210.1,180.4 L210.8,181.0 L211.5,180.6 L212.2,181.9 L212.9,181.1 L213.6,180.8 L214.3,180.3 L215.0,180.4 L215.7,181.8 L216.4,181.3 L217.1,180.2 L217.8,181.0 L218.5,180.3 L219.2,181.5 L219.9,181.8 L220.6,180.3 L221.3,181.4 L222.0,180.9 L222.7,181.2 L223.4,180.8 L224.1,180.2 L224.8,180.2 L225.5,180.3 L226.2,181.3 L226.9,180.4 L227.6,181.7 L228.3,181.0 L229.0,180.1 L229.7,181.3 L230.4,181.1 L230.4,189.7 L229.7,189.6 L229.0,190.1 L228.3,190.3 L227.6,190.1 L226.9,189.8 L226.2,190.1 L225.5,190.7 L224.8,189.7 L224.1,190.2 L223.4,190.2 L222.7,189.6 L222.0,190.6 L221.3,189.8 L220.6,190.5 L219.9,190.2 L219.2,190.0 L218.5,190.5 L217.8,190.3 L217.1,190.4 L216.4,190.7 L215.7,190.1 L215.0,189.8 L214.3,190.1 L213.6,190.6 L212.9,190.6 L212.2,190.4 L211.5,190.0 L210.8,190.4 L210.1,190.7 L209.4,189.5 L208.7,189.6 L208.0,189.9 L207.3,190.3 L206.6,189.5 L205.9,190.5 L205.2,189.5 L204.5,190.2 L203.8,190.3 L203.1,189.7 L202.4,190.1 Z" fill="#222" opacity="0.55"/>
<path d="M202.4,182.7 L203.1,181.8 L203.8,182.0 L204.5,182.8 L205.2,182.8 L205.9,182.9 L206.6,181.8 L207.3,181.5 L208.0,182.6 L208.7,182.4 L209.4,182.0 L210.1,181.5 L210.8,182.1 L211.5,181.8 L212.2,182.3 L212.9,182.9 L213.6,181.7 L214.3,181.5 L215.0,182.4 L215.7,181.5 L216.4,181.7 L217.1,182.0 L217.8,182.8 L218.5,181.8 L219.2,181.8 L219.9,182.0 L220.6,181.5 L221.3,181.9 L222.0,182.3 L222.7,181.7 L223.4,182.4 L224.1,181.5 L224.8,181.4 L225.5,182.1 L226.2,181.9 L226.9,182.5 L227.6,181.3 L228.3,182.3 L229.0,182.1 L229.7,181.7 L230.4,181.3 L230.4,189.7 L229.7,189.0 L229.0,189.5 L228.3,189.0 L227.6,189.1 L226.9,189.0 L226.2,189.8 L225.5,190.2 L224.8,189.8 L224.1,189.9 L223.4,189.6 L222.7,189.3 L222.0,189.0 L221.3,190.2 L220.6,189.4 L219.9,189.2 L219.2,190.0 L218.5,189.8 L217.8,189.5 L217.1,190.1 L216.4,189.4 L215.7,190.2 L215.0,189.8 L214.3,189.2 L213.6,189.8 L212.9,189.7 L212.2,189.2 L211.5,189.3 L210.8,189.6 L210.1,190.1 L209.4,190.0 L208.7,189.6 L208.0,189.4 L207.3,189.1 L206.6,189.4 L205.9,189.6 L205.2,189.7 L204.5,189.4 L203.8,189.4 L203.1,189.8 L202.4,189.6 Z" fill="#150c15"/>
<defs><linearGradient id="mg4" x1="0" x2="1" y1="0" y2="0"><stop offset="0" stop-color="#3a1038"/><stop offset="0.2" stop-color="#962a8a"/><stop offset="0.7" stop-color="#b0349e"/><stop offset="1" stop-color="#7a3ab0"/></linearGradient></defs>
<path d="M204.2,184.0 L205.2,183.6 L206.2,184.1 L207.2,183.7 L208.2,184.2 L209.2,183.7 L210.2,183.9 L211.2,183.8 L212.2,183.5 L213.2,183.9 L214.2,183.3 L215.2,183.5 L216.2,183.5 L217.2,183.9 L218.2,183.6 L219.2,183.2 L220.2,183.4 L221.2,183.7 L222.2,183.8 L223.2,183.2 L224.2,183.7 L225.2,183.4 L226.2,183.5 L227.2,183.4 L227.7,183.4 L227.7,188.5 L227.2,188.0 L226.2,188.2 L225.2,187.9 L224.2,188.5 L223.2,188.6 L222.2,188.6 L221.2,187.9 L220.2,188.1 L219.2,188.1 L218.2,187.8 L217.2,188.2 L216.2,188.5 L215.2,188.0 L214.2,188.0 L213.2,188.3 L212.2,188.3 L211.2,188.4 L210.2,187.8 L209.2,187.9 L208.2,188.3 L207.2,188.3 L206.2,188.5 L205.2,188.5 L204.2,188.5 Z" fill="url(#mg4)"/>
<path d="M223.2,187.3h0.7v0.7h-0.7zM222.8,184.1h0.7v0.7h-0.7zM204.5,184.3h0.7v0.7h-0.7zM224.0,187.4h0.7v0.7h-0.7zM216.3,184.7h0.7v0.7h-0.7zM224.3,184.1h0.7v0.7h-0.7zM211.8,183.7h0.7v0.7h-0.7zM227.3,185.5h0.7v0.7h-0.7zM222.3,187.3h0.7v0.7h-0.7zM217.9,188.1h0.7v0.7h-0.7zM222.4,187.9h0.7v0.7h-0.7zM226.8,183.9h0.7v0.7h-0.7zM221.8,184.6h0.7v0.7h-0.7zM211.8,185.2h0.7v0.7h-0.7zM227.4,183.7h0.7v0.7h-0.7zM214.4,184.3h0.7v0.7h-0.7zM227.6,185.8h0.7v0.7h-0.7zM220.7,186.0h0.7v0.7h-0.7zM222.2,185.1h0.7v0.7h-0.7zM213.9,187.0h0.7v0.7h-0.7zM220.7,187.7h0.7v0.7h-0.7zM211.5,187.5h0.7v0.7h-0.7zM221.5,186.2h0.7v0.7h-0.7zM213.8,186.2h0.7v0.7h-0.7zM206.0,184.3h0.7v0.7h-0.7zM211.5,184.3h0.7v0.7h-0.7zM205.3,186.9h0.7v0.7h-0.7zM221.4,186.4h0.7v0.7h-0.7zM209.0,186.9h0.7v0.7h-0.7zM223.6,186.5h0.7v0.7h-0.7zM209.5,186.2h0.7v0.7h-0.7zM213.5,184.9h0.7v0.7h-0.7zM207.7,187.6h0.7v0.7h-0.7zM219.1,187.9h0.7v0.7h-0.7zM208.2,184.9h0.7v0.7h-0.7zM216.2,183.9h0.7v0.7h-0.7zM211.3,186.1h0.7v0.7h-0.7zM215.5,187.8h0.7v0.7h-0.7zM217.8,186.5h0.7v0.7h-0.7zM218.0,187.2h0.7v0.7h-0.7z" fill="#2a0a2a" opacity="0.5"/>
<circle cx="230.70" cy="185.80" r="5.40" fill="#2a0c2e"/>
<circle cx="230.70" cy="185.80" r="4.50" fill="#4060d4"/>
<circle cx="230.90" cy="185.80" r="3.90" fill="#24acc8"/>
<circle cx="231.00" cy="185.80" r="3.30" fill="#34a044"/>
<circle cx="231.30" cy="185.80" r="1.60" fill="#c08020"/>
<rect x="296.20" y="132.00" width="88.10" height="78.80" fill="none" stroke="#1a1a1a" stroke-width="1"/>
<line x1="294.20" y1="132.30" x2="296.20" y2="132.30" stroke="#333" stroke-width="0.6" />
<text x="292.00" y="134.66" font-size="6.6" text-anchor="end" fill="#222" stroke="#222" stroke-width="0.2" >10<tspan font-size="4" dy="-2.3">6</tspan></text>
<line x1="294.20" y1="146.37" x2="296.20" y2="146.37" stroke="#333" stroke-width="0.6" />
<text x="292.00" y="148.74" font-size="6.6" text-anchor="end" fill="#222" stroke="#222" stroke-width="0.2" >10<tspan font-size="4" dy="-2.3">5</tspan></text>
<line x1="294.20" y1="161.54" x2="296.20" y2="161.54" stroke="#333" stroke-width="0.6" />
<text x="292.00" y="163.90" font-size="6.6" text-anchor="end" fill="#222" stroke="#222" stroke-width="0.2" >10<tspan font-size="4" dy="-2.3">4</tspan></text>
<line x1="294.20" y1="176.80" x2="296.20" y2="176.80" stroke="#333" stroke-width="0.6" />
<text x="292.00" y="179.16" font-size="6.6" text-anchor="end" fill="#222" stroke="#222" stroke-width="0.2" >2000</text>
<line x1="294.20" y1="190.78" x2="296.20" y2="190.78" stroke="#333" stroke-width="0.6" />
<text x="292.00" y="193.14" font-size="6.6" text-anchor="end" fill="#222" stroke="#222" stroke-width="0.2" >0</text>
<line x1="294.20" y1="203.47" x2="296.20" y2="203.47" stroke="#333" stroke-width="0.6" />
<text x="292.00" y="205.83" font-size="6.6" text-anchor="end" fill="#222" stroke="#222" stroke-width="0.2" >−2000</text>
<line x1="295.00" y1="139.43" x2="296.20" y2="139.43" stroke="#555" stroke-width="0.5" />
<line x1="295.00" y1="153.81" x2="296.20" y2="153.81" stroke="#555" stroke-width="0.5" />
<line x1="295.00" y1="169.17" x2="296.20" y2="169.17" stroke="#555" stroke-width="0.5" />
<line x1="295.00" y1="183.54" x2="296.20" y2="183.54" stroke="#555" stroke-width="0.5" />
<line x1="295.00" y1="197.42" x2="296.20" y2="197.42" stroke="#555" stroke-width="0.5" />
<line x1="298.71" y1="210.80" x2="298.71" y2="212.80" stroke="#333" stroke-width="0.6" />
<text x="298.71" y="220.56" font-size="6.6" text-anchor="middle" fill="#222" stroke="#222" stroke-width="0.2" >−4000</text>
<line x1="319.63" y1="210.80" x2="319.63" y2="212.80" stroke="#333" stroke-width="0.6" />
<text x="319.63" y="220.56" font-size="6.6" text-anchor="middle" fill="#222" stroke="#222" stroke-width="0.2" >0</text>
<line x1="332.00" y1="210.80" x2="332.00" y2="212.80" stroke="#333" stroke-width="0.6" />
<text x="332.00" y="220.56" font-size="6.6" text-anchor="middle" fill="#222" stroke="#222" stroke-width="0.2" >2000</text>
<line x1="351.31" y1="210.80" x2="351.31" y2="212.80" stroke="#333" stroke-width="0.6" />
<text x="351.31" y="220.56" font-size="6.6" text-anchor="middle" fill="#222" stroke="#222" stroke-width="0.2" >10<tspan font-size="4" dy="-2.3">4</tspan></text>
<line x1="369.11" y1="210.80" x2="369.11" y2="212.80" stroke="#333" stroke-width="0.6" />
<text x="369.11" y="220.56" font-size="6.6" text-anchor="middle" fill="#222" stroke="#222" stroke-width="0.2" >10<tspan font-size="4" dy="-2.3">5</tspan></text>
<line x1="384.70" y1="210.80" x2="384.70" y2="212.80" stroke="#333" stroke-width="0.6" />
<text x="384.70" y="220.56" font-size="6.6" text-anchor="middle" fill="#222" stroke="#222" stroke-width="0.2" >10<tspan font-size="4" dy="-2.3">6</tspan></text>
<line x1="309.27" y1="210.80" x2="309.27" y2="212.00" stroke="#555" stroke-width="0.5" />
<line x1="341.46" y1="210.80" x2="341.46" y2="212.00" stroke="#555" stroke-width="0.5" />
<line x1="360.57" y1="210.80" x2="360.57" y2="212.00" stroke="#555" stroke-width="0.5" />
<text x="340.50" y="121.48" font-size="6.1" text-anchor="middle" fill="#222" stroke="#222" stroke-width="0.2" >canonical Pep13</text>
<text x="340.50" y="129.08" font-size="6.1" text-anchor="middle" fill="#222" stroke="#222" stroke-width="0.2" >(HLA-B*15, ALKENTTVTF)</text>
<rect x="328.30" y="141.30" width="42.10" height="23.10" fill="none" stroke="#333" stroke-width="0.8"/>
<text x="371.30" y="140.42" font-size="6.2" text-anchor="end" fill="#222" stroke="#222" stroke-width="0.2" >0.07 %</text>
<path d="M355.6,175.9h0.8v0.8h-0.8zM340.8,177.2h0.8v0.8h-0.8zM335.4,171.7h0.8v0.8h-0.8zM334.3,177.4h0.8v0.8h-0.8zM356.6,175.6h0.8v0.8h-0.8zM346.4,176.3h0.8v0.8h-0.8zM336.7,176.5h0.8v0.8h-0.8zM345.2,177.1h0.8v0.8h-0.8zM343.1,176.6h0.8v0.8h-0.8zM362.5,175.9h0.8v0.8h-0.8zM349.5,175.5h0.8v0.8h-0.8zM357.3,176.7h0.8v0.8h-0.8zM340.2,177.1h0.8v0.8h-0.8zM348.8,175.3h0.8v0.8h-0.8zM362.1,175.1h0.8v0.8h-0.8zM342.1,171.6h0.8v0.8h-0.8zM361.2,170.7h0.8v0.8h-0.8zM341.2,174.3h0.8v0.8h-0.8zM360.2,176.0h0.8v0.8h-0.8zM363.4,176.5h0.8v0.8h-0.8zM340.3,177.3h0.8v0.8h-0.8zM354.2,176.8h0.8v0.8h-0.8zM343.6,177.0h0.8v0.8h-0.8zM362.6,172.5h0.8v0.8h-0.8zM333.6,177.5h0.8v0.8h-0.8zM341.4,177.1h0.8v0.8h-0.8zM350.4,175.3h0.8v0.8h-0.8zM356.6,175.7h0.8v0.8h-0.8zM336.5,177.3h0.8v0.8h-0.8zM335.6,176.7h0.8v0.8h-0.8zM360.9,176.6h0.8v0.8h-0.8zM342.8,175.7h0.8v0.8h-0.8zM338.3,176.9h0.8v0.8h-0.8zM353.9,175.4h0.8v0.8h-0.8zM337.0,176.3h0.8v0.8h-0.8zM351.4,174.9h0.8v0.8h-0.8zM334.6,176.7h0.8v0.8h-0.8zM351.6,176.9h0.8v0.8h-0.8zM339.3,173.1h0.8v0.8h-0.8zM360.6,173.6h0.8v0.8h-0.8zM361.6,175.7h0.8v0.8h-0.8zM359.6,173.6h0.8v0.8h-0.8zM348.3,176.6h0.8v0.8h-0.8zM358.7,173.3h0.8v0.8h-0.8zM341.8,176.2h0.8v0.8h-0.8zM336.5,177.2h0.8v0.8h-0.8zM362.1,172.6h0.8v0.8h-0.8zM339.8,173.8h0.8v0.8h-0.8zM348.5,170.5h0.8v0.8h-0.8zM339.4,175.4h0.8v0.8h-0.8zM347.9,175.9h0.8v0.8h-0.8zM335.3,177.1h0.8v0.8h-0.8zM363.5,176.4h0.8v0.8h-0.8zM357.5,176.1h0.8v0.8h-0.8zM345.7,172.0h0.8v0.8h-0.8zM357.5,172.7h0.8v0.8h-0.8zM339.9,176.1h0.8v0.8h-0.8zM361.9,176.2h0.8v0.8h-0.8zM334.1,172.8h0.8v0.8h-0.8zM358.3,174.8h0.8v0.8h-0.8zM350.1,176.7h0.8v0.8h-0.8zM361.7,176.1h0.8v0.8h-0.8zM346.1,176.1h0.8v0.8h-0.8zM334.2,177.4h0.8v0.8h-0.8zM345.2,176.2h0.8v0.8h-0.8zM341.3,172.0h0.8v0.8h-0.8zM362.0,176.3h0.8v0.8h-0.8zM347.4,176.5h0.8v0.8h-0.8zM356.9,176.1h0.8v0.8h-0.8zM349.8,176.6h0.8v0.8h-0.8zM344.2,171.7h0.8v0.8h-0.8zM358.6,176.7h0.8v0.8h-0.8zM362.9,173.6h0.8v0.8h-0.8zM339.5,177.3h0.8v0.8h-0.8zM338.3,174.2h0.8v0.8h-0.8zM346.8,177.0h0.8v0.8h-0.8zM343.5,177.2h0.8v0.8h-0.8zM337.7,177.1h0.8v0.8h-0.8zM348.9,175.7h0.8v0.8h-0.8zM360.3,176.3h0.8v0.8h-0.8zM355.6,176.6h0.8v0.8h-0.8zM362.6,174.0h0.8v0.8h-0.8zM358.9,174.4h0.8v0.8h-0.8zM348.8,175.6h0.8v0.8h-0.8zM339.7,176.5h0.8v0.8h-0.8zM353.9,176.8h0.8v0.8h-0.8zM355.2,176.2h0.8v0.8h-0.8zM356.1,174.3h0.8v0.8h-0.8zM355.3,176.8h0.8v0.8h-0.8zM361.0,176.6h0.8v0.8h-0.8zM356.1,175.4h0.8v0.8h-0.8zM359.1,170.9h0.8v0.8h-0.8zM339.0,170.6h0.8v0.8h-0.8zM352.6,175.7h0.8v0.8h-0.8zM363.3,176.3h0.8v0.8h-0.8zM358.8,176.6h0.8v0.8h-0.8zM358.2,175.7h0.8v0.8h-0.8zM337.6,174.8h0.8v0.8h-0.8zM340.1,171.9h0.8v0.8h-0.8zM339.8,176.2h0.8v0.8h-0.8zM359.9,175.7h0.8v0.8h-0.8zM338.8,176.9h0.8v0.8h-0.8zM340.3,177.0h0.8v0.8h-0.8zM337.9,171.0h0.8v0.8h-0.8zM338.9,177.2h0.8v0.8h-0.8zM339.2,177.3h0.8v0.8h-0.8zM357.5,176.4h0.8v0.8h-0.8zM344.8,174.8h0.8v0.8h-0.8zM338.1,174.5h0.8v0.8h-0.8z" fill="#1a1a1a" opacity="0.75"/>
<path d="M344.5,177.1h0.8v0.8h-0.8zM335.7,170.5h0.8v0.8h-0.8zM358.9,176.6h0.8v0.8h-0.8zM354.1,172.7h0.8v0.8h-0.8zM339.0,176.1h0.8v0.8h-0.8zM349.4,174.9h0.8v0.8h-0.8zM335.8,174.0h0.8v0.8h-0.8zM350.7,174.8h0.8v0.8h-0.8zM357.4,176.7h0.8v0.8h-0.8zM359.4,176.6h0.8v0.8h-0.8zM349.2,172.8h0.8v0.8h-0.8zM348.3,171.2h0.8v0.8h-0.8zM353.2,176.8h0.8v0.8h-0.8zM350.5,175.6h0.8v0.8h-0.8zM362.6,173.7h0.8v0.8h-0.8zM338.4,176.8h0.8v0.8h-0.8zM340.2,177.0h0.8v0.8h-0.8zM352.8,175.4h0.8v0.8h-0.8zM343.5,177.2h0.8v0.8h-0.8zM339.6,176.2h0.8v0.8h-0.8zM355.8,175.6h0.8v0.8h-0.8zM337.3,173.2h0.8v0.8h-0.8zM350.7,172.6h0.8v0.8h-0.8zM336.7,177.2h0.8v0.8h-0.8zM341.0,175.3h0.8v0.8h-0.8zM337.5,177.4h0.8v0.8h-0.8zM340.4,177.1h0.8v0.8h-0.8zM337.7,176.3h0.8v0.8h-0.8zM336.4,174.8h0.8v0.8h-0.8zM337.1,177.3h0.8v0.8h-0.8zM362.2,176.6h0.8v0.8h-0.8zM336.3,177.1h0.8v0.8h-0.8zM344.2,171.1h0.8v0.8h-0.8zM363.1,174.8h0.8v0.8h-0.8zM341.2,176.2h0.8v0.8h-0.8zM345.1,173.3h0.8v0.8h-0.8zM360.6,171.4h0.8v0.8h-0.8zM345.3,176.8h0.8v0.8h-0.8zM344.2,177.0h0.8v0.8h-0.8zM353.9,176.8h0.8v0.8h-0.8zM339.0,177.0h0.8v0.8h-0.8zM360.5,174.2h0.8v0.8h-0.8zM343.1,172.0h0.8v0.8h-0.8zM361.1,176.4h0.8v0.8h-0.8zM336.7,177.4h0.8v0.8h-0.8zM348.0,174.9h0.8v0.8h-0.8zM346.7,177.0h0.8v0.8h-0.8zM342.3,173.4h0.8v0.8h-0.8zM335.6,177.0h0.8v0.8h-0.8zM355.1,175.3h0.8v0.8h-0.8zM335.6,171.3h0.8v0.8h-0.8zM343.1,176.1h0.8v0.8h-0.8zM355.0,175.6h0.8v0.8h-0.8zM344.5,177.1h0.8v0.8h-0.8zM362.1,176.5h0.8v0.8h-0.8zM356.9,171.7h0.8v0.8h-0.8zM352.6,176.6h0.8v0.8h-0.8zM337.9,177.3h0.8v0.8h-0.8zM360.1,173.8h0.8v0.8h-0.8zM360.7,176.5h0.8v0.8h-0.8zM362.4,172.3h0.8v0.8h-0.8zM358.6,176.7h0.8v0.8h-0.8zM358.4,176.6h0.8v0.8h-0.8zM338.2,171.6h0.8v0.8h-0.8zM344.8,176.1h0.8v0.8h-0.8zM357.6,176.6h0.8v0.8h-0.8zM361.4,176.6h0.8v0.8h-0.8zM349.7,176.9h0.8v0.8h-0.8zM363.2,174.6h0.8v0.8h-0.8zM359.6,170.7h0.8v0.8h-0.8zM358.6,175.9h0.8v0.8h-0.8zM340.1,174.7h0.8v0.8h-0.8zM360.3,173.0h0.8v0.8h-0.8zM353.1,175.7h0.8v0.8h-0.8zM351.7,175.8h0.8v0.8h-0.8zM336.1,172.5h0.8v0.8h-0.8zM351.8,175.8h0.8v0.8h-0.8zM344.4,176.3h0.8v0.8h-0.8zM347.9,172.7h0.8v0.8h-0.8zM339.7,175.6h0.8v0.8h-0.8zM345.3,176.5h0.8v0.8h-0.8zM342.1,176.0h0.8v0.8h-0.8zM339.7,177.3h0.8v0.8h-0.8zM339.1,170.4h0.8v0.8h-0.8zM342.8,174.2h0.8v0.8h-0.8zM360.8,175.1h0.8v0.8h-0.8zM345.9,177.1h0.8v0.8h-0.8zM341.4,177.2h0.8v0.8h-0.8zM338.6,173.1h0.8v0.8h-0.8zM360.9,175.4h0.8v0.8h-0.8zM338.6,171.9h0.8v0.8h-0.8zM350.4,175.9h0.8v0.8h-0.8zM340.0,177.3h0.8v0.8h-0.8zM335.7,173.4h0.8v0.8h-0.8zM340.9,173.6h0.8v0.8h-0.8zM352.0,175.9h0.8v0.8h-0.8zM362.1,175.7h0.8v0.8h-0.8zM342.1,176.5h0.8v0.8h-0.8zM358.2,176.6h0.8v0.8h-0.8zM350.4,176.9h0.8v0.8h-0.8zM342.0,177.0h0.8v0.8h-0.8zM351.5,172.9h0.8v0.8h-0.8zM351.4,176.0h0.8v0.8h-0.8zM351.0,176.3h0.8v0.8h-0.8zM340.4,176.4h0.8v0.8h-0.8zM345.1,170.6h0.8v0.8h-0.8zM335.3,172.4h0.8v0.8h-0.8zM341.8,176.1h0.8v0.8h-0.8zM347.2,176.6h0.8v0.8h-0.8zM345.8,176.9h0.8v0.8h-0.8zM348.2,176.8h0.8v0.8h-0.8zM335.2,177.1h0.8v0.8h-0.8zM343.3,177.2h0.8v0.8h-0.8zM359.5,174.9h0.8v0.8h-0.8zM352.1,175.0h0.8v0.8h-0.8zM355.9,173.2h0.8v0.8h-0.8zM359.0,174.1h0.8v0.8h-0.8zM342.1,170.9h0.8v0.8h-0.8zM334.6,176.1h0.8v0.8h-0.8zM348.7,173.9h0.8v0.8h-0.8zM351.2,174.2h0.8v0.8h-0.8z" fill="#1a1a1a" opacity="0.55"/>
<path d="M358.1,175.9h0.8v0.8h-0.8zM345.9,176.7h0.8v0.8h-0.8zM337.9,176.3h0.8v0.8h-0.8zM350.3,176.9h0.8v0.8h-0.8zM358.6,172.5h0.8v0.8h-0.8zM347.6,174.6h0.8v0.8h-0.8zM348.2,176.4h0.8v0.8h-0.8zM338.4,173.2h0.8v0.8h-0.8zM360.0,176.0h0.8v0.8h-0.8zM347.8,176.8h0.8v0.8h-0.8zM352.3,176.9h0.8v0.8h-0.8zM341.9,176.8h0.8v0.8h-0.8zM338.0,171.0h0.8v0.8h-0.8zM352.8,176.7h0.8v0.8h-0.8zM348.7,174.7h0.8v0.8h-0.8zM335.9,172.6h0.8v0.8h-0.8zM355.0,175.7h0.8v0.8h-0.8zM357.1,176.7h0.8v0.8h-0.8zM353.1,173.7h0.8v0.8h-0.8zM358.6,176.7h0.8v0.8h-0.8zM335.9,177.4h0.8v0.8h-0.8zM333.9,177.4h0.8v0.8h-0.8zM344.2,177.0h0.8v0.8h-0.8zM334.3,172.5h0.8v0.8h-0.8zM343.6,176.5h0.8v0.8h-0.8zM347.6,176.0h0.8v0.8h-0.8zM343.7,177.1h0.8v0.8h-0.8zM359.8,176.6h0.8v0.8h-0.8zM348.3,176.7h0.8v0.8h-0.8zM354.8,176.1h0.8v0.8h-0.8zM338.3,177.1h0.8v0.8h-0.8zM353.2,176.8h0.8v0.8h-0.8zM347.9,177.0h0.8v0.8h-0.8zM335.7,176.6h0.8v0.8h-0.8zM353.8,176.4h0.8v0.8h-0.8zM363.4,171.9h0.8v0.8h-0.8zM338.2,172.9h0.8v0.8h-0.8zM351.6,174.1h0.8v0.8h-0.8zM341.1,176.7h0.8v0.8h-0.8zM350.2,173.9h0.8v0.8h-0.8zM349.5,176.0h0.8v0.8h-0.8zM343.7,171.5h0.8v0.8h-0.8zM362.2,173.7h0.8v0.8h-0.8zM345.2,176.5h0.8v0.8h-0.8zM349.3,172.6h0.8v0.8h-0.8zM348.3,176.9h0.8v0.8h-0.8zM337.4,172.7h0.8v0.8h-0.8zM358.3,173.4h0.8v0.8h-0.8zM359.3,173.5h0.8v0.8h-0.8zM362.8,175.4h0.8v0.8h-0.8zM355.1,176.8h0.8v0.8h-0.8zM358.5,176.0h0.8v0.8h-0.8zM336.2,174.0h0.8v0.8h-0.8zM342.8,170.5h0.8v0.8h-0.8zM354.1,175.9h0.8v0.8h-0.8zM339.3,176.9h0.8v0.8h-0.8zM350.7,172.4h0.8v0.8h-0.8zM344.3,176.1h0.8v0.8h-0.8zM345.1,174.5h0.8v0.8h-0.8zM354.9,171.2h0.8v0.8h-0.8zM347.6,177.0h0.8v0.8h-0.8zM357.2,176.7h0.8v0.8h-0.8zM356.6,176.7h0.8v0.8h-0.8zM349.0,177.0h0.8v0.8h-0.8zM361.0,176.3h0.8v0.8h-0.8zM335.4,176.8h0.8v0.8h-0.8zM333.8,174.6h0.8v0.8h-0.8zM354.4,176.7h0.8v0.8h-0.8zM336.0,176.6h0.8v0.8h-0.8zM356.5,175.4h0.8v0.8h-0.8zM336.1,173.0h0.8v0.8h-0.8zM351.3,171.2h0.8v0.8h-0.8zM338.0,173.4h0.8v0.8h-0.8zM363.3,176.5h0.8v0.8h-0.8zM360.0,176.6h0.8v0.8h-0.8zM347.5,172.1h0.8v0.8h-0.8zM344.7,176.4h0.8v0.8h-0.8zM350.9,174.6h0.8v0.8h-0.8zM337.0,175.1h0.8v0.8h-0.8zM360.2,176.6h0.8v0.8h-0.8zM352.0,176.4h0.8v0.8h-0.8zM342.1,176.8h0.8v0.8h-0.8zM361.1,176.6h0.8v0.8h-0.8zM334.0,173.0h0.8v0.8h-0.8zM335.9,177.4h0.8v0.8h-0.8zM351.2,176.0h0.8v0.8h-0.8zM353.9,176.8h0.8v0.8h-0.8zM355.5,176.4h0.8v0.8h-0.8zM349.2,177.0h0.8v0.8h-0.8zM360.3,171.7h0.8v0.8h-0.8zM356.1,172.3h0.8v0.8h-0.8zM350.0,177.0h0.8v0.8h-0.8zM353.5,176.8h0.8v0.8h-0.8zM336.5,173.8h0.8v0.8h-0.8z" fill="#1a1a1a" opacity="0.4"/>
<path d="M333.7,177.3h0.8v0.8h-0.8zM353.0,176.9h0.8v0.8h-0.8zM347.2,177.0h0.8v0.8h-0.8zM360.2,176.6h0.8v0.8h-0.8zM352.4,175.2h0.8v0.8h-0.8zM346.8,177.0h0.8v0.8h-0.8zM341.8,177.1h0.8v0.8h-0.8zM341.1,176.7h0.8v0.8h-0.8zM336.7,177.0h0.8v0.8h-0.8zM349.4,176.7h0.8v0.8h-0.8zM355.2,170.6h0.8v0.8h-0.8zM357.5,176.6h0.8v0.8h-0.8zM354.4,176.8h0.8v0.8h-0.8zM344.2,177.1h0.8v0.8h-0.8zM360.5,176.4h0.8v0.8h-0.8zM340.2,177.1h0.8v0.8h-0.8zM347.6,172.6h0.8v0.8h-0.8zM344.2,173.3h0.8v0.8h-0.8zM341.2,177.2h0.8v0.8h-0.8zM352.8,175.2h0.8v0.8h-0.8zM342.9,176.9h0.8v0.8h-0.8zM362.1,176.1h0.8v0.8h-0.8zM336.3,174.3h0.8v0.8h-0.8zM349.7,177.0h0.8v0.8h-0.8zM352.3,173.4h0.8v0.8h-0.8zM362.2,176.4h0.8v0.8h-0.8zM338.9,177.2h0.8v0.8h-0.8zM355.5,176.4h0.8v0.8h-0.8zM344.6,176.5h0.8v0.8h-0.8zM335.1,173.1h0.8v0.8h-0.8zM342.9,175.6h0.8v0.8h-0.8zM342.6,175.2h0.8v0.8h-0.8zM361.2,175.4h0.8v0.8h-0.8zM334.4,177.5h0.8v0.8h-0.8zM336.1,177.4h0.8v0.8h-0.8zM336.1,177.4h0.8v0.8h-0.8zM341.6,171.1h0.8v0.8h-0.8zM333.7,177.5h0.8v0.8h-0.8zM357.1,175.3h0.8v0.8h-0.8zM363.5,171.2h0.8v0.8h-0.8zM342.3,177.2h0.8v0.8h-0.8zM348.2,175.8h0.8v0.8h-0.8zM359.5,176.6h0.8v0.8h-0.8zM350.9,176.9h0.8v0.8h-0.8zM352.4,176.2h0.8v0.8h-0.8zM358.1,175.5h0.8v0.8h-0.8zM348.6,177.0h0.8v0.8h-0.8zM346.6,176.5h0.8v0.8h-0.8zM338.9,171.5h0.8v0.8h-0.8zM341.9,175.0h0.8v0.8h-0.8zM347.2,175.8h0.8v0.8h-0.8zM346.2,176.9h0.8v0.8h-0.8zM336.0,177.4h0.8v0.8h-0.8zM346.4,175.4h0.8v0.8h-0.8zM355.7,172.7h0.8v0.8h-0.8zM352.0,175.2h0.8v0.8h-0.8zM337.6,175.8h0.8v0.8h-0.8zM341.7,177.2h0.8v0.8h-0.8zM334.5,177.4h0.8v0.8h-0.8zM334.8,171.5h0.8v0.8h-0.8zM363.2,175.6h0.8v0.8h-0.8zM333.9,171.2h0.8v0.8h-0.8zM337.2,173.7h0.8v0.8h-0.8zM353.9,172.9h0.8v0.8h-0.8zM361.4,176.4h0.8v0.8h-0.8zM334.5,177.5h0.8v0.8h-0.8zM336.3,176.9h0.8v0.8h-0.8zM362.0,175.6h0.8v0.8h-0.8zM347.0,176.8h0.8v0.8h-0.8zM359.8,176.0h0.8v0.8h-0.8zM344.4,175.0h0.8v0.8h-0.8zM352.9,176.9h0.8v0.8h-0.8zM356.4,176.6h0.8v0.8h-0.8zM352.5,176.8h0.8v0.8h-0.8zM354.9,176.5h0.8v0.8h-0.8zM348.1,177.0h0.8v0.8h-0.8zM354.6,171.1h0.8v0.8h-0.8zM353.6,176.6h0.8v0.8h-0.8zM342.6,174.6h0.8v0.8h-0.8zM350.7,174.2h0.8v0.8h-0.8zM361.0,176.4h0.8v0.8h-0.8zM334.5,173.7h0.8v0.8h-0.8zM359.5,176.5h0.8v0.8h-0.8zM340.3,172.7h0.8v0.8h-0.8zM342.3,170.4h0.8v0.8h-0.8zM353.7,176.8h0.8v0.8h-0.8zM359.9,175.3h0.8v0.8h-0.8zM343.3,177.1h0.8v0.8h-0.8zM353.0,176.6h0.8v0.8h-0.8zM356.0,176.6h0.8v0.8h-0.8zM347.3,176.0h0.8v0.8h-0.8zM338.3,175.4h0.8v0.8h-0.8zM354.3,176.0h0.8v0.8h-0.8zM346.7,176.7h0.8v0.8h-0.8zM353.5,176.0h0.8v0.8h-0.8zM360.5,176.5h0.8v0.8h-0.8z" fill="#1a1a1a" opacity="0.25"/>
<path d="M356.2,190.7h0.7v0.7h-0.7zM353.8,189.1h0.7v0.7h-0.7zM335.2,190.1h0.7v0.7h-0.7zM354.1,188.5h0.7v0.7h-0.7zM358.3,191.2h0.7v0.7h-0.7zM344.5,189.9h0.7v0.7h-0.7zM352.9,191.2h0.7v0.7h-0.7zM352.8,190.0h0.7v0.7h-0.7zM356.3,190.0h0.7v0.7h-0.7zM335.0,189.8h0.7v0.7h-0.7zM346.0,189.3h0.7v0.7h-0.7zM345.4,189.0h0.7v0.7h-0.7zM343.0,190.5h0.7v0.7h-0.7zM359.7,189.9h0.7v0.7h-0.7zM358.5,188.9h0.7v0.7h-0.7zM349.0,190.6h0.7v0.7h-0.7zM356.7,189.7h0.7v0.7h-0.7zM338.9,191.1h0.7v0.7h-0.7zM351.7,190.4h0.7v0.7h-0.7zM344.0,188.6h0.7v0.7h-0.7zM350.5,189.6h0.7v0.7h-0.7zM359.8,190.6h0.7v0.7h-0.7zM355.9,190.2h0.7v0.7h-0.7zM355.8,188.9h0.7v0.7h-0.7zM362.9,190.4h0.7v0.7h-0.7zM351.3,189.0h0.7v0.7h-0.7zM336.6,190.3h0.7v0.7h-0.7zM355.1,190.5h0.7v0.7h-0.7zM341.4,189.7h0.7v0.7h-0.7zM356.3,190.4h0.7v0.7h-0.7zM360.4,188.9h0.7v0.7h-0.7zM356.5,188.6h0.7v0.7h-0.7zM352.1,190.0h0.7v0.7h-0.7zM336.1,189.4h0.7v0.7h-0.7zM353.4,191.1h0.7v0.7h-0.7zM336.2,189.7h0.7v0.7h-0.7zM357.1,188.9h0.7v0.7h-0.7zM359.9,191.4h0.7v0.7h-0.7zM343.9,188.9h0.7v0.7h-0.7zM338.2,188.9h0.7v0.7h-0.7zM346.1,190.5h0.7v0.7h-0.7zM361.2,190.3h0.7v0.7h-0.7zM361.6,189.9h0.7v0.7h-0.7zM353.1,188.5h0.7v0.7h-0.7zM346.1,188.4h0.7v0.7h-0.7zM337.8,190.6h0.7v0.7h-0.7zM337.3,189.1h0.7v0.7h-0.7zM349.3,190.0h0.7v0.7h-0.7zM334.9,188.5h0.7v0.7h-0.7zM353.6,189.7h0.7v0.7h-0.7z" fill="#333" opacity="0.45"/>
<path d="M333.0,177.0 L333.7,176.4 L334.4,176.5 L335.1,175.4 L335.8,177.0 L336.5,176.8 L337.2,176.9 L337.9,176.1 L338.6,175.4 L339.3,175.7 L340.0,176.8 L340.7,176.0 L341.4,176.3 L342.1,175.2 L342.8,175.7 L343.5,175.8 L344.2,176.4 L344.9,176.1 L345.6,175.9 L346.3,176.1 L347.0,175.8 L347.7,176.6 L348.4,176.0 L349.1,175.0 L349.8,176.0 L350.5,175.8 L351.2,175.3 L351.9,175.2 L352.6,175.3 L353.3,175.9 L354.0,175.3 L354.7,176.2 L355.4,175.4 L356.1,176.4 L356.8,176.1 L357.5,176.1 L358.2,175.8 L358.9,175.1 L359.6,176.3 L360.3,174.8 L361.0,176.1 L361.0,189.0 L360.3,189.3 L359.6,188.9 L358.9,189.1 L358.2,189.4 L357.5,189.6 L356.8,189.6 L356.1,189.2 L355.4,189.6 L354.7,188.9 L354.0,189.6 L353.3,188.7 L352.6,188.8 L351.9,188.5 L351.2,188.6 L350.5,189.0 L349.8,188.9 L349.1,188.9 L348.4,189.2 L347.7,189.5 L347.0,189.3 L346.3,188.6 L345.6,189.5 L344.9,189.0 L344.2,188.5 L343.5,189.1 L342.8,189.0 L342.1,188.9 L341.4,188.3 L340.7,188.4 L340.0,189.2 L339.3,189.0 L338.6,189.1 L337.9,188.2 L337.2,189.2 L336.5,188.7 L335.8,189.3 L335.1,189.1 L334.4,188.9 L333.7,189.3 L333.0,189.2 Z" fill="#222" opacity="0.55"/>
<path d="M333.0,177.8 L333.7,176.6 L334.4,177.5 L335.1,177.0 L335.8,177.1 L336.5,177.3 L337.2,177.9 L337.9,177.9 L338.6,177.0 L339.3,177.8 L340.0,177.8 L340.7,177.1 L341.4,177.2 L342.1,176.6 L342.8,177.5 L343.5,177.0 L344.2,177.4 L344.9,177.6 L345.6,177.1 L346.3,177.2 L347.0,177.0 L347.7,176.3 L348.4,176.8 L349.1,176.2 L349.8,176.3 L350.5,177.5 L351.2,176.6 L351.9,176.2 L352.6,176.6 L353.3,176.0 L354.0,176.8 L354.7,176.2 L355.4,176.2 L356.1,176.8 L356.8,177.2 L357.5,175.8 L358.2,176.9 L358.9,176.6 L359.6,176.5 L360.3,176.4 L361.0,175.7 L361.0,189.2 L360.3,188.9 L359.6,188.1 L358.9,189.1 L358.2,188.4 L357.5,188.2 L356.8,187.9 L356.1,189.1 L355.4,188.3 L354.7,188.9 L354.0,188.2 L353.3,188.0 L352.6,189.1 L351.9,188.5 L351.2,188.1 L350.5,187.9 L349.8,188.9 L349.1,188.0 L348.4,188.4 L347.7,188.7 L347.0,187.9 L346.3,188.4 L345.6,188.3 L344.9,188.9 L344.2,188.9 L343.5,188.3 L342.8,188.3 L342.1,187.7 L341.4,187.9 L340.7,187.8 L340.0,188.7 L339.3,188.3 L338.6,188.2 L337.9,188.6 L337.2,188.6 L336.5,188.7 L335.8,188.0 L335.1,188.8 L334.4,188.0 L333.7,188.2 L333.0,188.0 Z" fill="#150c15"/>
<defs><linearGradient id="mg5" x1="0" x2="1" y1="0" y2="0"><stop offset="0" stop-color="#3a1038"/><stop offset="0.2" stop-color="#962a8a"/><stop offset="0.7" stop-color="#b0349e"/><stop offset="1" stop-color="#7a3ab0"/></linearGradient></defs>
<path d="M334.8,181.8 L335.8,181.6 L336.8,180.9 L337.8,181.2 L338.8,180.9 L339.8,180.7 L340.8,180.7 L341.8,181.0 L342.8,180.8 L343.8,180.4 L344.8,180.4 L345.8,180.2 L346.8,180.8 L347.8,180.6 L348.8,180.2 L349.8,180.6 L350.8,180.5 L351.8,179.8 L352.8,179.7 L353.8,179.6 L354.8,179.9 L355.8,179.8 L356.8,179.6 L357.8,179.7 L358.0,179.5 L358.0,187.1 L357.8,187.0 L356.8,187.3 L355.8,187.0 L354.8,187.2 L353.8,187.2 L352.8,186.5 L351.8,187.2 L350.8,186.5 L349.8,186.7 L348.8,187.0 L347.8,187.1 L346.8,186.8 L345.8,186.8 L344.8,187.1 L343.8,186.8 L342.8,186.9 L341.8,186.6 L340.8,186.8 L339.8,186.3 L338.8,186.6 L337.8,186.2 L336.8,186.9 L335.8,186.7 L334.8,186.4 Z" fill="url(#mg5)"/>
<path d="M348.6,181.7h0.7v0.7h-0.7zM336.6,185.2h0.7v0.7h-0.7zM345.3,181.3h0.7v0.7h-0.7zM347.8,182.1h0.7v0.7h-0.7zM340.9,185.9h0.7v0.7h-0.7zM349.1,185.1h0.7v0.7h-0.7zM353.8,182.9h0.7v0.7h-0.7zM345.3,183.2h0.7v0.7h-0.7zM343.1,185.4h0.7v0.7h-0.7zM355.3,181.9h0.7v0.7h-0.7zM351.3,181.5h0.7v0.7h-0.7zM335.0,184.9h0.7v0.7h-0.7zM352.8,182.2h0.7v0.7h-0.7zM357.9,184.9h0.7v0.7h-0.7zM342.2,185.3h0.7v0.7h-0.7zM354.4,180.8h0.7v0.7h-0.7zM356.0,182.8h0.7v0.7h-0.7zM341.2,183.1h0.7v0.7h-0.7zM347.1,183.8h0.7v0.7h-0.7zM341.6,181.2h0.7v0.7h-0.7zM349.4,184.9h0.7v0.7h-0.7zM350.9,182.8h0.7v0.7h-0.7zM354.7,179.9h0.7v0.7h-0.7zM337.8,181.3h0.7v0.7h-0.7zM347.7,183.7h0.7v0.7h-0.7zM340.1,184.0h0.7v0.7h-0.7zM334.9,181.6h0.7v0.7h-0.7zM357.1,186.1h0.7v0.7h-0.7zM336.4,184.8h0.7v0.7h-0.7zM346.6,183.8h0.7v0.7h-0.7zM354.3,184.3h0.7v0.7h-0.7zM356.6,184.6h0.7v0.7h-0.7zM356.0,180.5h0.7v0.7h-0.7zM353.9,182.1h0.7v0.7h-0.7zM356.2,185.4h0.7v0.7h-0.7zM357.2,185.1h0.7v0.7h-0.7zM343.9,183.8h0.7v0.7h-0.7zM353.0,180.3h0.7v0.7h-0.7zM347.3,184.0h0.7v0.7h-0.7zM351.5,182.4h0.7v0.7h-0.7z" fill="#2a0a2a" opacity="0.5"/>
<circle cx="361.00" cy="184.10" r="5.20" fill="#150c15"/>
<circle cx="361.00" cy="184.10" r="4.30" fill="#4060d4"/>
<circle cx="361.20" cy="184.10" r="3.70" fill="#24acc8"/>
<circle cx="361.30" cy="184.10" r="3.10" fill="#34a044"/>
<circle cx="361.60" cy="184.10" r="1.40" fill="#d07018"/>
<rect x="420.60" y="132.00" width="86.70" height="78.80" fill="none" stroke="#1a1a1a" stroke-width="1"/>
<line x1="418.60" y1="132.30" x2="420.60" y2="132.30" stroke="#333" stroke-width="0.6" />
<text x="416.40" y="134.66" font-size="6.6" text-anchor="end" fill="#222" stroke="#222" stroke-width="0.2" >10<tspan font-size="4" dy="-2.3">6</tspan></text>
<line x1="418.60" y1="146.37" x2="420.60" y2="146.37" stroke="#333" stroke-width="0.6" />
<text x="416.40" y="148.74" font-size="6.6" text-anchor="end" fill="#222" stroke="#222" stroke-width="0.2" >10<tspan font-size="4" dy="-2.3">5</tspan></text>
<line x1="418.60" y1="161.54" x2="420.60" y2="161.54" stroke="#333" stroke-width="0.6" />
<text x="416.40" y="163.90" font-size="6.6" text-anchor="end" fill="#222" stroke="#222" stroke-width="0.2" >10<tspan font-size="4" dy="-2.3">4</tspan></text>
<line x1="418.60" y1="176.80" x2="420.60" y2="176.80" stroke="#333" stroke-width="0.6" />
<text x="416.40" y="179.16" font-size="6.6" text-anchor="end" fill="#222" stroke="#222" stroke-width="0.2" >2000</text>
<line x1="418.60" y1="190.78" x2="420.60" y2="190.78" stroke="#333" stroke-width="0.6" />
<text x="416.40" y="193.14" font-size="6.6" text-anchor="end" fill="#222" stroke="#222" stroke-width="0.2" >0</text>
<line x1="418.60" y1="203.47" x2="420.60" y2="203.47" stroke="#333" stroke-width="0.6" />
<text x="416.40" y="205.83" font-size="6.6" text-anchor="end" fill="#222" stroke="#222" stroke-width="0.2" >−2000</text>
<line x1="419.40" y1="139.43" x2="420.60" y2="139.43" stroke="#555" stroke-width="0.5" />
<line x1="419.40" y1="153.81" x2="420.60" y2="153.81" stroke="#555" stroke-width="0.5" />
<line x1="419.40" y1="169.17" x2="420.60" y2="169.17" stroke="#555" stroke-width="0.5" />
<line x1="419.40" y1="183.54" x2="420.60" y2="183.54" stroke="#555" stroke-width="0.5" />
<line x1="419.40" y1="197.42" x2="420.60" y2="197.42" stroke="#555" stroke-width="0.5" />
<line x1="423.07" y1="210.80" x2="423.07" y2="212.80" stroke="#333" stroke-width="0.6" />
<text x="423.07" y="220.56" font-size="6.6" text-anchor="middle" fill="#222" stroke="#222" stroke-width="0.2" >−4000</text>
<line x1="443.66" y1="210.80" x2="443.66" y2="212.80" stroke="#333" stroke-width="0.6" />
<text x="443.66" y="220.56" font-size="6.6" text-anchor="middle" fill="#222" stroke="#222" stroke-width="0.2" >0</text>
<line x1="455.83" y1="210.80" x2="455.83" y2="212.80" stroke="#333" stroke-width="0.6" />
<text x="455.83" y="220.56" font-size="6.6" text-anchor="middle" fill="#222" stroke="#222" stroke-width="0.2" >2000</text>
<line x1="474.84" y1="210.80" x2="474.84" y2="212.80" stroke="#333" stroke-width="0.6" />
<text x="474.84" y="220.56" font-size="6.6" text-anchor="middle" fill="#222" stroke="#222" stroke-width="0.2" >10<tspan font-size="4" dy="-2.3">4</tspan></text>
<line x1="492.36" y1="210.80" x2="492.36" y2="212.80" stroke="#333" stroke-width="0.6" />
<text x="492.36" y="220.56" font-size="6.6" text-anchor="middle" fill="#222" stroke="#222" stroke-width="0.2" >10<tspan font-size="4" dy="-2.3">5</tspan></text>
<line x1="507.70" y1="210.80" x2="507.70" y2="212.80" stroke="#333" stroke-width="0.6" />
<text x="507.70" y="220.56" font-size="6.6" text-anchor="middle" fill="#222" stroke="#222" stroke-width="0.2" >10<tspan font-size="4" dy="-2.3">6</tspan></text>
<line x1="433.47" y1="210.80" x2="433.47" y2="212.00" stroke="#555" stroke-width="0.5" />
<line x1="465.14" y1="210.80" x2="465.14" y2="212.00" stroke="#555" stroke-width="0.5" />
<line x1="483.94" y1="210.80" x2="483.94" y2="212.00" stroke="#555" stroke-width="0.5" />
<text x="464.20" y="121.48" font-size="6.1" text-anchor="middle" fill="#222" stroke="#222" stroke-width="0.2" >canonical Pep18</text>
<text x="464.20" y="129.08" font-size="6.1" text-anchor="middle" fill="#222" stroke="#222" stroke-width="0.2" >(HLA-B*15, YQRPMVQY)</text>
<rect x="452.60" y="141.30" width="41.40" height="22.90" fill="none" stroke="#333" stroke-width="0.8"/>
<text x="493.70" y="140.32" font-size="6.2" text-anchor="end" fill="#222" stroke="#222" stroke-width="0.2" >0.04 %</text>
<path d="M466.0,173.9h0.8v0.8h-0.8zM461.7,169.9h0.8v0.8h-0.8zM478.6,175.3h0.8v0.8h-0.8zM465.0,174.4h0.8v0.8h-0.8zM478.4,169.6h0.8v0.8h-0.8zM471.1,176.1h0.8v0.8h-0.8zM471.9,172.0h0.8v0.8h-0.8zM463.9,175.6h0.8v0.8h-0.8zM471.0,176.1h0.8v0.8h-0.8zM461.6,169.5h0.8v0.8h-0.8zM466.4,176.1h0.8v0.8h-0.8zM486.1,174.9h0.8v0.8h-0.8zM467.6,176.2h0.8v0.8h-0.8zM466.2,170.7h0.8v0.8h-0.8zM477.9,172.6h0.8v0.8h-0.8zM477.2,172.2h0.8v0.8h-0.8zM483.6,170.5h0.8v0.8h-0.8zM486.5,173.2h0.8v0.8h-0.8zM479.3,175.3h0.8v0.8h-0.8zM481.8,171.8h0.8v0.8h-0.8zM465.4,176.3h0.8v0.8h-0.8zM461.6,176.4h0.8v0.8h-0.8zM478.7,173.9h0.8v0.8h-0.8zM462.9,174.9h0.8v0.8h-0.8zM464.5,176.3h0.8v0.8h-0.8zM470.4,176.1h0.8v0.8h-0.8zM478.5,175.9h0.8v0.8h-0.8zM469.0,173.6h0.8v0.8h-0.8zM482.8,171.4h0.8v0.8h-0.8zM476.3,175.9h0.8v0.8h-0.8zM474.2,172.8h0.8v0.8h-0.8zM471.7,175.9h0.8v0.8h-0.8zM471.7,175.7h0.8v0.8h-0.8zM485.1,171.4h0.8v0.8h-0.8zM479.3,175.2h0.8v0.8h-0.8zM482.8,175.5h0.8v0.8h-0.8zM470.4,172.4h0.8v0.8h-0.8zM481.2,175.7h0.8v0.8h-0.8zM473.1,174.6h0.8v0.8h-0.8zM459.8,176.5h0.8v0.8h-0.8zM478.9,174.2h0.8v0.8h-0.8zM470.5,175.4h0.8v0.8h-0.8zM475.5,170.8h0.8v0.8h-0.8zM485.4,169.8h0.8v0.8h-0.8zM468.3,176.1h0.8v0.8h-0.8zM477.5,175.3h0.8v0.8h-0.8zM459.3,172.9h0.8v0.8h-0.8zM479.6,175.8h0.8v0.8h-0.8zM468.9,176.0h0.8v0.8h-0.8zM483.4,175.5h0.8v0.8h-0.8zM485.7,175.4h0.8v0.8h-0.8zM472.7,173.6h0.8v0.8h-0.8zM466.4,171.8h0.8v0.8h-0.8zM479.2,174.7h0.8v0.8h-0.8zM472.0,176.1h0.8v0.8h-0.8zM473.8,173.0h0.8v0.8h-0.8zM469.2,176.2h0.8v0.8h-0.8zM478.5,175.8h0.8v0.8h-0.8zM481.0,175.4h0.8v0.8h-0.8zM482.1,169.5h0.8v0.8h-0.8zM460.9,171.3h0.8v0.8h-0.8zM467.4,174.5h0.8v0.8h-0.8zM467.9,174.7h0.8v0.8h-0.8zM472.7,172.0h0.8v0.8h-0.8zM478.8,172.8h0.8v0.8h-0.8zM486.5,175.6h0.8v0.8h-0.8zM468.8,172.6h0.8v0.8h-0.8zM473.4,175.7h0.8v0.8h-0.8zM460.0,171.4h0.8v0.8h-0.8zM470.2,173.6h0.8v0.8h-0.8zM469.7,174.6h0.8v0.8h-0.8zM458.7,176.2h0.8v0.8h-0.8zM463.9,175.9h0.8v0.8h-0.8zM459.0,171.2h0.8v0.8h-0.8zM480.8,175.6h0.8v0.8h-0.8zM483.1,172.3h0.8v0.8h-0.8zM462.2,174.2h0.8v0.8h-0.8zM483.7,175.4h0.8v0.8h-0.8zM476.8,175.7h0.8v0.8h-0.8zM461.2,172.3h0.8v0.8h-0.8zM468.0,175.2h0.8v0.8h-0.8zM465.7,170.8h0.8v0.8h-0.8zM480.6,175.8h0.8v0.8h-0.8zM460.3,176.5h0.8v0.8h-0.8zM474.7,171.1h0.8v0.8h-0.8zM481.7,173.9h0.8v0.8h-0.8zM478.4,175.9h0.8v0.8h-0.8zM481.5,172.5h0.8v0.8h-0.8zM477.8,173.6h0.8v0.8h-0.8zM461.1,176.5h0.8v0.8h-0.8zM465.7,176.3h0.8v0.8h-0.8zM486.4,174.9h0.8v0.8h-0.8zM486.0,175.6h0.8v0.8h-0.8zM472.6,175.2h0.8v0.8h-0.8zM459.1,176.5h0.8v0.8h-0.8zM479.8,175.1h0.8v0.8h-0.8zM484.7,169.7h0.8v0.8h-0.8zM465.4,175.2h0.8v0.8h-0.8zM479.0,175.8h0.8v0.8h-0.8zM479.8,175.7h0.8v0.8h-0.8zM466.5,175.5h0.8v0.8h-0.8zM469.5,175.5h0.8v0.8h-0.8zM465.0,175.3h0.8v0.8h-0.8zM485.4,170.3h0.8v0.8h-0.8zM466.1,174.6h0.8v0.8h-0.8z" fill="#1a1a1a" opacity="0.75"/>
<path d="M484.9,175.6h0.8v0.8h-0.8zM467.5,172.0h0.8v0.8h-0.8zM460.9,176.4h0.8v0.8h-0.8zM469.5,174.2h0.8v0.8h-0.8zM483.2,175.7h0.8v0.8h-0.8zM474.6,175.2h0.8v0.8h-0.8zM479.4,173.5h0.8v0.8h-0.8zM484.5,175.7h0.8v0.8h-0.8zM462.8,175.1h0.8v0.8h-0.8zM475.6,169.9h0.8v0.8h-0.8zM474.7,176.0h0.8v0.8h-0.8zM469.3,174.8h0.8v0.8h-0.8zM471.3,176.0h0.8v0.8h-0.8zM466.0,176.0h0.8v0.8h-0.8zM476.0,175.6h0.8v0.8h-0.8zM484.4,173.5h0.8v0.8h-0.8zM483.7,175.7h0.8v0.8h-0.8zM475.5,174.1h0.8v0.8h-0.8zM476.2,173.8h0.8v0.8h-0.8zM468.7,175.5h0.8v0.8h-0.8zM459.8,176.0h0.8v0.8h-0.8zM485.7,170.3h0.8v0.8h-0.8zM463.9,176.3h0.8v0.8h-0.8zM463.6,176.4h0.8v0.8h-0.8zM459.8,176.5h0.8v0.8h-0.8zM458.1,175.6h0.8v0.8h-0.8zM464.6,175.3h0.8v0.8h-0.8zM466.2,175.9h0.8v0.8h-0.8zM479.0,175.7h0.8v0.8h-0.8zM466.4,175.8h0.8v0.8h-0.8zM476.2,172.5h0.8v0.8h-0.8zM475.6,172.2h0.8v0.8h-0.8zM473.9,170.4h0.8v0.8h-0.8zM462.0,175.7h0.8v0.8h-0.8zM461.5,175.3h0.8v0.8h-0.8zM468.8,171.7h0.8v0.8h-0.8zM472.5,173.1h0.8v0.8h-0.8zM480.6,175.7h0.8v0.8h-0.8zM482.6,172.8h0.8v0.8h-0.8zM479.1,170.4h0.8v0.8h-0.8zM480.8,175.3h0.8v0.8h-0.8zM463.5,175.3h0.8v0.8h-0.8zM471.1,170.5h0.8v0.8h-0.8zM482.8,172.0h0.8v0.8h-0.8zM459.5,172.5h0.8v0.8h-0.8zM461.5,175.0h0.8v0.8h-0.8zM470.9,176.1h0.8v0.8h-0.8zM465.5,175.9h0.8v0.8h-0.8zM479.5,175.7h0.8v0.8h-0.8zM467.8,176.2h0.8v0.8h-0.8zM480.9,170.2h0.8v0.8h-0.8zM468.6,175.9h0.8v0.8h-0.8zM477.2,175.6h0.8v0.8h-0.8zM470.2,171.8h0.8v0.8h-0.8zM458.7,171.8h0.8v0.8h-0.8zM457.5,175.9h0.8v0.8h-0.8zM465.0,176.2h0.8v0.8h-0.8zM478.7,175.9h0.8v0.8h-0.8zM472.5,173.4h0.8v0.8h-0.8zM467.2,175.0h0.8v0.8h-0.8zM481.4,174.5h0.8v0.8h-0.8zM474.6,175.2h0.8v0.8h-0.8zM466.6,175.4h0.8v0.8h-0.8zM479.0,175.7h0.8v0.8h-0.8zM479.0,175.2h0.8v0.8h-0.8zM465.2,173.3h0.8v0.8h-0.8zM466.8,176.3h0.8v0.8h-0.8zM479.2,171.5h0.8v0.8h-0.8zM482.5,174.6h0.8v0.8h-0.8zM470.9,173.5h0.8v0.8h-0.8zM478.7,175.5h0.8v0.8h-0.8zM464.2,175.7h0.8v0.8h-0.8zM484.6,172.2h0.8v0.8h-0.8zM486.2,175.0h0.8v0.8h-0.8zM472.5,170.5h0.8v0.8h-0.8zM479.3,175.6h0.8v0.8h-0.8zM474.9,175.8h0.8v0.8h-0.8zM478.5,173.7h0.8v0.8h-0.8zM457.8,176.4h0.8v0.8h-0.8zM466.3,172.3h0.8v0.8h-0.8zM475.1,174.1h0.8v0.8h-0.8zM460.2,171.7h0.8v0.8h-0.8zM471.6,175.0h0.8v0.8h-0.8zM471.5,176.1h0.8v0.8h-0.8zM464.7,175.5h0.8v0.8h-0.8zM468.0,175.0h0.8v0.8h-0.8zM481.2,170.9h0.8v0.8h-0.8zM469.4,176.2h0.8v0.8h-0.8zM484.3,175.7h0.8v0.8h-0.8zM469.9,176.1h0.8v0.8h-0.8zM462.1,174.5h0.8v0.8h-0.8zM465.5,171.2h0.8v0.8h-0.8zM484.1,175.4h0.8v0.8h-0.8zM486.2,175.2h0.8v0.8h-0.8z" fill="#1a1a1a" opacity="0.55"/>
<path d="M468.4,173.0h0.8v0.8h-0.8zM466.5,176.3h0.8v0.8h-0.8zM471.4,175.9h0.8v0.8h-0.8zM477.4,174.9h0.8v0.8h-0.8zM463.9,173.9h0.8v0.8h-0.8zM458.7,176.4h0.8v0.8h-0.8zM479.6,175.8h0.8v0.8h-0.8zM457.8,173.6h0.8v0.8h-0.8zM486.6,174.0h0.8v0.8h-0.8zM468.9,175.6h0.8v0.8h-0.8zM462.4,176.1h0.8v0.8h-0.8zM483.4,174.4h0.8v0.8h-0.8zM464.1,176.4h0.8v0.8h-0.8zM466.0,174.0h0.8v0.8h-0.8zM478.5,172.1h0.8v0.8h-0.8zM480.9,175.6h0.8v0.8h-0.8zM462.5,176.4h0.8v0.8h-0.8zM483.7,172.5h0.8v0.8h-0.8zM479.4,173.5h0.8v0.8h-0.8zM462.5,175.2h0.8v0.8h-0.8zM478.4,174.3h0.8v0.8h-0.8zM466.5,176.0h0.8v0.8h-0.8zM486.3,170.6h0.8v0.8h-0.8zM483.4,174.5h0.8v0.8h-0.8zM471.4,174.8h0.8v0.8h-0.8zM485.3,171.8h0.8v0.8h-0.8zM480.7,173.3h0.8v0.8h-0.8zM482.4,169.9h0.8v0.8h-0.8zM482.5,172.9h0.8v0.8h-0.8zM480.9,175.8h0.8v0.8h-0.8zM469.5,170.0h0.8v0.8h-0.8zM474.7,174.2h0.8v0.8h-0.8zM460.6,176.2h0.8v0.8h-0.8zM457.7,171.1h0.8v0.8h-0.8zM466.1,170.6h0.8v0.8h-0.8zM460.5,174.4h0.8v0.8h-0.8zM477.4,175.9h0.8v0.8h-0.8zM477.6,175.9h0.8v0.8h-0.8zM473.3,174.9h0.8v0.8h-0.8zM479.5,175.8h0.8v0.8h-0.8zM461.3,176.3h0.8v0.8h-0.8zM475.1,173.0h0.8v0.8h-0.8zM469.1,174.9h0.8v0.8h-0.8zM460.6,176.1h0.8v0.8h-0.8zM469.4,175.9h0.8v0.8h-0.8zM478.7,175.8h0.8v0.8h-0.8zM485.8,171.3h0.8v0.8h-0.8zM464.7,176.0h0.8v0.8h-0.8zM465.3,176.0h0.8v0.8h-0.8zM485.1,175.4h0.8v0.8h-0.8zM483.1,172.9h0.8v0.8h-0.8zM469.2,174.4h0.8v0.8h-0.8zM483.0,174.3h0.8v0.8h-0.8zM484.0,175.7h0.8v0.8h-0.8zM472.1,175.4h0.8v0.8h-0.8zM457.8,176.0h0.8v0.8h-0.8zM474.0,174.3h0.8v0.8h-0.8zM467.0,175.5h0.8v0.8h-0.8zM469.8,175.5h0.8v0.8h-0.8zM466.1,173.1h0.8v0.8h-0.8zM476.9,175.3h0.8v0.8h-0.8zM458.4,171.5h0.8v0.8h-0.8zM457.7,176.0h0.8v0.8h-0.8zM469.9,174.4h0.8v0.8h-0.8zM486.2,175.6h0.8v0.8h-0.8zM463.4,176.4h0.8v0.8h-0.8zM462.0,174.8h0.8v0.8h-0.8zM458.4,173.0h0.8v0.8h-0.8zM485.7,175.6h0.8v0.8h-0.8zM469.5,174.4h0.8v0.8h-0.8zM467.7,170.0h0.8v0.8h-0.8zM481.4,170.5h0.8v0.8h-0.8zM476.2,175.7h0.8v0.8h-0.8zM469.5,175.1h0.8v0.8h-0.8zM479.6,175.7h0.8v0.8h-0.8zM462.3,172.2h0.8v0.8h-0.8zM469.0,173.1h0.8v0.8h-0.8zM478.2,172.6h0.8v0.8h-0.8zM469.9,170.8h0.8v0.8h-0.8zM461.3,176.4h0.8v0.8h-0.8zM459.2,172.7h0.8v0.8h-0.8zM476.3,174.8h0.8v0.8h-0.8zM473.7,175.6h0.8v0.8h-0.8zM482.6,175.7h0.8v0.8h-0.8zM463.3,176.2h0.8v0.8h-0.8zM462.2,172.9h0.8v0.8h-0.8zM469.5,176.2h0.8v0.8h-0.8zM478.3,175.0h0.8v0.8h-0.8z" fill="#1a1a1a" opacity="0.4"/>
<path d="M475.0,173.2h0.8v0.8h-0.8zM468.0,175.1h0.8v0.8h-0.8zM468.7,174.5h0.8v0.8h-0.8zM465.7,176.2h0.8v0.8h-0.8zM475.5,176.0h0.8v0.8h-0.8zM473.0,175.8h0.8v0.8h-0.8zM471.6,174.4h0.8v0.8h-0.8zM481.4,175.1h0.8v0.8h-0.8zM468.1,170.4h0.8v0.8h-0.8zM477.1,175.9h0.8v0.8h-0.8zM466.2,176.3h0.8v0.8h-0.8zM474.4,175.9h0.8v0.8h-0.8zM467.9,176.1h0.8v0.8h-0.8zM484.2,170.3h0.8v0.8h-0.8zM477.0,173.8h0.8v0.8h-0.8zM480.8,175.8h0.8v0.8h-0.8zM479.4,175.8h0.8v0.8h-0.8zM471.7,175.3h0.8v0.8h-0.8zM477.1,171.2h0.8v0.8h-0.8zM467.0,172.9h0.8v0.8h-0.8zM468.3,175.9h0.8v0.8h-0.8zM478.4,175.8h0.8v0.8h-0.8zM470.7,170.0h0.8v0.8h-0.8zM480.8,175.2h0.8v0.8h-0.8zM472.6,174.1h0.8v0.8h-0.8zM471.5,175.6h0.8v0.8h-0.8zM484.8,175.7h0.8v0.8h-0.8zM460.8,175.3h0.8v0.8h-0.8zM484.9,175.6h0.8v0.8h-0.8zM473.4,174.6h0.8v0.8h-0.8zM457.4,170.1h0.8v0.8h-0.8zM467.5,176.1h0.8v0.8h-0.8zM465.7,175.7h0.8v0.8h-0.8zM483.9,172.9h0.8v0.8h-0.8zM474.3,175.0h0.8v0.8h-0.8zM467.3,175.6h0.8v0.8h-0.8zM478.6,174.2h0.8v0.8h-0.8zM479.7,173.6h0.8v0.8h-0.8zM474.2,176.0h0.8v0.8h-0.8zM460.6,176.5h0.8v0.8h-0.8zM459.3,171.0h0.8v0.8h-0.8zM482.1,170.3h0.8v0.8h-0.8zM461.2,172.2h0.8v0.8h-0.8zM483.6,171.8h0.8v0.8h-0.8zM465.5,172.2h0.8v0.8h-0.8zM484.9,170.6h0.8v0.8h-0.8zM473.5,176.0h0.8v0.8h-0.8zM476.4,176.0h0.8v0.8h-0.8zM486.5,173.0h0.8v0.8h-0.8zM469.1,174.6h0.8v0.8h-0.8zM484.8,175.5h0.8v0.8h-0.8zM484.3,175.7h0.8v0.8h-0.8zM461.8,176.4h0.8v0.8h-0.8zM481.9,173.0h0.8v0.8h-0.8zM478.3,175.5h0.8v0.8h-0.8zM471.1,172.3h0.8v0.8h-0.8zM463.0,174.5h0.8v0.8h-0.8zM475.3,175.9h0.8v0.8h-0.8zM474.5,174.9h0.8v0.8h-0.8zM486.3,170.6h0.8v0.8h-0.8zM478.1,175.4h0.8v0.8h-0.8zM458.6,176.5h0.8v0.8h-0.8zM474.5,173.6h0.8v0.8h-0.8zM477.6,175.9h0.8v0.8h-0.8zM482.8,175.2h0.8v0.8h-0.8zM479.4,173.4h0.8v0.8h-0.8zM458.5,175.1h0.8v0.8h-0.8zM474.7,175.6h0.8v0.8h-0.8zM468.9,169.7h0.8v0.8h-0.8zM474.6,175.5h0.8v0.8h-0.8zM475.3,170.2h0.8v0.8h-0.8zM462.8,172.5h0.8v0.8h-0.8zM476.9,173.3h0.8v0.8h-0.8zM471.1,176.1h0.8v0.8h-0.8zM462.6,176.2h0.8v0.8h-0.8zM478.1,170.9h0.8v0.8h-0.8zM464.7,173.6h0.8v0.8h-0.8zM466.1,174.9h0.8v0.8h-0.8zM460.2,171.5h0.8v0.8h-0.8zM479.1,171.9h0.8v0.8h-0.8zM457.4,176.6h0.8v0.8h-0.8zM473.1,176.1h0.8v0.8h-0.8zM483.3,172.7h0.8v0.8h-0.8zM481.2,175.2h0.8v0.8h-0.8zM477.3,175.9h0.8v0.8h-0.8zM472.7,175.7h0.8v0.8h-0.8zM468.6,175.9h0.8v0.8h-0.8zM472.1,176.0h0.8v0.8h-0.8zM481.9,173.5h0.8v0.8h-0.8zM466.8,176.3h0.8v0.8h-0.8zM475.0,171.2h0.8v0.8h-0.8zM457.2,176.6h0.8v0.8h-0.8zM481.7,175.0h0.8v0.8h-0.8zM471.2,173.1h0.8v0.8h-0.8zM482.2,174.0h0.8v0.8h-0.8zM467.5,175.3h0.8v0.8h-0.8zM462.3,175.8h0.8v0.8h-0.8zM461.0,175.4h0.8v0.8h-0.8zM477.8,173.6h0.8v0.8h-0.8zM461.4,176.4h0.8v0.8h-0.8zM461.2,176.3h0.8v0.8h-0.8zM470.5,170.9h0.8v0.8h-0.8zM476.2,175.9h0.8v0.8h-0.8zM484.9,175.5h0.8v0.8h-0.8zM478.5,175.7h0.8v0.8h-0.8zM461.8,176.4h0.8v0.8h-0.8zM477.2,175.8h0.8v0.8h-0.8zM464.2,170.8h0.8v0.8h-0.8zM481.1,175.3h0.8v0.8h-0.8zM479.5,175.8h0.8v0.8h-0.8zM469.5,172.2h0.8v0.8h-0.8zM478.5,174.5h0.8v0.8h-0.8zM462.8,176.1h0.8v0.8h-0.8zM466.7,176.3h0.8v0.8h-0.8zM478.7,175.2h0.8v0.8h-0.8zM485.6,171.6h0.8v0.8h-0.8zM479.2,174.9h0.8v0.8h-0.8zM485.0,175.6h0.8v0.8h-0.8zM477.4,175.9h0.8v0.8h-0.8zM485.8,174.5h0.8v0.8h-0.8zM463.4,173.5h0.8v0.8h-0.8zM457.9,174.0h0.8v0.8h-0.8zM475.2,175.5h0.8v0.8h-0.8zM467.9,176.0h0.8v0.8h-0.8zM462.8,176.3h0.8v0.8h-0.8zM463.8,176.4h0.8v0.8h-0.8zM462.5,172.7h0.8v0.8h-0.8zM469.3,176.2h0.8v0.8h-0.8zM467.3,176.1h0.8v0.8h-0.8zM480.0,175.8h0.8v0.8h-0.8zM477.5,175.9h0.8v0.8h-0.8zM465.1,176.2h0.8v0.8h-0.8zM483.2,174.2h0.8v0.8h-0.8z" fill="#1a1a1a" opacity="0.25"/>
<path d="M460.9,191.1h0.7v0.7h-0.7zM484.1,189.9h0.7v0.7h-0.7zM481.2,189.8h0.7v0.7h-0.7zM470.0,188.8h0.7v0.7h-0.7zM471.3,190.5h0.7v0.7h-0.7zM480.2,190.9h0.7v0.7h-0.7zM472.4,191.1h0.7v0.7h-0.7zM468.2,188.4h0.7v0.7h-0.7zM469.7,190.0h0.7v0.7h-0.7zM479.6,188.9h0.7v0.7h-0.7zM458.3,190.7h0.7v0.7h-0.7zM463.0,191.0h0.7v0.7h-0.7zM473.7,188.7h0.7v0.7h-0.7zM472.4,190.6h0.7v0.7h-0.7zM464.0,191.3h0.7v0.7h-0.7zM459.2,189.0h0.7v0.7h-0.7zM474.5,190.3h0.7v0.7h-0.7zM474.8,191.0h0.7v0.7h-0.7zM463.3,188.6h0.7v0.7h-0.7zM472.9,189.4h0.7v0.7h-0.7zM468.9,189.6h0.7v0.7h-0.7zM482.7,189.0h0.7v0.7h-0.7zM477.3,189.9h0.7v0.7h-0.7zM465.7,191.2h0.7v0.7h-0.7zM464.9,189.4h0.7v0.7h-0.7zM463.1,190.6h0.7v0.7h-0.7zM477.4,189.3h0.7v0.7h-0.7zM461.0,190.3h0.7v0.7h-0.7zM467.2,190.1h0.7v0.7h-0.7zM476.3,188.2h0.7v0.7h-0.7zM458.9,191.0h0.7v0.7h-0.7zM482.3,188.4h0.7v0.7h-0.7zM464.0,189.7h0.7v0.7h-0.7zM481.3,189.1h0.7v0.7h-0.7zM484.9,188.4h0.7v0.7h-0.7zM483.4,188.3h0.7v0.7h-0.7zM474.8,191.2h0.7v0.7h-0.7zM478.2,190.9h0.7v0.7h-0.7zM467.6,191.3h0.7v0.7h-0.7zM483.4,188.9h0.7v0.7h-0.7zM479.6,190.9h0.7v0.7h-0.7zM463.7,189.6h0.7v0.7h-0.7zM479.6,189.9h0.7v0.7h-0.7zM483.8,189.4h0.7v0.7h-0.7zM470.4,188.9h0.7v0.7h-0.7zM465.4,191.1h0.7v0.7h-0.7zM465.0,191.1h0.7v0.7h-0.7zM480.5,189.9h0.7v0.7h-0.7zM466.2,188.4h0.7v0.7h-0.7zM461.0,191.0h0.7v0.7h-0.7z" fill="#333" opacity="0.45"/>
<path d="M456.6,174.7 L457.3,174.6 L458.0,175.8 L458.7,174.6 L459.4,175.5 L460.1,175.6 L460.8,174.6 L461.5,174.7 L462.2,175.0 L462.9,175.6 L463.6,175.9 L464.3,175.7 L465.0,175.6 L465.7,175.7 L466.4,175.0 L467.1,175.4 L467.8,175.6 L468.5,174.4 L469.2,175.3 L469.9,175.9 L470.6,175.8 L471.3,174.9 L472.0,175.7 L472.7,174.8 L473.4,175.7 L474.1,174.9 L474.8,174.7 L475.5,174.8 L476.2,175.3 L476.9,174.2 L477.6,174.0 L478.3,174.2 L479.0,174.0 L479.7,173.9 L480.4,174.9 L481.1,174.6 L481.8,174.8 L482.5,174.1 L483.2,175.1 L483.9,175.0 L483.9,188.7 L483.2,188.7 L482.5,189.1 L481.8,188.8 L481.1,188.6 L480.4,188.8 L479.7,188.8 L479.0,189.4 L478.3,188.7 L477.6,188.7 L476.9,188.6 L476.2,188.6 L475.5,188.5 L474.8,188.9 L474.1,188.4 L473.4,188.6 L472.7,188.7 L472.0,189.2 L471.3,188.8 L470.6,189.2 L469.9,189.2 L469.2,189.2 L468.5,189.2 L467.8,188.8 L467.1,189.1 L466.4,189.6 L465.7,189.6 L465.0,189.2 L464.3,188.9 L463.6,189.5 L462.9,189.2 L462.2,189.1 L461.5,188.6 L460.8,189.6 L460.1,189.0 L459.4,188.6 L458.7,189.0 L458.0,189.8 L457.3,189.2 L456.6,189.1 Z" fill="#222" opacity="0.55"/>
<path d="M456.6,176.2 L457.3,176.0 L458.0,176.0 L458.7,175.8 L459.4,176.0 L460.1,175.6 L460.8,176.2 L461.5,176.4 L462.2,175.7 L462.9,176.6 L463.6,176.1 L464.3,176.4 L465.0,176.1 L465.7,176.6 L466.4,176.4 L467.1,175.5 L467.8,176.2 L468.5,175.7 L469.2,176.4 L469.9,175.8 L470.6,175.6 L471.3,175.3 L472.0,176.7 L472.7,175.4 L473.4,175.5 L474.1,176.5 L474.8,175.2 L475.5,175.7 L476.2,175.7 L476.9,176.1 L477.6,176.2 L478.3,176.5 L479.0,175.4 L479.7,175.1 L480.4,175.2 L481.1,174.9 L481.8,175.3 L482.5,175.8 L483.2,176.2 L483.9,175.0 L483.9,188.1 L483.2,188.1 L482.5,188.1 L481.8,187.8 L481.1,188.0 L480.4,188.3 L479.7,188.6 L479.0,188.9 L478.3,188.2 L477.6,188.0 L476.9,188.9 L476.2,188.4 L475.5,188.5 L474.8,188.3 L474.1,188.3 L473.4,188.6 L472.7,188.5 L472.0,188.4 L471.3,188.9 L470.6,188.3 L469.9,188.6 L469.2,188.2 L468.5,188.3 L467.8,188.7 L467.1,188.8 L466.4,188.6 L465.7,188.4 L465.0,188.2 L464.3,187.9 L463.6,188.9 L462.9,188.5 L462.2,188.0 L461.5,188.7 L460.8,188.2 L460.1,188.0 L459.4,188.0 L458.7,188.5 L458.0,188.7 L457.3,189.1 L456.6,188.3 Z" fill="#150c15"/>
<defs><linearGradient id="mg6" x1="0" x2="1" y1="0" y2="0"><stop offset="0" stop-color="#3a1038"/><stop offset="0.2" stop-color="#962a8a"/><stop offset="0.7" stop-color="#b0349e"/><stop offset="1" stop-color="#7a3ab0"/></linearGradient></defs>
<path d="M458.4,180.6 L459.4,180.7 L460.4,180.7 L461.4,180.2 L462.4,180.6 L463.4,180.5 L464.4,180.0 L465.4,179.9 L466.4,179.7 L467.4,179.9 L468.4,180.0 L469.4,179.7 L470.4,179.7 L471.4,179.6 L472.4,179.1 L473.4,179.0 L474.4,179.3 L475.4,179.5 L476.4,179.2 L477.4,178.9 L478.4,178.7 L479.4,178.5 L480.4,178.8 L481.1,178.8 L481.1,186.5 L480.4,186.7 L479.4,186.4 L478.4,186.0 L477.4,186.2 L476.4,186.5 L475.4,186.8 L474.4,186.1 L473.4,186.5 L472.4,186.4 L471.4,186.4 L470.4,186.2 L469.4,186.7 L468.4,186.9 L467.4,186.4 L466.4,186.2 L465.4,186.6 L464.4,187.0 L463.4,186.6 L462.4,186.9 L461.4,186.9 L460.4,186.6 L459.4,186.4 L458.4,186.7 Z" fill="url(#mg6)"/>
<path d="M477.9,185.5h0.7v0.7h-0.7zM473.5,179.8h0.7v0.7h-0.7zM465.5,183.9h0.7v0.7h-0.7zM467.8,181.4h0.7v0.7h-0.7zM459.9,185.9h0.7v0.7h-0.7zM473.5,181.5h0.7v0.7h-0.7zM469.1,185.7h0.7v0.7h-0.7zM461.7,184.4h0.7v0.7h-0.7zM463.7,186.1h0.7v0.7h-0.7zM476.6,186.1h0.7v0.7h-0.7zM467.1,183.3h0.7v0.7h-0.7zM465.7,182.4h0.7v0.7h-0.7zM480.0,186.1h0.7v0.7h-0.7zM481.0,185.6h0.7v0.7h-0.7zM469.5,184.2h0.7v0.7h-0.7zM479.0,182.1h0.7v0.7h-0.7zM479.3,184.8h0.7v0.7h-0.7zM464.8,182.5h0.7v0.7h-0.7zM474.1,180.5h0.7v0.7h-0.7zM464.2,181.5h0.7v0.7h-0.7zM460.8,186.2h0.7v0.7h-0.7zM481.0,185.0h0.7v0.7h-0.7zM469.8,184.8h0.7v0.7h-0.7zM474.0,182.5h0.7v0.7h-0.7zM470.2,180.6h0.7v0.7h-0.7zM463.9,182.5h0.7v0.7h-0.7zM466.5,184.4h0.7v0.7h-0.7zM463.9,181.8h0.7v0.7h-0.7zM478.3,184.8h0.7v0.7h-0.7zM479.6,184.7h0.7v0.7h-0.7zM462.8,183.5h0.7v0.7h-0.7zM477.3,185.0h0.7v0.7h-0.7zM463.6,183.4h0.7v0.7h-0.7zM471.8,179.6h0.7v0.7h-0.7zM463.9,185.0h0.7v0.7h-0.7zM473.5,182.5h0.7v0.7h-0.7zM471.4,183.2h0.7v0.7h-0.7zM466.2,180.6h0.7v0.7h-0.7zM475.2,184.8h0.7v0.7h-0.7zM468.3,185.0h0.7v0.7h-0.7z" fill="#2a0a2a" opacity="0.5"/>
<circle cx="484.10" cy="183.30" r="5.20" fill="#150c15"/>
<circle cx="484.10" cy="183.30" r="4.30" fill="#4060d4"/>
<circle cx="484.30" cy="183.30" r="3.70" fill="#24acc8"/>
<circle cx="484.40" cy="183.30" r="3.10" fill="#34a044"/>
<circle cx="484.70" cy="183.30" r="1.40" fill="#d07018"/>
<line x1="15.70" y1="162.00" x2="15.70" y2="225.60" stroke="#444" stroke-width="0.8" />
<line x1="15.70" y1="225.60" x2="84.00" y2="225.60" stroke="#444" stroke-width="0.8" />
<path d="M15.7,159 L14,163.2 L17.4,163.2 Z" fill="#222"/>
<path d="M87,225.6 L82.8,223.9 L82.8,227.3 Z" fill="#222"/>
<text x="0" y="3.0" font-size="8.4" text-anchor="middle" fill="#222" stroke="#222" stroke-width="0.25" transform="translate(9.2 192.2) rotate(-90) scale(0.78 1)">IFN-γ</text>
<text x="0" y="3.0" font-size="8.4" text-anchor="middle" fill="#222" stroke="#222" stroke-width="0.25" transform="translate(51 231.8) scale(0.6 1)">CD8</text>
<text x="6.50" y="262.87" font-size="10.8" text-anchor="start" fill="#111" stroke="#111" stroke-width="0.2" font-weight="bold" >B</text>
<line x1="50.20" y1="271.20" x2="50.20" y2="287.60" stroke="#222" stroke-width="1" />
<line x1="50.20" y1="292.60" x2="50.20" y2="346.50" stroke="#222" stroke-width="1" />
<line x1="48.00" y1="273.70" x2="50.20" y2="273.70" stroke="#222" stroke-width="0.7" />
<text x="44.20" y="276.82" font-size="6.2" text-anchor="end" fill="#222" stroke="#222" stroke-width="0.2" >0.50</text>
<line x1="48.00" y1="281.20" x2="50.20" y2="281.20" stroke="#222" stroke-width="0.7" />
<text x="44.20" y="283.22" font-size="6.2" text-anchor="end" fill="#222" stroke="#222" stroke-width="0.2" >0.25</text>
<line x1="48.00" y1="293.00" x2="50.20" y2="293.00" stroke="#222" stroke-width="0.7" />
<text x="44.20" y="295.22" font-size="6.2" text-anchor="end" fill="#222" stroke="#222" stroke-width="0.2" >0.02</text>
<line x1="48.00" y1="319.70" x2="50.20" y2="319.70" stroke="#222" stroke-width="0.7" />
<text x="44.20" y="321.92" font-size="6.2" text-anchor="end" fill="#222" stroke="#222" stroke-width="0.2" >0.01</text>
<line x1="48.00" y1="346.30" x2="50.20" y2="346.30" stroke="#222" stroke-width="0.7" />
<text x="44.20" y="348.52" font-size="6.2" text-anchor="end" fill="#222" stroke="#222" stroke-width="0.2" >0.00</text>
<line x1="48.70" y1="306.30" x2="50.20" y2="306.30" stroke="#222" stroke-width="0.6" />
<line x1="48.70" y1="333.00" x2="50.20" y2="333.00" stroke="#222" stroke-width="0.6" />
<line x1="48.20" y1="287.60" x2="50.20" y2="287.60" stroke="#222" stroke-width="0.7" />
<path d="M48.90,292 L51.50,292 L50.20,294 Z" fill="#222"/>
<text x="26.20" y="309.86" font-size="5.75" text-anchor="middle" fill="#222" stroke="#222" stroke-width="0.2" transform="rotate(-90 26.2 307.8)">(%) IFN-γ<tspan font-size="3.8" dy="-2">+</tspan><tspan dy="2"> cells/CD8</tspan><tspan font-size="3.8" dy="-2">+</tspan><tspan dy="2"> cells</tspan></text>
<line x1="49.70" y1="346.50" x2="258.50" y2="346.50" stroke="#222" stroke-width="1" />
<rect x="53.30" y="345.00" width="7.4" height="3" rx="1.5" fill="#c0102c"/>
<rect x="60.40" y="345.10" width="6.4" height="2.8" rx="1.4" fill="#1c4474"/>
<circle cx="55.40" cy="286.90" r="1.4" fill="#c0102c" stroke="#7a0818" stroke-width="0.4"/>
<circle cx="58.60" cy="286.90" r="1.4" fill="#c0102c" stroke="#7a0818" stroke-width="0.4"/>
<circle cx="55.40" cy="325.20" r="1.4" fill="#c0102c" stroke="#7a0818" stroke-width="0.4"/>
<circle cx="58.60" cy="325.20" r="1.4" fill="#c0102c" stroke="#7a0818" stroke-width="0.4"/>
<circle cx="57.00" cy="330.50" r="1.4" fill="#c0102c" stroke="#7a0818" stroke-width="0.4"/>
<circle cx="57.00" cy="337.50" r="1.4" fill="#c0102c" stroke="#7a0818" stroke-width="0.4"/>
<circle cx="57.00" cy="339.50" r="1.4" fill="#c0102c" stroke="#7a0818" stroke-width="0.4"/>
<path d="M63.60,332.90 L65.00,335.50 L62.20,335.50 Z" fill="#1c4474"/>
<path d="M63.60,335.50 L65.00,338.10 L62.20,338.10 Z" fill="#1c4474"/>
<path d="M63.60,337.50 L65.00,340.10 L62.20,340.10 Z" fill="#1c4474"/>
<line x1="54.40" y1="335.50" x2="59.60" y2="335.50" stroke="#555" stroke-width="0.7" />
<line x1="61.00" y1="344.40" x2="66.20" y2="344.40" stroke="#556" stroke-width="0.7" />
<rect x="70.57" y="345.00" width="7.4" height="3" rx="1.5" fill="#c0102c"/>
<rect x="77.67" y="345.10" width="6.4" height="2.8" rx="1.4" fill="#1c4474"/>
<circle cx="72.67" cy="286.50" r="1.4" fill="#c0102c" stroke="#7a0818" stroke-width="0.4"/>
<circle cx="75.87" cy="286.50" r="1.4" fill="#c0102c" stroke="#7a0818" stroke-width="0.4"/>
<circle cx="74.27" cy="309.00" r="1.4" fill="#c0102c" stroke="#7a0818" stroke-width="0.4"/>
<circle cx="74.27" cy="338.40" r="1.4" fill="#c0102c" stroke="#7a0818" stroke-width="0.4"/>
<path d="M80.87,332.70 L82.27,335.30 L79.47,335.30 Z" fill="#1c4474"/>
<path d="M80.87,336.90 L82.27,339.50 L79.47,339.50 Z" fill="#1c4474"/>
<line x1="71.67" y1="334.20" x2="76.87" y2="334.20" stroke="#555" stroke-width="0.7" />
<rect x="87.84" y="345.00" width="7.4" height="3" rx="1.5" fill="#c0102c"/>
<rect x="94.94" y="345.10" width="6.4" height="2.8" rx="1.4" fill="#1c4474"/>
<circle cx="91.54" cy="286.20" r="1.4" fill="#c0102c" stroke="#7a0818" stroke-width="0.4"/>
<circle cx="91.54" cy="301.00" r="1.4" fill="#c0102c" stroke="#7a0818" stroke-width="0.4"/>
<circle cx="91.54" cy="309.00" r="1.4" fill="#c0102c" stroke="#7a0818" stroke-width="0.4"/>
<circle cx="89.94" cy="314.30" r="1.4" fill="#c0102c" stroke="#7a0818" stroke-width="0.4"/>
<circle cx="93.14" cy="314.30" r="1.4" fill="#c0102c" stroke="#7a0818" stroke-width="0.4"/>
<circle cx="91.54" cy="317.40" r="1.4" fill="#c0102c" stroke="#7a0818" stroke-width="0.4"/>
<circle cx="89.94" cy="325.20" r="1.4" fill="#c0102c" stroke="#7a0818" stroke-width="0.4"/>
<circle cx="93.14" cy="325.20" r="1.4" fill="#c0102c" stroke="#7a0818" stroke-width="0.4"/>
<circle cx="91.54" cy="327.50" r="1.4" fill="#c0102c" stroke="#7a0818" stroke-width="0.4"/>
<circle cx="91.54" cy="336.00" r="1.4" fill="#c0102c" stroke="#7a0818" stroke-width="0.4"/>
<circle cx="91.54" cy="343.70" r="1.4" fill="#c0102c" stroke="#7a0818" stroke-width="0.4"/>
<rect x="105.11" y="345.00" width="7.4" height="3" rx="1.5" fill="#c0102c"/>
<rect x="112.21" y="345.10" width="6.4" height="2.8" rx="1.4" fill="#1c4474"/>
<circle cx="108.81" cy="316.80" r="1.4" fill="#c0102c" stroke="#7a0818" stroke-width="0.4"/>
<circle cx="108.81" cy="318.50" r="1.4" fill="#c0102c" stroke="#7a0818" stroke-width="0.4"/>
<circle cx="108.81" cy="320.00" r="1.4" fill="#c0102c" stroke="#7a0818" stroke-width="0.4"/>
<circle cx="108.81" cy="325.00" r="1.4" fill="#c0102c" stroke="#7a0818" stroke-width="0.4"/>
<circle cx="108.81" cy="326.70" r="1.4" fill="#c0102c" stroke="#7a0818" stroke-width="0.4"/>
<circle cx="108.81" cy="328.50" r="1.4" fill="#c0102c" stroke="#7a0818" stroke-width="0.4"/>
<circle cx="108.81" cy="330.40" r="1.4" fill="#c0102c" stroke="#7a0818" stroke-width="0.4"/>
<circle cx="107.21" cy="336.20" r="1.4" fill="#c0102c" stroke="#7a0818" stroke-width="0.4"/>
<circle cx="110.41" cy="336.20" r="1.4" fill="#c0102c" stroke="#7a0818" stroke-width="0.4"/>
<path d="M115.41,313.50 L116.81,316.10 L114.01,316.10 Z" fill="#1c4474"/>
<path d="M115.41,327.00 L116.81,329.60 L114.01,329.60 Z" fill="#1c4474"/>
<path d="M113.81,337.70 L115.21,340.30 L112.41,340.30 Z" fill="#1c4474"/>
<path d="M117.01,337.70 L118.41,340.30 L115.61,340.30 Z" fill="#1c4474"/>
<path d="M115.41,339.70 L116.81,342.30 L114.01,342.30 Z" fill="#1c4474"/>
<line x1="106.21" y1="340.40" x2="111.41" y2="340.40" stroke="#555" stroke-width="0.7" />
<rect x="122.38" y="345.00" width="7.4" height="3" rx="1.5" fill="#c0102c"/>
<rect x="129.48" y="345.10" width="6.4" height="2.8" rx="1.4" fill="#1c4474"/>
<circle cx="126.08" cy="286.60" r="1.4" fill="#c0102c" stroke="#7a0818" stroke-width="0.4"/>
<circle cx="126.08" cy="317.30" r="1.4" fill="#c0102c" stroke="#7a0818" stroke-width="0.4"/>
<circle cx="126.08" cy="320.00" r="1.4" fill="#c0102c" stroke="#7a0818" stroke-width="0.4"/>
<circle cx="126.08" cy="325.40" r="1.4" fill="#c0102c" stroke="#7a0818" stroke-width="0.4"/>
<circle cx="124.48" cy="333.00" r="1.4" fill="#c0102c" stroke="#7a0818" stroke-width="0.4"/>
<circle cx="127.68" cy="333.00" r="1.4" fill="#c0102c" stroke="#7a0818" stroke-width="0.4"/>
<circle cx="126.08" cy="334.60" r="1.4" fill="#c0102c" stroke="#7a0818" stroke-width="0.4"/>
<circle cx="126.08" cy="336.20" r="1.4" fill="#c0102c" stroke="#7a0818" stroke-width="0.4"/>
<circle cx="126.08" cy="341.50" r="1.4" fill="#c0102c" stroke="#7a0818" stroke-width="0.4"/>
<path d="M132.68,327.00 L134.08,329.60 L131.28,329.60 Z" fill="#1c4474"/>
<path d="M132.68,332.30 L134.08,334.90 L131.28,334.90 Z" fill="#1c4474"/>
<path d="M132.68,342.20 L134.08,344.80 L131.28,344.80 Z" fill="#1c4474"/>
<path d="M131.08,343.50 L132.48,346.10 L129.68,346.10 Z" fill="#1c4474"/>
<path d="M134.28,343.50 L135.68,346.10 L132.88,346.10 Z" fill="#1c4474"/>
<line x1="130.08" y1="339.20" x2="135.28" y2="339.20" stroke="#556" stroke-width="0.7" />
<rect x="139.65" y="345.00" width="7.4" height="3" rx="1.5" fill="#c0102c"/>
<rect x="146.75" y="345.10" width="6.4" height="2.8" rx="1.4" fill="#1c4474"/>
<circle cx="143.35" cy="303.60" r="1.4" fill="#c0102c" stroke="#7a0818" stroke-width="0.4"/>
<circle cx="143.35" cy="311.60" r="1.4" fill="#c0102c" stroke="#7a0818" stroke-width="0.4"/>
<circle cx="143.35" cy="317.20" r="1.4" fill="#c0102c" stroke="#7a0818" stroke-width="0.4"/>
<circle cx="141.75" cy="322.50" r="1.4" fill="#c0102c" stroke="#7a0818" stroke-width="0.4"/>
<circle cx="144.95" cy="322.50" r="1.4" fill="#c0102c" stroke="#7a0818" stroke-width="0.4"/>
<circle cx="143.35" cy="327.80" r="1.4" fill="#c0102c" stroke="#7a0818" stroke-width="0.4"/>
<circle cx="141.75" cy="335.00" r="1.4" fill="#c0102c" stroke="#7a0818" stroke-width="0.4"/>
<circle cx="144.95" cy="335.00" r="1.4" fill="#c0102c" stroke="#7a0818" stroke-width="0.4"/>
<circle cx="143.35" cy="336.80" r="1.4" fill="#c0102c" stroke="#7a0818" stroke-width="0.4"/>
<circle cx="143.35" cy="341.40" r="1.4" fill="#c0102c" stroke="#7a0818" stroke-width="0.4"/>
<path d="M149.95,321.30 L151.35,323.90 L148.55,323.90 Z" fill="#1c4474"/>
<path d="M148.35,334.90 L149.75,337.50 L146.95,337.50 Z" fill="#1c4474"/>
<path d="M151.55,334.90 L152.95,337.50 L150.15,337.50 Z" fill="#1c4474"/>
<path d="M148.35,338.50 L149.75,341.10 L146.95,341.10 Z" fill="#1c4474"/>
<path d="M151.55,338.50 L152.95,341.10 L150.15,341.10 Z" fill="#1c4474"/>
<rect x="156.92" y="345.00" width="7.4" height="3" rx="1.5" fill="#c0102c"/>
<rect x="164.02" y="345.10" width="6.4" height="2.8" rx="1.4" fill="#1c4474"/>
<circle cx="160.62" cy="316.10" r="1.4" fill="#c0102c" stroke="#7a0818" stroke-width="0.4"/>
<circle cx="160.62" cy="318.50" r="1.4" fill="#c0102c" stroke="#7a0818" stroke-width="0.4"/>
<circle cx="160.62" cy="325.20" r="1.4" fill="#c0102c" stroke="#7a0818" stroke-width="0.4"/>
<circle cx="160.62" cy="330.20" r="1.4" fill="#c0102c" stroke="#7a0818" stroke-width="0.4"/>
<circle cx="160.62" cy="332.00" r="1.4" fill="#c0102c" stroke="#7a0818" stroke-width="0.4"/>
<circle cx="159.02" cy="334.70" r="1.4" fill="#c0102c" stroke="#7a0818" stroke-width="0.4"/>
<circle cx="162.22" cy="334.70" r="1.4" fill="#c0102c" stroke="#7a0818" stroke-width="0.4"/>
<circle cx="159.02" cy="336.40" r="1.4" fill="#c0102c" stroke="#7a0818" stroke-width="0.4"/>
<circle cx="162.22" cy="336.40" r="1.4" fill="#c0102c" stroke="#7a0818" stroke-width="0.4"/>
<path d="M167.22,318.30 L168.62,320.90 L165.82,320.90 Z" fill="#1c4474"/>
<path d="M167.22,327.00 L168.62,329.60 L165.82,329.60 Z" fill="#1c4474"/>
<path d="M167.22,334.90 L168.62,337.50 L165.82,337.50 Z" fill="#1c4474"/>
<path d="M167.22,337.60 L168.62,340.20 L165.82,340.20 Z" fill="#1c4474"/>
<path d="M167.22,339.90 L168.62,342.50 L165.82,342.50 Z" fill="#1c4474"/>
<line x1="158.02" y1="340.40" x2="163.22" y2="340.40" stroke="#555" stroke-width="0.7" />
<rect x="174.19" y="345.00" width="7.4" height="3" rx="1.5" fill="#c0102c"/>
<rect x="181.29" y="345.10" width="6.4" height="2.8" rx="1.4" fill="#1c4474"/>
<circle cx="177.89" cy="287.30" r="1.4" fill="#c0102c" stroke="#7a0818" stroke-width="0.4"/>
<circle cx="177.89" cy="322.80" r="1.4" fill="#c0102c" stroke="#7a0818" stroke-width="0.4"/>
<circle cx="177.89" cy="330.20" r="1.4" fill="#c0102c" stroke="#7a0818" stroke-width="0.4"/>
<circle cx="177.89" cy="332.00" r="1.4" fill="#c0102c" stroke="#7a0818" stroke-width="0.4"/>
<circle cx="177.89" cy="334.70" r="1.4" fill="#c0102c" stroke="#7a0818" stroke-width="0.4"/>
<circle cx="177.89" cy="336.80" r="1.4" fill="#c0102c" stroke="#7a0818" stroke-width="0.4"/>
<path d="M184.49,332.30 L185.89,334.90 L183.09,334.90 Z" fill="#1c4474"/>
<path d="M184.49,334.90 L185.89,337.50 L183.09,337.50 Z" fill="#1c4474"/>
<path d="M182.89,336.90 L184.29,339.50 L181.49,339.50 Z" fill="#1c4474"/>
<path d="M186.09,336.90 L187.49,339.50 L184.69,339.50 Z" fill="#1c4474"/>
<line x1="175.29" y1="340.40" x2="180.49" y2="340.40" stroke="#555" stroke-width="0.7" />
<line x1="181.89" y1="343.70" x2="187.09" y2="343.70" stroke="#556" stroke-width="0.7" />
<rect x="191.46" y="345.00" width="7.4" height="3" rx="1.5" fill="#c0102c"/>
<rect x="198.56" y="345.10" width="6.4" height="2.8" rx="1.4" fill="#1c4474"/>
<circle cx="195.16" cy="314.50" r="1.4" fill="#c0102c" stroke="#7a0818" stroke-width="0.4"/>
<circle cx="195.16" cy="319.80" r="1.4" fill="#c0102c" stroke="#7a0818" stroke-width="0.4"/>
<circle cx="195.16" cy="325.20" r="1.4" fill="#c0102c" stroke="#7a0818" stroke-width="0.4"/>
<circle cx="195.16" cy="327.10" r="1.4" fill="#c0102c" stroke="#7a0818" stroke-width="0.4"/>
<circle cx="193.56" cy="330.20" r="1.4" fill="#c0102c" stroke="#7a0818" stroke-width="0.4"/>
<circle cx="196.76" cy="330.20" r="1.4" fill="#c0102c" stroke="#7a0818" stroke-width="0.4"/>
<path d="M201.76,329.60 L203.16,332.20 L200.36,332.20 Z" fill="#1c4474"/>
<path d="M201.76,338.30 L203.16,340.90 L200.36,340.90 Z" fill="#1c4474"/>
<path d="M200.16,339.90 L201.56,342.50 L198.76,342.50 Z" fill="#1c4474"/>
<path d="M203.36,339.90 L204.76,342.50 L201.96,342.50 Z" fill="#1c4474"/>
<line x1="192.56" y1="340.00" x2="197.76" y2="340.00" stroke="#555" stroke-width="0.7" />
<rect x="208.73" y="345.00" width="7.4" height="3" rx="1.5" fill="#c0102c"/>
<rect x="215.83" y="345.10" width="6.4" height="2.8" rx="1.4" fill="#1c4474"/>
<circle cx="212.43" cy="287.10" r="1.4" fill="#c0102c" stroke="#7a0818" stroke-width="0.4"/>
<circle cx="212.43" cy="319.90" r="1.4" fill="#c0102c" stroke="#7a0818" stroke-width="0.4"/>
<circle cx="212.43" cy="330.70" r="1.4" fill="#c0102c" stroke="#7a0818" stroke-width="0.4"/>
<circle cx="212.43" cy="333.40" r="1.4" fill="#c0102c" stroke="#7a0818" stroke-width="0.4"/>
<circle cx="210.83" cy="335.20" r="1.4" fill="#c0102c" stroke="#7a0818" stroke-width="0.4"/>
<circle cx="214.03" cy="335.20" r="1.4" fill="#c0102c" stroke="#7a0818" stroke-width="0.4"/>
<path d="M217.43,331.30 L218.83,333.90 L216.03,333.90 Z" fill="#1c4474"/>
<path d="M220.63,331.30 L222.03,333.90 L219.23,333.90 Z" fill="#1c4474"/>
<path d="M219.03,335.50 L220.43,338.10 L217.63,338.10 Z" fill="#1c4474"/>
<path d="M219.03,338.20 L220.43,340.80 L217.63,340.80 Z" fill="#1c4474"/>
<path d="M219.03,340.90 L220.43,343.50 L217.63,343.50 Z" fill="#1c4474"/>
<line x1="209.83" y1="338.60" x2="215.03" y2="338.60" stroke="#555" stroke-width="0.7" />
<rect x="226.00" y="345.00" width="7.4" height="3" rx="1.5" fill="#c0102c"/>
<rect x="233.10" y="345.10" width="6.4" height="2.8" rx="1.4" fill="#1c4474"/>
<circle cx="229.70" cy="295.50" r="1.4" fill="#c0102c" stroke="#7a0818" stroke-width="0.4"/>
<circle cx="229.70" cy="303.60" r="1.4" fill="#c0102c" stroke="#7a0818" stroke-width="0.4"/>
<circle cx="229.70" cy="319.00" r="1.4" fill="#c0102c" stroke="#7a0818" stroke-width="0.4"/>
<circle cx="228.10" cy="322.00" r="1.4" fill="#c0102c" stroke="#7a0818" stroke-width="0.4"/>
<circle cx="231.30" cy="322.00" r="1.4" fill="#c0102c" stroke="#7a0818" stroke-width="0.4"/>
<circle cx="227.30" cy="324.40" r="1.4" fill="#c0102c" stroke="#7a0818" stroke-width="0.4"/>
<circle cx="229.70" cy="324.40" r="1.4" fill="#c0102c" stroke="#7a0818" stroke-width="0.4"/>
<circle cx="232.10" cy="324.40" r="1.4" fill="#c0102c" stroke="#7a0818" stroke-width="0.4"/>
<circle cx="228.10" cy="330.70" r="1.4" fill="#c0102c" stroke="#7a0818" stroke-width="0.4"/>
<circle cx="231.30" cy="330.70" r="1.4" fill="#c0102c" stroke="#7a0818" stroke-width="0.4"/>
<circle cx="227.30" cy="335.70" r="1.4" fill="#c0102c" stroke="#7a0818" stroke-width="0.4"/>
<circle cx="229.70" cy="335.70" r="1.4" fill="#c0102c" stroke="#7a0818" stroke-width="0.4"/>
<circle cx="232.10" cy="335.70" r="1.4" fill="#c0102c" stroke="#7a0818" stroke-width="0.4"/>
<circle cx="229.70" cy="338.20" r="1.4" fill="#c0102c" stroke="#7a0818" stroke-width="0.4"/>
<path d="M236.30,323.80 L237.70,326.40 L234.90,326.40 Z" fill="#1c4474"/>
<path d="M236.30,332.40 L237.70,335.00 L234.90,335.00 Z" fill="#1c4474"/>
<path d="M234.70,336.40 L236.10,339.00 L233.30,339.00 Z" fill="#1c4474"/>
<path d="M237.90,336.40 L239.30,339.00 L236.50,339.00 Z" fill="#1c4474"/>
<path d="M236.30,339.10 L237.70,341.70 L234.90,341.70 Z" fill="#1c4474"/>
<path d="M236.30,341.80 L237.70,344.40 L234.90,344.40 Z" fill="#1c4474"/>
<line x1="227.10" y1="332.80" x2="232.30" y2="332.80" stroke="#555" stroke-width="0.7" />
<rect x="243.27" y="345.00" width="7.4" height="3" rx="1.5" fill="#c0102c"/>
<rect x="250.37" y="345.10" width="6.4" height="2.8" rx="1.4" fill="#1c4474"/>
<circle cx="246.97" cy="275.70" r="1.4" fill="#c0102c" stroke="#7a0818" stroke-width="0.4"/>
<circle cx="245.37" cy="279.30" r="1.4" fill="#c0102c" stroke="#7a0818" stroke-width="0.4"/>
<circle cx="248.57" cy="279.30" r="1.4" fill="#c0102c" stroke="#7a0818" stroke-width="0.4"/>
<circle cx="245.37" cy="283.00" r="1.4" fill="#c0102c" stroke="#7a0818" stroke-width="0.4"/>
<circle cx="248.57" cy="283.00" r="1.4" fill="#c0102c" stroke="#7a0818" stroke-width="0.4"/>
<circle cx="244.57" cy="285.60" r="1.4" fill="#c0102c" stroke="#7a0818" stroke-width="0.4"/>
<circle cx="246.97" cy="285.60" r="1.4" fill="#c0102c" stroke="#7a0818" stroke-width="0.4"/>
<circle cx="249.37" cy="285.60" r="1.4" fill="#c0102c" stroke="#7a0818" stroke-width="0.4"/>
<circle cx="245.37" cy="287.20" r="1.4" fill="#c0102c" stroke="#7a0818" stroke-width="0.4"/>
<circle cx="248.57" cy="287.20" r="1.4" fill="#c0102c" stroke="#7a0818" stroke-width="0.4"/>
<circle cx="246.97" cy="322.60" r="1.4" fill="#c0102c" stroke="#7a0818" stroke-width="0.4"/>
<circle cx="245.37" cy="330.70" r="1.4" fill="#c0102c" stroke="#7a0818" stroke-width="0.4"/>
<circle cx="248.57" cy="330.70" r="1.4" fill="#c0102c" stroke="#7a0818" stroke-width="0.4"/>
<circle cx="246.97" cy="338.20" r="1.4" fill="#c0102c" stroke="#7a0818" stroke-width="0.4"/>
<path d="M251.97,335.50 L253.37,338.10 L250.57,338.10 Z" fill="#1c4474"/>
<path d="M255.17,335.50 L256.57,338.10 L253.77,338.10 Z" fill="#1c4474"/>
<path d="M253.57,338.20 L254.97,340.80 L252.17,340.80 Z" fill="#1c4474"/>
<path d="M253.57,340.90 L254.97,343.50 L252.17,343.50 Z" fill="#1c4474"/>
<text x="66.00" y="353.00" font-size="6.1" text-anchor="end" fill="#222" stroke="#222" stroke-width="0.2" transform="rotate(-45 66.00 353.00)">Pep01</text>
<text x="83.27" y="353.00" font-size="6.1" text-anchor="end" fill="#222" stroke="#222" stroke-width="0.2" transform="rotate(-45 83.27 353.00)">Pep02</text>
<text x="100.54" y="353.00" font-size="6.1" text-anchor="end" fill="#222" stroke="#222" stroke-width="0.2" transform="rotate(-45 100.54 353.00)">Pep03</text>
<text x="117.81" y="353.00" font-size="6.1" text-anchor="end" fill="#222" stroke="#222" stroke-width="0.2" transform="rotate(-45 117.81 353.00)">Pep04</text>
<text x="135.08" y="353.00" font-size="6.1" text-anchor="end" fill="#222" stroke="#222" stroke-width="0.2" transform="rotate(-45 135.08 353.00)">Pep05</text>
<text x="152.35" y="353.00" font-size="6.1" text-anchor="end" fill="#222" stroke="#222" stroke-width="0.2" transform="rotate(-45 152.35 353.00)">Pep06</text>
<text x="169.62" y="353.00" font-size="6.1" text-anchor="end" fill="#222" stroke="#222" stroke-width="0.2" transform="rotate(-45 169.62 353.00)">Pep07</text>
<text x="186.89" y="353.00" font-size="6.1" text-anchor="end" fill="#222" stroke="#222" stroke-width="0.2" transform="rotate(-45 186.89 353.00)">Pep08</text>
<text x="204.16" y="353.00" font-size="6.1" text-anchor="end" fill="#222" stroke="#222" stroke-width="0.2" transform="rotate(-45 204.16 353.00)">Pep09</text>
<text x="221.43" y="353.00" font-size="6.1" text-anchor="end" fill="#222" stroke="#222" stroke-width="0.2" transform="rotate(-45 221.43 353.00)">Pep10</text>
<text x="238.70" y="353.00" font-size="6.1" text-anchor="end" fill="#222" stroke="#222" stroke-width="0.2" transform="rotate(-45 238.70 353.00)">Pep11</text>
<text x="255.97" y="353.00" font-size="6.1" text-anchor="end" fill="#222" stroke="#222" stroke-width="0.2" transform="rotate(-45 255.97 353.00)">pp65</text>
<path d="M90.30,271.70 L90.30,268.90 L99.90,268.90 L99.90,271.70" fill="none" stroke="#222" stroke-width="0.8"/>
<text x="95.10" y="269.59" font-size="6.4" text-anchor="middle" fill="#111" stroke="#111" stroke-width="0.2" >**</text>
<path d="M229.30,271.20 L229.30,268.40 L237.80,268.40 L237.80,271.20" fill="none" stroke="#222" stroke-width="0.8"/>
<text x="233.55" y="269.09" font-size="6.4" text-anchor="middle" fill="#111" stroke="#111" stroke-width="0.2" >*</text>
<path d="M246.20,271.20 L246.20,268.40 L255.50,268.40 L255.50,271.20" fill="none" stroke="#222" stroke-width="0.8"/>
<text x="250.85" y="269.09" font-size="6.4" text-anchor="middle" fill="#111" stroke="#111" stroke-width="0.2" >***</text>
<line x1="53.00" y1="368.90" x2="98.20" y2="368.90" stroke="#555" stroke-width="0.9" />
<line x1="101.50" y1="369.10" x2="241.50" y2="369.10" stroke="#555" stroke-width="0.9" />
<text x="75.20" y="376.01" font-size="5.9" text-anchor="middle" fill="#444" stroke="#444" stroke-width="0.2" >canonical</text>
<text x="171.40" y="376.11" font-size="5.9" text-anchor="middle" fill="#444" stroke="#444" stroke-width="0.2" >cryptic</text>
<line x1="53.00" y1="380.20" x2="241.50" y2="380.20" stroke="#333" stroke-width="1" />
<text x="147.20" y="388.35" font-size="6.0" text-anchor="middle" fill="#111" stroke="#111" stroke-width="0.2" font-weight="bold" >HLA-A*03</text>
<line x1="298.40" y1="272.10" x2="298.40" y2="288.60" stroke="#222" stroke-width="1" />
<line x1="298.40" y1="293.40" x2="298.40" y2="346.30" stroke="#222" stroke-width="1" />
<line x1="296.20" y1="275.40" x2="298.40" y2="275.40" stroke="#222" stroke-width="0.7" />
<text x="292.60" y="278.12" font-size="6.2" text-anchor="end" fill="#222" stroke="#222" stroke-width="0.2" >1.5</text>
<line x1="296.20" y1="284.30" x2="298.40" y2="284.30" stroke="#222" stroke-width="0.7" />
<text x="292.60" y="286.82" font-size="6.2" text-anchor="end" fill="#222" stroke="#222" stroke-width="0.2" >0.5</text>
<line x1="296.20" y1="293.80" x2="298.40" y2="293.80" stroke="#222" stroke-width="0.7" />
<text x="292.60" y="296.22" font-size="6.2" text-anchor="end" fill="#222" stroke="#222" stroke-width="0.2" >0.02</text>
<line x1="296.20" y1="319.80" x2="298.40" y2="319.80" stroke="#222" stroke-width="0.7" />
<text x="292.60" y="322.22" font-size="6.2" text-anchor="end" fill="#222" stroke="#222" stroke-width="0.2" >0.01</text>
<line x1="296.20" y1="346.30" x2="298.40" y2="346.30" stroke="#222" stroke-width="0.7" />
<text x="292.60" y="348.52" font-size="6.2" text-anchor="end" fill="#222" stroke="#222" stroke-width="0.2" >0.00</text>
<line x1="296.90" y1="279.50" x2="298.40" y2="279.50" stroke="#222" stroke-width="0.6" />
<line x1="296.90" y1="306.90" x2="298.40" y2="306.90" stroke="#222" stroke-width="0.6" />
<line x1="296.90" y1="333.00" x2="298.40" y2="333.00" stroke="#222" stroke-width="0.6" />
<line x1="296.40" y1="288.60" x2="298.40" y2="288.60" stroke="#222" stroke-width="0.7" />
<path d="M297.10,293.2 L299.70,293.2 L298.40,295.2 Z" fill="#222"/>
<text x="273.40" y="309.56" font-size="5.75" text-anchor="middle" fill="#222" stroke="#222" stroke-width="0.2" transform="rotate(-90 273.4 307.5)">(%) IFN-γ<tspan font-size="3.8" dy="-2">+</tspan><tspan dy="2"> cells/CD8</tspan><tspan font-size="3.8" dy="-2">+</tspan><tspan dy="2"> cells</tspan></text>
<line x1="297.90" y1="346.30" x2="490.40" y2="346.30" stroke="#222" stroke-width="1" />
<rect x="301.10" y="344.80" width="7.4" height="3" rx="1.5" fill="#c0102c"/>
<rect x="310.00" y="344.90" width="6.4" height="2.8" rx="1.4" fill="#1c4474"/>
<circle cx="304.80" cy="288.00" r="1.4" fill="#c0102c" stroke="#7a0818" stroke-width="0.4"/>
<circle cx="304.80" cy="306.50" r="1.4" fill="#c0102c" stroke="#7a0818" stroke-width="0.4"/>
<circle cx="304.80" cy="319.80" r="1.4" fill="#c0102c" stroke="#7a0818" stroke-width="0.4"/>
<circle cx="303.20" cy="327.80" r="1.4" fill="#c0102c" stroke="#7a0818" stroke-width="0.4"/>
<circle cx="306.40" cy="327.80" r="1.4" fill="#c0102c" stroke="#7a0818" stroke-width="0.4"/>
<circle cx="302.40" cy="329.70" r="1.4" fill="#c0102c" stroke="#7a0818" stroke-width="0.4"/>
<circle cx="304.80" cy="329.70" r="1.4" fill="#c0102c" stroke="#7a0818" stroke-width="0.4"/>
<circle cx="307.20" cy="329.70" r="1.4" fill="#c0102c" stroke="#7a0818" stroke-width="0.4"/>
<circle cx="302.40" cy="332.00" r="1.4" fill="#c0102c" stroke="#7a0818" stroke-width="0.4"/>
<circle cx="304.80" cy="332.00" r="1.4" fill="#c0102c" stroke="#7a0818" stroke-width="0.4"/>
<circle cx="307.20" cy="332.00" r="1.4" fill="#c0102c" stroke="#7a0818" stroke-width="0.4"/>
<circle cx="304.80" cy="333.50" r="1.4" fill="#c0102c" stroke="#7a0818" stroke-width="0.4"/>
<circle cx="304.80" cy="338.20" r="1.4" fill="#c0102c" stroke="#7a0818" stroke-width="0.4"/>
<circle cx="304.80" cy="341.00" r="1.4" fill="#c0102c" stroke="#7a0818" stroke-width="0.4"/>
<path d="M313.20,292.50 L314.60,295.10 L311.80,295.10 Z" fill="#1c4474"/>
<path d="M313.20,331.60 L314.60,334.20 L311.80,334.20 Z" fill="#1c4474"/>
<line x1="310.60" y1="341.00" x2="315.80" y2="341.00" stroke="#556" stroke-width="0.7" />
<rect x="321.47" y="344.80" width="7.4" height="3" rx="1.5" fill="#c0102c"/>
<rect x="330.37" y="344.90" width="6.4" height="2.8" rx="1.4" fill="#1c4474"/>
<circle cx="323.57" cy="287.60" r="1.4" fill="#c0102c" stroke="#7a0818" stroke-width="0.4"/>
<circle cx="326.77" cy="287.60" r="1.4" fill="#c0102c" stroke="#7a0818" stroke-width="0.4"/>
<circle cx="325.17" cy="299.00" r="1.4" fill="#c0102c" stroke="#7a0818" stroke-width="0.4"/>
<circle cx="323.57" cy="319.30" r="1.4" fill="#c0102c" stroke="#7a0818" stroke-width="0.4"/>
<circle cx="326.77" cy="319.30" r="1.4" fill="#c0102c" stroke="#7a0818" stroke-width="0.4"/>
<circle cx="323.57" cy="327.40" r="1.4" fill="#c0102c" stroke="#7a0818" stroke-width="0.4"/>
<circle cx="326.77" cy="327.40" r="1.4" fill="#c0102c" stroke="#7a0818" stroke-width="0.4"/>
<circle cx="325.17" cy="329.70" r="1.4" fill="#c0102c" stroke="#7a0818" stroke-width="0.4"/>
<circle cx="325.17" cy="333.50" r="1.4" fill="#c0102c" stroke="#7a0818" stroke-width="0.4"/>
<circle cx="322.77" cy="337.70" r="1.4" fill="#c0102c" stroke="#7a0818" stroke-width="0.4"/>
<circle cx="325.17" cy="337.70" r="1.4" fill="#c0102c" stroke="#7a0818" stroke-width="0.4"/>
<circle cx="327.57" cy="337.70" r="1.4" fill="#c0102c" stroke="#7a0818" stroke-width="0.4"/>
<path d="M331.97,334.30 L333.37,336.90 L330.57,336.90 Z" fill="#1c4474"/>
<path d="M335.17,334.30 L336.57,336.90 L333.77,336.90 Z" fill="#1c4474"/>
<path d="M333.57,336.20 L334.97,338.80 L332.17,338.80 Z" fill="#1c4474"/>
<line x1="330.97" y1="343.00" x2="336.17" y2="343.00" stroke="#556" stroke-width="0.7" />
<rect x="341.84" y="344.80" width="7.4" height="3" rx="1.5" fill="#c0102c"/>
<rect x="350.74" y="344.90" width="6.4" height="2.8" rx="1.4" fill="#1c4474"/>
<circle cx="345.54" cy="314.50" r="1.4" fill="#c0102c" stroke="#7a0818" stroke-width="0.4"/>
<circle cx="343.94" cy="319.80" r="1.4" fill="#c0102c" stroke="#7a0818" stroke-width="0.4"/>
<circle cx="347.14" cy="319.80" r="1.4" fill="#c0102c" stroke="#7a0818" stroke-width="0.4"/>
<circle cx="345.54" cy="330.60" r="1.4" fill="#c0102c" stroke="#7a0818" stroke-width="0.4"/>
<circle cx="345.54" cy="333.50" r="1.4" fill="#c0102c" stroke="#7a0818" stroke-width="0.4"/>
<circle cx="345.54" cy="335.80" r="1.4" fill="#c0102c" stroke="#7a0818" stroke-width="0.4"/>
<circle cx="345.54" cy="339.20" r="1.4" fill="#c0102c" stroke="#7a0818" stroke-width="0.4"/>
<path d="M353.94,287.40 L355.34,290.00 L352.54,290.00 Z" fill="#1c4474"/>
<path d="M353.94,318.70 L355.34,321.30 L352.54,321.30 Z" fill="#1c4474"/>
<line x1="351.34" y1="333.50" x2="356.54" y2="333.50" stroke="#556" stroke-width="0.7" />
<rect x="362.21" y="344.80" width="7.4" height="3" rx="1.5" fill="#c0102c"/>
<rect x="371.11" y="344.90" width="6.4" height="2.8" rx="1.4" fill="#1c4474"/>
<circle cx="365.91" cy="288.00" r="1.4" fill="#c0102c" stroke="#7a0818" stroke-width="0.4"/>
<circle cx="364.31" cy="314.50" r="1.4" fill="#c0102c" stroke="#7a0818" stroke-width="0.4"/>
<circle cx="367.51" cy="314.50" r="1.4" fill="#c0102c" stroke="#7a0818" stroke-width="0.4"/>
<circle cx="365.91" cy="327.40" r="1.4" fill="#c0102c" stroke="#7a0818" stroke-width="0.4"/>
<circle cx="365.91" cy="329.70" r="1.4" fill="#c0102c" stroke="#7a0818" stroke-width="0.4"/>
<circle cx="364.31" cy="333.50" r="1.4" fill="#c0102c" stroke="#7a0818" stroke-width="0.4"/>
<circle cx="367.51" cy="333.50" r="1.4" fill="#c0102c" stroke="#7a0818" stroke-width="0.4"/>
<circle cx="364.31" cy="338.20" r="1.4" fill="#c0102c" stroke="#7a0818" stroke-width="0.4"/>
<circle cx="367.51" cy="338.20" r="1.4" fill="#c0102c" stroke="#7a0818" stroke-width="0.4"/>
<path d="M374.31,339.50 L375.71,342.10 L372.91,342.10 Z" fill="#1c4474"/>
<rect x="382.58" y="344.80" width="7.4" height="3" rx="1.5" fill="#c0102c"/>
<rect x="391.48" y="344.90" width="6.4" height="2.8" rx="1.4" fill="#1c4474"/>
<circle cx="386.28" cy="304.00" r="1.4" fill="#c0102c" stroke="#7a0818" stroke-width="0.4"/>
<circle cx="386.28" cy="314.50" r="1.4" fill="#c0102c" stroke="#7a0818" stroke-width="0.4"/>
<circle cx="386.28" cy="317.40" r="1.4" fill="#c0102c" stroke="#7a0818" stroke-width="0.4"/>
<circle cx="386.28" cy="330.60" r="1.4" fill="#c0102c" stroke="#7a0818" stroke-width="0.4"/>
<circle cx="386.28" cy="333.50" r="1.4" fill="#c0102c" stroke="#7a0818" stroke-width="0.4"/>
<circle cx="383.88" cy="338.20" r="1.4" fill="#c0102c" stroke="#7a0818" stroke-width="0.4"/>
<circle cx="386.28" cy="338.20" r="1.4" fill="#c0102c" stroke="#7a0818" stroke-width="0.4"/>
<circle cx="388.68" cy="338.20" r="1.4" fill="#c0102c" stroke="#7a0818" stroke-width="0.4"/>
<path d="M394.68,318.70 L396.08,321.30 L393.28,321.30 Z" fill="#1c4474"/>
<path d="M393.08,337.70 L394.48,340.30 L391.68,340.30 Z" fill="#1c4474"/>
<path d="M396.28,337.70 L397.68,340.30 L394.88,340.30 Z" fill="#1c4474"/>
<path d="M392.28,340.00 L393.68,342.60 L390.88,342.60 Z" fill="#1c4474"/>
<path d="M394.68,340.00 L396.08,342.60 L393.28,342.60 Z" fill="#1c4474"/>
<path d="M397.08,340.00 L398.48,342.60 L395.68,342.60 Z" fill="#1c4474"/>
<rect x="402.95" y="344.80" width="7.4" height="3" rx="1.5" fill="#c0102c"/>
<rect x="411.85" y="344.90" width="6.4" height="2.8" rx="1.4" fill="#1c4474"/>
<circle cx="405.05" cy="288.00" r="1.4" fill="#c0102c" stroke="#7a0818" stroke-width="0.4"/>
<circle cx="408.25" cy="288.00" r="1.4" fill="#c0102c" stroke="#7a0818" stroke-width="0.4"/>
<circle cx="406.65" cy="319.80" r="1.4" fill="#c0102c" stroke="#7a0818" stroke-width="0.4"/>
<circle cx="406.65" cy="327.80" r="1.4" fill="#c0102c" stroke="#7a0818" stroke-width="0.4"/>
<circle cx="406.65" cy="330.60" r="1.4" fill="#c0102c" stroke="#7a0818" stroke-width="0.4"/>
<circle cx="406.65" cy="336.30" r="1.4" fill="#c0102c" stroke="#7a0818" stroke-width="0.4"/>
<circle cx="406.65" cy="341.00" r="1.4" fill="#c0102c" stroke="#7a0818" stroke-width="0.4"/>
<path d="M415.05,340.00 L416.45,342.60 L413.65,342.60 Z" fill="#1c4474"/>
<line x1="404.05" y1="333.50" x2="409.25" y2="333.50" stroke="#555" stroke-width="0.7" />
<rect x="423.32" y="344.80" width="7.4" height="3" rx="1.5" fill="#c0102c"/>
<rect x="432.22" y="344.90" width="6.4" height="2.8" rx="1.4" fill="#1c4474"/>
<circle cx="424.62" cy="288.00" r="1.4" fill="#c0102c" stroke="#7a0818" stroke-width="0.4"/>
<circle cx="427.02" cy="288.00" r="1.4" fill="#c0102c" stroke="#7a0818" stroke-width="0.4"/>
<circle cx="429.42" cy="288.00" r="1.4" fill="#c0102c" stroke="#7a0818" stroke-width="0.4"/>
<circle cx="427.02" cy="306.50" r="1.4" fill="#c0102c" stroke="#7a0818" stroke-width="0.4"/>
<circle cx="427.02" cy="316.80" r="1.4" fill="#c0102c" stroke="#7a0818" stroke-width="0.4"/>
<circle cx="427.02" cy="319.30" r="1.4" fill="#c0102c" stroke="#7a0818" stroke-width="0.4"/>
<circle cx="427.02" cy="327.80" r="1.4" fill="#c0102c" stroke="#7a0818" stroke-width="0.4"/>
<circle cx="424.62" cy="335.40" r="1.4" fill="#c0102c" stroke="#7a0818" stroke-width="0.4"/>
<circle cx="427.02" cy="335.40" r="1.4" fill="#c0102c" stroke="#7a0818" stroke-width="0.4"/>
<circle cx="429.42" cy="335.40" r="1.4" fill="#c0102c" stroke="#7a0818" stroke-width="0.4"/>
<path d="M435.42,331.60 L436.82,334.20 L434.02,334.20 Z" fill="#1c4474"/>
<path d="M435.42,337.30 L436.82,339.90 L434.02,339.90 Z" fill="#1c4474"/>
<path d="M435.42,341.10 L436.82,343.70 L434.02,343.70 Z" fill="#1c4474"/>
<line x1="424.42" y1="322.50" x2="429.62" y2="322.50" stroke="#555" stroke-width="0.7" />
<rect x="443.69" y="344.80" width="7.4" height="3" rx="1.5" fill="#c0102c"/>
<rect x="452.59" y="344.90" width="6.4" height="2.8" rx="1.4" fill="#1c4474"/>
<circle cx="447.39" cy="288.00" r="1.4" fill="#c0102c" stroke="#7a0818" stroke-width="0.4"/>
<circle cx="447.39" cy="319.80" r="1.4" fill="#c0102c" stroke="#7a0818" stroke-width="0.4"/>
<circle cx="447.39" cy="325.00" r="1.4" fill="#c0102c" stroke="#7a0818" stroke-width="0.4"/>
<circle cx="445.79" cy="327.80" r="1.4" fill="#c0102c" stroke="#7a0818" stroke-width="0.4"/>
<circle cx="448.99" cy="327.80" r="1.4" fill="#c0102c" stroke="#7a0818" stroke-width="0.4"/>
<circle cx="444.99" cy="333.50" r="1.4" fill="#c0102c" stroke="#7a0818" stroke-width="0.4"/>
<circle cx="447.39" cy="333.50" r="1.4" fill="#c0102c" stroke="#7a0818" stroke-width="0.4"/>
<circle cx="449.79" cy="333.50" r="1.4" fill="#c0102c" stroke="#7a0818" stroke-width="0.4"/>
<circle cx="444.99" cy="336.30" r="1.4" fill="#c0102c" stroke="#7a0818" stroke-width="0.4"/>
<circle cx="447.39" cy="336.30" r="1.4" fill="#c0102c" stroke="#7a0818" stroke-width="0.4"/>
<circle cx="449.79" cy="336.30" r="1.4" fill="#c0102c" stroke="#7a0818" stroke-width="0.4"/>
<circle cx="444.99" cy="339.20" r="1.4" fill="#c0102c" stroke="#7a0818" stroke-width="0.4"/>
<circle cx="447.39" cy="339.20" r="1.4" fill="#c0102c" stroke="#7a0818" stroke-width="0.4"/>
<circle cx="449.79" cy="339.20" r="1.4" fill="#c0102c" stroke="#7a0818" stroke-width="0.4"/>
<circle cx="444.99" cy="341.50" r="1.4" fill="#c0102c" stroke="#7a0818" stroke-width="0.4"/>
<circle cx="447.39" cy="341.50" r="1.4" fill="#c0102c" stroke="#7a0818" stroke-width="0.4"/>
<circle cx="449.79" cy="341.50" r="1.4" fill="#c0102c" stroke="#7a0818" stroke-width="0.4"/>
<path d="M455.79,329.10 L457.19,331.70 L454.39,331.70 Z" fill="#1c4474"/>
<rect x="464.06" y="344.80" width="7.4" height="3" rx="1.5" fill="#c0102c"/>
<rect x="472.96" y="344.90" width="6.4" height="2.8" rx="1.4" fill="#1c4474"/>
<circle cx="467.76" cy="277.50" r="1.4" fill="#c0102c" stroke="#7a0818" stroke-width="0.4"/>
<circle cx="467.76" cy="281.00" r="1.4" fill="#c0102c" stroke="#7a0818" stroke-width="0.4"/>
<circle cx="467.76" cy="284.70" r="1.4" fill="#c0102c" stroke="#7a0818" stroke-width="0.4"/>
<circle cx="465.36" cy="286.60" r="1.4" fill="#c0102c" stroke="#7a0818" stroke-width="0.4"/>
<circle cx="467.76" cy="286.60" r="1.4" fill="#c0102c" stroke="#7a0818" stroke-width="0.4"/>
<circle cx="470.16" cy="286.60" r="1.4" fill="#c0102c" stroke="#7a0818" stroke-width="0.4"/>
<circle cx="466.16" cy="288.20" r="1.4" fill="#c0102c" stroke="#7a0818" stroke-width="0.4"/>
<circle cx="469.36" cy="288.20" r="1.4" fill="#c0102c" stroke="#7a0818" stroke-width="0.4"/>
<circle cx="467.76" cy="293.20" r="1.4" fill="#c0102c" stroke="#7a0818" stroke-width="0.4"/>
<circle cx="467.76" cy="322.10" r="1.4" fill="#c0102c" stroke="#7a0818" stroke-width="0.4"/>
<circle cx="467.76" cy="324.00" r="1.4" fill="#c0102c" stroke="#7a0818" stroke-width="0.4"/>
<circle cx="466.16" cy="327.40" r="1.4" fill="#c0102c" stroke="#7a0818" stroke-width="0.4"/>
<circle cx="469.36" cy="327.40" r="1.4" fill="#c0102c" stroke="#7a0818" stroke-width="0.4"/>
<circle cx="467.76" cy="335.40" r="1.4" fill="#c0102c" stroke="#7a0818" stroke-width="0.4"/>
<circle cx="467.76" cy="338.20" r="1.4" fill="#c0102c" stroke="#7a0818" stroke-width="0.4"/>
<circle cx="467.76" cy="341.00" r="1.4" fill="#c0102c" stroke="#7a0818" stroke-width="0.4"/>
<path d="M476.16,334.30 L477.56,336.90 L474.76,336.90 Z" fill="#1c4474"/>
<text x="314.40" y="352.80" font-size="6.1" text-anchor="end" fill="#222" stroke="#222" stroke-width="0.2" transform="rotate(-45 314.40 352.80)">Pep12</text>
<text x="334.77" y="352.80" font-size="6.1" text-anchor="end" fill="#222" stroke="#222" stroke-width="0.2" transform="rotate(-45 334.77 352.80)">Pep13</text>
<text x="355.14" y="352.80" font-size="6.1" text-anchor="end" fill="#222" stroke="#222" stroke-width="0.2" transform="rotate(-45 355.14 352.80)">Pep14</text>
<text x="375.51" y="352.80" font-size="6.1" text-anchor="end" fill="#222" stroke="#222" stroke-width="0.2" transform="rotate(-45 375.51 352.80)">Pep15</text>
<text x="395.88" y="352.80" font-size="6.1" text-anchor="end" fill="#222" stroke="#222" stroke-width="0.2" transform="rotate(-45 395.88 352.80)">Pep16</text>
<text x="416.25" y="352.80" font-size="6.1" text-anchor="end" fill="#222" stroke="#222" stroke-width="0.2" transform="rotate(-45 416.25 352.80)">Pep17</text>
<text x="436.62" y="352.80" font-size="6.1" text-anchor="end" fill="#222" stroke="#222" stroke-width="0.2" transform="rotate(-45 436.62 352.80)">Pep18</text>
<text x="456.99" y="352.80" font-size="6.1" text-anchor="end" fill="#222" stroke="#222" stroke-width="0.2" transform="rotate(-45 456.99 352.80)">Pep19</text>
<text x="477.36" y="352.80" font-size="6.1" text-anchor="end" fill="#222" stroke="#222" stroke-width="0.2" transform="rotate(-45 477.36 352.80)">pp65</text>
<path d="M303.80,271.40 L303.80,268.60 L314.60,268.60 L314.60,271.40" fill="none" stroke="#222" stroke-width="0.8"/>
<text x="309.20" y="269.29" font-size="6.4" text-anchor="middle" fill="#111" stroke="#111" stroke-width="0.2" >*</text>
<path d="M324.17,271.40 L324.17,268.60 L334.97,268.60 L334.97,271.40" fill="none" stroke="#222" stroke-width="0.8"/>
<text x="329.57" y="269.29" font-size="6.4" text-anchor="middle" fill="#111" stroke="#111" stroke-width="0.2" >*</text>
<path d="M364.91,271.40 L364.91,268.60 L375.71,268.60 L375.71,271.40" fill="none" stroke="#222" stroke-width="0.8"/>
<text x="370.31" y="269.29" font-size="6.4" text-anchor="middle" fill="#111" stroke="#111" stroke-width="0.2" >**</text>
<path d="M405.65,271.40 L405.65,268.60 L416.45,268.60 L416.45,271.40" fill="none" stroke="#222" stroke-width="0.8"/>
<text x="411.05" y="269.29" font-size="6.4" text-anchor="middle" fill="#111" stroke="#111" stroke-width="0.2" >**</text>
<path d="M426.02,271.40 L426.02,268.60 L436.82,268.60 L436.82,271.40" fill="none" stroke="#222" stroke-width="0.8"/>
<text x="431.42" y="269.29" font-size="6.4" text-anchor="middle" fill="#111" stroke="#111" stroke-width="0.2" >**</text>
<path d="M446.39,271.40 L446.39,268.60 L457.19,268.60 L457.19,271.40" fill="none" stroke="#222" stroke-width="0.8"/>
<text x="451.79" y="269.29" font-size="6.4" text-anchor="middle" fill="#111" stroke="#111" stroke-width="0.2" >***</text>
<path d="M466.76,271.40 L466.76,268.60 L477.56,268.60 L477.56,271.40" fill="none" stroke="#222" stroke-width="0.8"/>
<text x="472.16" y="269.29" font-size="6.4" text-anchor="middle" fill="#111" stroke="#111" stroke-width="0.2" >***</text>
<line x1="301.60" y1="369.00" x2="436.50" y2="369.00" stroke="#555" stroke-width="0.9" />
<line x1="442.00" y1="369.10" x2="459.60" y2="369.10" stroke="#555" stroke-width="0.9" />
<text x="369.30" y="375.71" font-size="5.9" text-anchor="middle" fill="#444" stroke="#444" stroke-width="0.2" >canonical</text>
<text x="450.60" y="376.31" font-size="5.9" text-anchor="middle" fill="#444" stroke="#444" stroke-width="0.2" >cryptic</text>
<line x1="301.60" y1="380.30" x2="459.60" y2="380.30" stroke="#333" stroke-width="1" />
<text x="380.50" y="388.35" font-size="6.0" text-anchor="middle" fill="#111" stroke="#111" stroke-width="0.2" font-weight="bold" >HLA-B*15</text>
<circle cx="488.4" cy="287" r="1.15" fill="#7a1020"/>
<text x="491.60" y="290.76" font-size="6.3" text-anchor="start" fill="#222" stroke="#222" stroke-width="0.2" >HCMV+</text>
<path d="M488.2,294.6 L489.8,297.5 L486.6,297.5 Z" fill="#1a2a4a"/>
<text x="491.60" y="299.76" font-size="6.3" text-anchor="start" fill="#222" stroke="#222" stroke-width="0.2" >HCMV−</text>
<text x="6.50" y="411.27" font-size="10.8" text-anchor="start" fill="#111" stroke="#111" stroke-width="0.2" font-weight="bold" >C</text>
<rect x="122.60" y="428.40" width="96.80" height="4.52" fill="#ebf4e0"/>
<rect x="50.00" y="428.40" width="169.40" height="90.40" fill="none" stroke="#1a1a1a" stroke-width="1"/>
<line x1="50.00" y1="432.92" x2="219.40" y2="432.92" stroke="#222" stroke-width="1" stroke-dasharray="3,2"/>
<line x1="122.60" y1="428.40" x2="122.60" y2="518.80" stroke="#222" stroke-width="1" stroke-dasharray="3,2"/>
<line x1="48.00" y1="428.40" x2="50.00" y2="428.40" stroke="#222" stroke-width="0.7" />
<text x="45.40" y="430.62" font-size="6.2" text-anchor="end" fill="#222" stroke="#222" stroke-width="0.2" >0.0</text>
<line x1="48.70" y1="437.44" x2="50.00" y2="437.44" stroke="#222" stroke-width="0.6" />
<line x1="48.00" y1="446.48" x2="50.00" y2="446.48" stroke="#222" stroke-width="0.7" />
<text x="45.40" y="448.70" font-size="6.2" text-anchor="end" fill="#222" stroke="#222" stroke-width="0.2" >0.2</text>
<line x1="48.70" y1="455.52" x2="50.00" y2="455.52" stroke="#222" stroke-width="0.6" />
<line x1="48.00" y1="464.56" x2="50.00" y2="464.56" stroke="#222" stroke-width="0.7" />
<text x="45.40" y="466.78" font-size="6.2" text-anchor="end" fill="#222" stroke="#222" stroke-width="0.2" >0.4</text>
<line x1="48.70" y1="473.60" x2="50.00" y2="473.60" stroke="#222" stroke-width="0.6" />
<line x1="48.00" y1="482.64" x2="50.00" y2="482.64" stroke="#222" stroke-width="0.7" />
<text x="45.40" y="484.86" font-size="6.2" text-anchor="end" fill="#222" stroke="#222" stroke-width="0.2" >0.6</text>
<line x1="48.70" y1="491.68" x2="50.00" y2="491.68" stroke="#222" stroke-width="0.6" />
<line x1="48.00" y1="500.72" x2="50.00" y2="500.72" stroke="#222" stroke-width="0.7" />
<text x="45.40" y="502.94" font-size="6.2" text-anchor="end" fill="#222" stroke="#222" stroke-width="0.2" >0.8</text>
<line x1="48.70" y1="509.76" x2="50.00" y2="509.76" stroke="#222" stroke-width="0.6" />
<line x1="48.00" y1="518.80" x2="50.00" y2="518.80" stroke="#222" stroke-width="0.7" />
<text x="45.40" y="521.02" font-size="6.2" text-anchor="end" fill="#222" stroke="#222" stroke-width="0.2" >1.0</text>
<line x1="50.00" y1="426.60" x2="50.00" y2="428.40" stroke="#222" stroke-width="0.7" />
<text x="50.40" y="423.42" font-size="6.2" text-anchor="middle" fill="#222" stroke="#222" stroke-width="0.2" >0</text>
<line x1="98.40" y1="426.60" x2="98.40" y2="428.40" stroke="#222" stroke-width="0.7" />
<text x="98.80" y="423.42" font-size="6.2" text-anchor="middle" fill="#222" stroke="#222" stroke-width="0.2" >1</text>
<line x1="146.80" y1="426.60" x2="146.80" y2="428.40" stroke="#222" stroke-width="0.7" />
<text x="147.20" y="423.42" font-size="6.2" text-anchor="middle" fill="#222" stroke="#222" stroke-width="0.2" >2</text>
<line x1="195.20" y1="426.60" x2="195.20" y2="428.40" stroke="#222" stroke-width="0.7" />
<text x="195.60" y="423.42" font-size="6.2" text-anchor="middle" fill="#222" stroke="#222" stroke-width="0.2" >3</text>
<text x="135.00" y="413.58" font-size="5.8" text-anchor="middle" fill="#222" stroke="#222" stroke-width="0.2" >log<tspan font-size="4" dy="1.5">2</tspan><tspan dy="-1.5"> (mean-to-mean ratio)</tspan></text>
<text x="30.00" y="475.75" font-size="6.0" text-anchor="middle" fill="#222" stroke="#222" stroke-width="0.2" transform="rotate(-90 30.00 473.60)"><tspan font-style="italic">P</tspan>-value (Mann-whitney-U-test)</text>
<circle cx="163.74" cy="452.27" r="1.60" fill="#e0c018" stroke="#86730e" stroke-width="0.45"/>
<circle cx="197.62" cy="475.41" r="1.60" fill="#f09a3a" stroke="#905c22" stroke-width="0.45"/>
<path d="M195.20,427.10 L197.20,430.90 L193.20,430.90 Z" fill="#a8182a"/>
<circle cx="118.24" cy="492.13" r="1.60" fill="#d0186e" stroke="#7c0e42" stroke-width="0.45"/>
<circle cx="97.92" cy="490.78" r="1.60" fill="#3fa9dc" stroke="#256584" stroke-width="0.45"/>
<circle cx="67.91" cy="501.62" r="1.60" fill="#1a2250" stroke="#0f1430" stroke-width="0.45"/>
<circle cx="106.63" cy="511.39" r="1.60" fill="#4aa548" stroke="#2c632b" stroke-width="0.45"/>
<circle cx="110.98" cy="494.21" r="1.60" fill="#0e5a46" stroke="#08362a" stroke-width="0.45"/>
<circle cx="103.24" cy="496.20" r="1.60" fill="#3e2412" stroke="#25150a" stroke-width="0.45"/>
<path d="M132.76,430.00 L134.76,433.80 L130.76,433.80 Z" fill="#2a1838"/>
<circle cx="225.50" cy="443.60" r="1.30" fill="#e0c018" stroke="#86730e" stroke-width="0.45"/>
<text x="229.60" y="445.75" font-size="6.0" text-anchor="start" fill="#222" stroke="#222" stroke-width="0.2" >Pep01</text>
<circle cx="225.50" cy="450.78" r="1.30" fill="#f09a3a" stroke="#905c22" stroke-width="0.45"/>
<text x="229.60" y="452.93" font-size="6.0" text-anchor="start" fill="#222" stroke="#222" stroke-width="0.2" >Pep02</text>
<path d="M225.50,456.17 L227.12,459.26 L223.88,459.26 Z" fill="#a8182a"/>
<text x="229.60" y="460.11" font-size="6.0" text-anchor="start" fill="#222" stroke="#222" stroke-width="0.2" >Pep03</text>
<circle cx="225.50" cy="465.14" r="1.30" fill="#c8682e" stroke="#783e1b" stroke-width="0.45"/>
<text x="229.60" y="467.29" font-size="6.0" text-anchor="start" fill="#222" stroke="#222" stroke-width="0.2" >Pep04</text>
<circle cx="225.50" cy="472.32" r="1.30" fill="#d0186e" stroke="#7c0e42" stroke-width="0.45"/>
<text x="229.60" y="474.47" font-size="6.0" text-anchor="start" fill="#222" stroke="#222" stroke-width="0.2" >Pep05</text>
<circle cx="225.50" cy="479.50" r="1.30" fill="#3fa9dc" stroke="#256584" stroke-width="0.45"/>
<text x="229.60" y="481.65" font-size="6.0" text-anchor="start" fill="#222" stroke="#222" stroke-width="0.2" >Pep06</text>
<circle cx="225.50" cy="486.68" r="1.30" fill="#1a2250" stroke="#0f1430" stroke-width="0.45"/>
<text x="229.60" y="488.83" font-size="6.0" text-anchor="start" fill="#222" stroke="#222" stroke-width="0.2" >Pep07</text>
<circle cx="225.50" cy="493.86" r="1.30" fill="#4aa548" stroke="#2c632b" stroke-width="0.45"/>
<text x="229.60" y="496.01" font-size="6.0" text-anchor="start" fill="#222" stroke="#222" stroke-width="0.2" >Pep08</text>
<circle cx="225.50" cy="501.04" r="1.30" fill="#0e5a46" stroke="#08362a" stroke-width="0.45"/>
<text x="229.60" y="503.19" font-size="6.0" text-anchor="start" fill="#222" stroke="#222" stroke-width="0.2" >Pep09</text>
<circle cx="225.50" cy="508.22" r="1.30" fill="#3e2412" stroke="#25150a" stroke-width="0.45"/>
<text x="229.60" y="510.37" font-size="6.0" text-anchor="start" fill="#222" stroke="#222" stroke-width="0.2" >Pep10</text>
<path d="M225.50,513.61 L227.12,516.70 L223.88,516.70 Z" fill="#2a1838"/>
<text x="229.60" y="517.55" font-size="6.0" text-anchor="start" fill="#222" stroke="#222" stroke-width="0.2" >Pep11</text>
<text x="223.10" y="436.61" font-size="5.9" text-anchor="start" fill="#222" stroke="#222" stroke-width="0.2" >HLA-A*03</text>
<line x1="249.60" y1="441.00" x2="249.60" y2="459.60" stroke="#333" stroke-width="0.8" />
<line x1="249.60" y1="463.30" x2="249.60" y2="516.40" stroke="#333" stroke-width="0.8" />
<text x="254.00" y="451.60" font-size="5.6" text-anchor="middle" fill="#333" stroke="#333" stroke-width="0.2" transform="rotate(90 254 449.6)">canonical</text>
<text x="253.60" y="492.00" font-size="5.6" text-anchor="middle" fill="#333" stroke="#333" stroke-width="0.2" transform="rotate(90 253.6 490)">cryptic</text>
<rect x="371.19" y="428.40" width="94.11" height="4.52" fill="#ebf4e0"/>
<rect x="298.00" y="428.40" width="167.30" height="90.40" fill="none" stroke="#1a1a1a" stroke-width="1"/>
<line x1="298.00" y1="432.92" x2="465.30" y2="432.92" stroke="#222" stroke-width="1" stroke-dasharray="3,2"/>
<line x1="371.19" y1="428.40" x2="371.19" y2="518.80" stroke="#222" stroke-width="1" stroke-dasharray="3,2"/>
<line x1="296.00" y1="428.40" x2="298.00" y2="428.40" stroke="#222" stroke-width="0.7" />
<text x="293.40" y="430.62" font-size="6.2" text-anchor="end" fill="#222" stroke="#222" stroke-width="0.2" >0.0</text>
<line x1="296.70" y1="437.44" x2="298.00" y2="437.44" stroke="#222" stroke-width="0.6" />
<line x1="296.00" y1="446.48" x2="298.00" y2="446.48" stroke="#222" stroke-width="0.7" />
<text x="293.40" y="448.70" font-size="6.2" text-anchor="end" fill="#222" stroke="#222" stroke-width="0.2" >0.2</text>
<line x1="296.70" y1="455.52" x2="298.00" y2="455.52" stroke="#222" stroke-width="0.6" />
<line x1="296.00" y1="464.56" x2="298.00" y2="464.56" stroke="#222" stroke-width="0.7" />
<text x="293.40" y="466.78" font-size="6.2" text-anchor="end" fill="#222" stroke="#222" stroke-width="0.2" >0.4</text>
<line x1="296.70" y1="473.60" x2="298.00" y2="473.60" stroke="#222" stroke-width="0.6" />
<line x1="296.00" y1="482.64" x2="298.00" y2="482.64" stroke="#222" stroke-width="0.7" />
<text x="293.40" y="484.86" font-size="6.2" text-anchor="end" fill="#222" stroke="#222" stroke-width="0.2" >0.6</text>
<line x1="296.70" y1="491.68" x2="298.00" y2="491.68" stroke="#222" stroke-width="0.6" />
<line x1="296.00" y1="500.72" x2="298.00" y2="500.72" stroke="#222" stroke-width="0.7" />
<text x="293.40" y="502.94" font-size="6.2" text-anchor="end" fill="#222" stroke="#222" stroke-width="0.2" >0.8</text>
<line x1="296.70" y1="509.76" x2="298.00" y2="509.76" stroke="#222" stroke-width="0.6" />
<line x1="296.00" y1="518.80" x2="298.00" y2="518.80" stroke="#222" stroke-width="0.7" />
<text x="293.40" y="521.02" font-size="6.2" text-anchor="end" fill="#222" stroke="#222" stroke-width="0.2" >1.0</text>
<line x1="298.00" y1="426.60" x2="298.00" y2="428.40" stroke="#222" stroke-width="0.7" />
<text x="298.40" y="423.42" font-size="6.2" text-anchor="middle" fill="#222" stroke="#222" stroke-width="0.2" >-2</text>
<line x1="318.91" y1="426.60" x2="318.91" y2="428.40" stroke="#222" stroke-width="0.7" />
<text x="319.31" y="423.42" font-size="6.2" text-anchor="middle" fill="#222" stroke="#222" stroke-width="0.2" >-1</text>
<line x1="339.82" y1="426.60" x2="339.82" y2="428.40" stroke="#222" stroke-width="0.7" />
<text x="340.22" y="423.42" font-size="6.2" text-anchor="middle" fill="#222" stroke="#222" stroke-width="0.2" >0</text>
<line x1="360.74" y1="426.60" x2="360.74" y2="428.40" stroke="#222" stroke-width="0.7" />
<text x="361.14" y="423.42" font-size="6.2" text-anchor="middle" fill="#222" stroke="#222" stroke-width="0.2" >1</text>
<line x1="381.65" y1="426.60" x2="381.65" y2="428.40" stroke="#222" stroke-width="0.7" />
<text x="382.05" y="423.42" font-size="6.2" text-anchor="middle" fill="#222" stroke="#222" stroke-width="0.2" >2</text>
<line x1="402.56" y1="426.60" x2="402.56" y2="428.40" stroke="#222" stroke-width="0.7" />
<text x="402.96" y="423.42" font-size="6.2" text-anchor="middle" fill="#222" stroke="#222" stroke-width="0.2" >3</text>
<line x1="423.48" y1="426.60" x2="423.48" y2="428.40" stroke="#222" stroke-width="0.7" />
<text x="423.88" y="423.42" font-size="6.2" text-anchor="middle" fill="#222" stroke="#222" stroke-width="0.2" >4</text>
<line x1="444.39" y1="426.60" x2="444.39" y2="428.40" stroke="#222" stroke-width="0.7" />
<text x="444.79" y="423.42" font-size="6.2" text-anchor="middle" fill="#222" stroke="#222" stroke-width="0.2" >5</text>
<line x1="465.30" y1="426.60" x2="465.30" y2="428.40" stroke="#222" stroke-width="0.7" />
<text x="465.70" y="423.42" font-size="6.2" text-anchor="middle" fill="#222" stroke="#222" stroke-width="0.2" >6</text>
<text x="381.90" y="413.58" font-size="5.8" text-anchor="middle" fill="#222" stroke="#222" stroke-width="0.2" >log<tspan font-size="4" dy="1.5">2</tspan><tspan dy="-1.5"> (mean-to-mean ratio)</tspan></text>
<text x="278.00" y="475.75" font-size="6.0" text-anchor="middle" fill="#222" stroke="#222" stroke-width="0.2" transform="rotate(-90 278.00 473.60)"><tspan font-style="italic">P</tspan>-value (Mann-whitney-U-test)</text>
<circle cx="323.51" cy="448.74" r="1.60" fill="#8e0e1e" stroke="#550812" stroke-width="0.45"/>
<circle cx="361.99" cy="468.63" r="1.60" fill="#d0186e" stroke="#7c0e42" stroke-width="0.45"/>
<path d="M372.24,427.10 L374.24,430.90 L370.24,430.90 Z" fill="#f2c040"/>
<path d="M376.63,427.10 L378.63,430.90 L374.63,430.90 Z" fill="#f08a3a"/>
<path d="M408.84,427.10 L410.84,430.90 L406.84,430.90 Z" fill="#1a1020"/>
<path d="M421.38,427.10 L423.38,430.90 L419.38,430.90 Z" fill="#4aa0d0"/>
<path d="M442.30,427.10 L444.30,430.90 L440.30,430.90 Z" fill="#f08a3a"/>
<path d="M441.25,427.10 L443.25,430.90 L439.25,430.90 Z" fill="#f2c040"/>
<path d="M472.00,443.41 L473.62,446.50 L470.38,446.50 Z" fill="#f2c040"/>
<text x="475.80" y="447.35" font-size="6.0" text-anchor="start" fill="#222" stroke="#222" stroke-width="0.2" >Pep12</text>
<path d="M472.00,450.61 L473.62,453.70 L470.38,453.70 Z" fill="#f08a3a"/>
<text x="475.80" y="454.55" font-size="6.0" text-anchor="start" fill="#222" stroke="#222" stroke-width="0.2" >Pep13</text>
<rect x="470.70" y="458.30" width="2.60" height="2.60" fill="#8e0e1e"/>
<text x="475.80" y="461.75" font-size="6.0" text-anchor="start" fill="#222" stroke="#222" stroke-width="0.2" >Pep14</text>
<path d="M472.00,465.01 L473.62,468.10 L470.38,468.10 Z" fill="#a8404a"/>
<text x="475.80" y="468.95" font-size="6.0" text-anchor="start" fill="#222" stroke="#222" stroke-width="0.2" >Pep15</text>
<circle cx="472.00" cy="474.00" r="1.30" fill="#d0186e" stroke="#7c0e42" stroke-width="0.45"/>
<text x="475.80" y="476.15" font-size="6.0" text-anchor="start" fill="#222" stroke="#222" stroke-width="0.2" >Pep16</text>
<path d="M472.00,479.41 L473.62,482.50 L470.38,482.50 Z" fill="#cfc8a8"/>
<text x="475.80" y="483.35" font-size="6.0" text-anchor="start" fill="#222" stroke="#222" stroke-width="0.2" >Pep17</text>
<path d="M472.00,486.61 L473.62,489.70 L470.38,489.70 Z" fill="#4aa0d0"/>
<text x="475.80" y="490.55" font-size="6.0" text-anchor="start" fill="#222" stroke="#222" stroke-width="0.2" >Pep18</text>
<path d="M472.00,493.81 L473.62,496.90 L470.38,496.90 Z" fill="#1a1020"/>
<text x="475.80" y="497.75" font-size="6.0" text-anchor="start" fill="#222" stroke="#222" stroke-width="0.2" >Pep19</text>
<text x="470.00" y="435.71" font-size="5.9" text-anchor="start" fill="#222" stroke="#222" stroke-width="0.2" >HLA-B*15</text>
<line x1="495.40" y1="443.20" x2="495.40" y2="489.60" stroke="#333" stroke-width="0.8" />
<line x1="495.40" y1="492.50" x2="495.40" y2="498.80" stroke="#333" stroke-width="0.8" />
<text x="500.50" y="468.60" font-size="5.6" text-anchor="middle" fill="#333" stroke="#333" stroke-width="0.2" transform="rotate(90 500.5 466.6)">canonical</text>
<text x="500.40" y="498.00" font-size="5.6" text-anchor="middle" fill="#333" stroke="#333" stroke-width="0.2" transform="rotate(90 500.4 496)">cryptic</text>
<rect x="0" y="0" width="520" height="1" fill="#505050"/>
<rect x="0" y="0" width="1" height="527" fill="#505050"/>
<rect x="519" y="0" width="1" height="527" fill="#505050"/>
<line x1="0" y1="526.3" x2="520" y2="526.3" stroke="#454545" stroke-width="1.3"/>
</svg>
</body></html>
